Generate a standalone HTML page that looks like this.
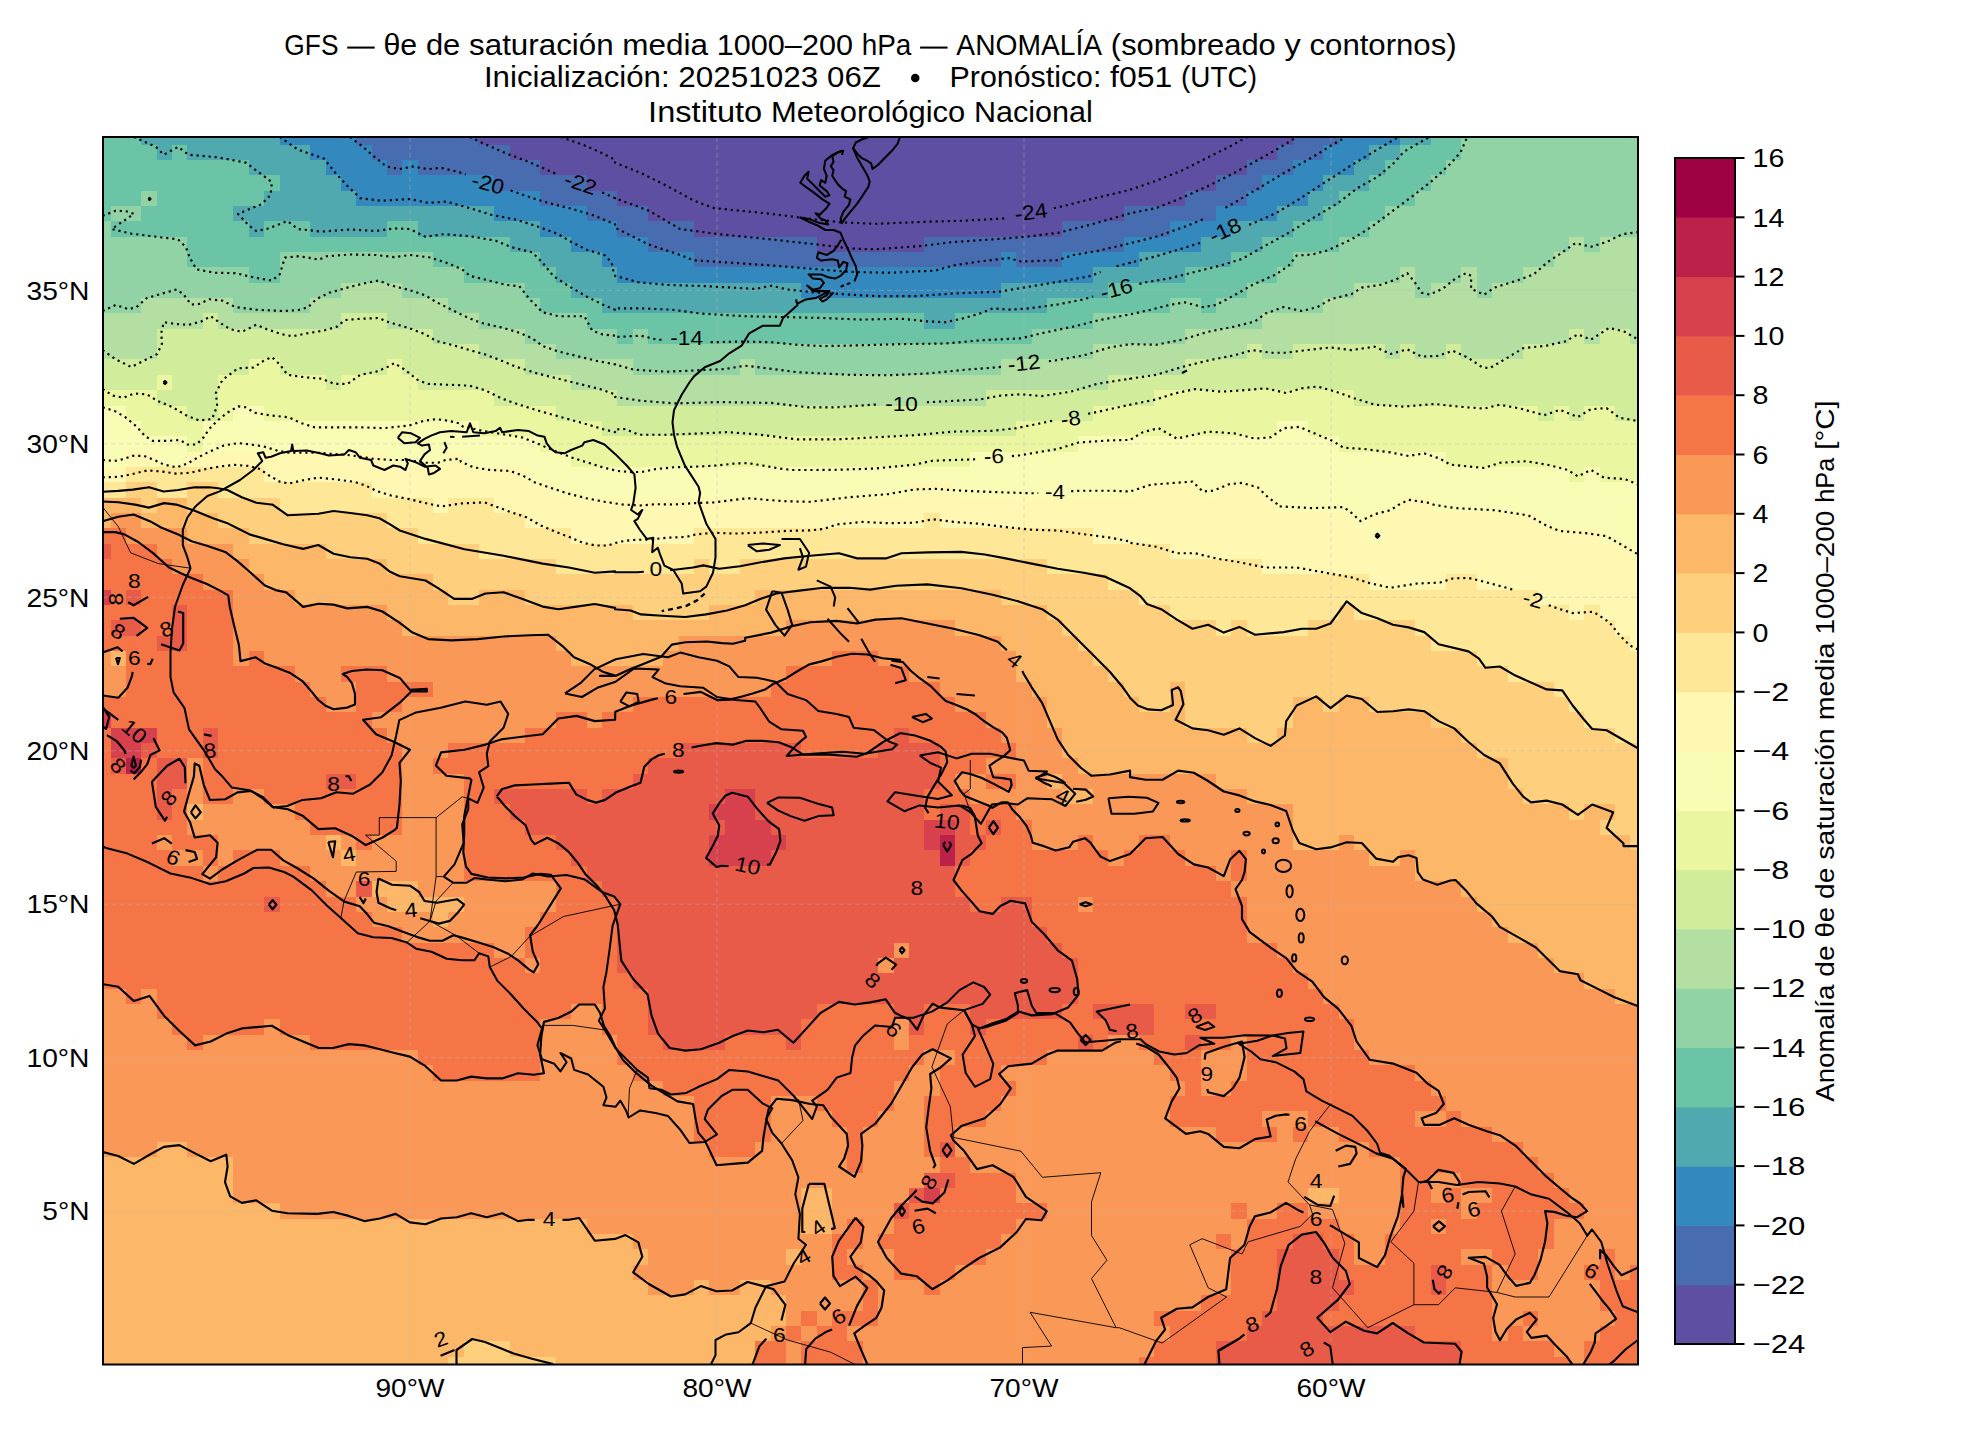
<!DOCTYPE html>
<html><head><meta charset="utf-8"><title>GFS</title>
<style>html,body{margin:0;padding:0;background:#fff}svg{display:block}text{font-family:"Liberation Sans",sans-serif;fill:#000}</style></head>
<body>
<svg width="1980" height="1440" viewBox="0 0 1980 1440">
<rect width="1980" height="1440" fill="#fff"/>
<text x="284.37" y="54.80" font-size="28.74" textLength="54.10" lengthAdjust="spacingAndGlyphs">GFS</text>
<rect x="347.21" y="46.55" width="27.50" height="2.06" fill="#000"/>
<text x="383.45" y="54.80" font-size="28.74" textLength="33.74" lengthAdjust="spacingAndGlyphs">θe</text>
<text x="425.93" y="54.80" font-size="28.74" textLength="34.38" lengthAdjust="spacingAndGlyphs">de</text>
<text x="469.05" y="54.80" font-size="28.74" textLength="144.56" lengthAdjust="spacingAndGlyphs">saturación</text>
<text x="622.36" y="54.80" font-size="28.74" textLength="85.66" lengthAdjust="spacingAndGlyphs">media</text>
<text x="716.75" y="54.80" font-size="28.74" textLength="136.22" lengthAdjust="spacingAndGlyphs">1000–200</text>
<text x="861.72" y="54.80" font-size="28.74" textLength="49.63" lengthAdjust="spacingAndGlyphs">hPa</text>
<rect x="920.09" y="46.55" width="27.50" height="2.06" fill="#000"/>
<text x="956.33" y="54.80" font-size="28.74" textLength="145.81" lengthAdjust="spacingAndGlyphs">ANOMALÍA</text>
<text x="1110.88" y="54.80" font-size="28.74" textLength="164.88" lengthAdjust="spacingAndGlyphs">(sombreado</text>
<text x="1284.50" y="54.80" font-size="28.74" textLength="16.27" lengthAdjust="spacingAndGlyphs">y</text>
<text x="1309.52" y="54.80" font-size="28.74" textLength="147.11" lengthAdjust="spacingAndGlyphs">contornos)</text>
<text x="483.96" y="87.00" font-size="28.74" textLength="185.64" lengthAdjust="spacingAndGlyphs">Inicialización:</text>
<text x="678.35" y="87.00" font-size="28.74" textLength="139.97" lengthAdjust="spacingAndGlyphs">20251023</text>
<text x="827.06" y="87.00" font-size="28.74" textLength="53.83" lengthAdjust="spacingAndGlyphs">06Z</text>
<circle cx="915.23" cy="77.92" r="4.26" fill="#000"/>
<text x="949.57" y="87.00" font-size="28.74" textLength="151.84" lengthAdjust="spacingAndGlyphs">Pronóstico:</text>
<text x="1110.14" y="87.00" font-size="28.74" textLength="62.17" lengthAdjust="spacingAndGlyphs">f051</text>
<text x="1181.05" y="87.00" font-size="28.74" textLength="75.98" lengthAdjust="spacingAndGlyphs">(UTC)</text>
<text x="648.14" y="122.40" font-size="28.74" textLength="114.11" lengthAdjust="spacingAndGlyphs">Instituto</text>
<text x="770.99" y="122.40" font-size="28.74" textLength="194.20" lengthAdjust="spacingAndGlyphs">Meteorológico</text>
<text x="973.93" y="122.40" font-size="28.74" textLength="118.93" lengthAdjust="spacingAndGlyphs">Nacional</text>
<defs><clipPath id="cp"><rect x="103.0" y="137.0" width="1535.0" height="1227.5"/></clipPath></defs>
<g clip-path="url(#cp)" shape-rendering="crispEdges">
<rect x="95.33" y="129.33" width="46.65" height="15.94" fill="#6bc4a5"/>
<rect x="141.38" y="129.33" width="138.75" height="15.94" fill="#50a9af"/>
<rect x="279.52" y="129.33" width="77.35" height="15.94" fill="#3389bd"/>
<rect x="356.27" y="129.33" width="123.40" height="15.94" fill="#486cb0"/>
<rect x="479.07" y="129.33" width="814.15" height="15.94" fill="#5e4fa2"/>
<rect x="1292.62" y="129.33" width="46.65" height="15.94" fill="#486cb0"/>
<rect x="1338.67" y="129.33" width="62.00" height="15.94" fill="#3389bd"/>
<rect x="1400.08" y="129.33" width="31.30" height="15.94" fill="#50a9af"/>
<rect x="1430.77" y="129.33" width="31.30" height="15.94" fill="#6bc4a5"/>
<rect x="1461.47" y="129.33" width="184.80" height="15.94" fill="#91d3a4"/>
<rect x="95.33" y="144.67" width="62.00" height="15.94" fill="#6bc4a5"/>
<rect x="156.72" y="144.67" width="15.95" height="15.94" fill="#50a9af"/>
<rect x="172.07" y="144.67" width="15.95" height="15.94" fill="#6bc4a5"/>
<rect x="187.43" y="144.67" width="123.40" height="15.94" fill="#50a9af"/>
<rect x="310.23" y="144.67" width="62.00" height="15.94" fill="#3389bd"/>
<rect x="371.62" y="144.67" width="138.75" height="15.94" fill="#486cb0"/>
<rect x="509.77" y="144.67" width="768.10" height="15.94" fill="#5e4fa2"/>
<rect x="1277.27" y="144.67" width="46.65" height="15.94" fill="#486cb0"/>
<rect x="1323.33" y="144.67" width="46.65" height="15.94" fill="#3389bd"/>
<rect x="1369.38" y="144.67" width="31.30" height="15.94" fill="#50a9af"/>
<rect x="1400.08" y="144.67" width="62.00" height="15.94" fill="#6bc4a5"/>
<rect x="1461.47" y="144.67" width="184.80" height="15.94" fill="#91d3a4"/>
<rect x="95.33" y="160.02" width="154.10" height="15.94" fill="#6bc4a5"/>
<rect x="248.82" y="160.02" width="77.35" height="15.94" fill="#50a9af"/>
<rect x="325.57" y="160.02" width="62.00" height="15.94" fill="#3389bd"/>
<rect x="386.97" y="160.02" width="15.95" height="15.94" fill="#486cb0"/>
<rect x="402.32" y="160.02" width="15.95" height="15.94" fill="#3389bd"/>
<rect x="417.68" y="160.02" width="123.40" height="15.94" fill="#486cb0"/>
<rect x="540.47" y="160.02" width="706.70" height="15.94" fill="#5e4fa2"/>
<rect x="1246.58" y="160.02" width="46.65" height="15.94" fill="#486cb0"/>
<rect x="1292.62" y="160.02" width="62.00" height="15.94" fill="#3389bd"/>
<rect x="1354.02" y="160.02" width="31.30" height="15.94" fill="#50a9af"/>
<rect x="1384.72" y="160.02" width="62.00" height="15.94" fill="#6bc4a5"/>
<rect x="1446.12" y="160.02" width="200.15" height="15.94" fill="#91d3a4"/>
<rect x="95.33" y="175.36" width="184.80" height="15.94" fill="#6bc4a5"/>
<rect x="279.52" y="175.36" width="62.00" height="15.94" fill="#50a9af"/>
<rect x="340.92" y="175.36" width="154.10" height="15.94" fill="#3389bd"/>
<rect x="494.43" y="175.36" width="92.70" height="15.94" fill="#486cb0"/>
<rect x="586.52" y="175.36" width="629.95" height="15.94" fill="#5e4fa2"/>
<rect x="1215.88" y="175.36" width="46.65" height="15.94" fill="#486cb0"/>
<rect x="1261.92" y="175.36" width="62.00" height="15.94" fill="#3389bd"/>
<rect x="1323.33" y="175.36" width="46.65" height="15.94" fill="#50a9af"/>
<rect x="1369.38" y="175.36" width="62.00" height="15.94" fill="#6bc4a5"/>
<rect x="1430.77" y="175.36" width="215.50" height="15.94" fill="#91d3a4"/>
<rect x="95.33" y="190.70" width="46.65" height="15.94" fill="#6bc4a5"/>
<rect x="141.38" y="190.70" width="15.95" height="15.94" fill="#91d3a4"/>
<rect x="156.72" y="190.70" width="108.05" height="15.94" fill="#6bc4a5"/>
<rect x="264.17" y="190.70" width="92.70" height="15.94" fill="#50a9af"/>
<rect x="356.27" y="190.70" width="184.80" height="15.94" fill="#3389bd"/>
<rect x="540.47" y="190.70" width="77.35" height="15.94" fill="#486cb0"/>
<rect x="617.23" y="190.70" width="568.55" height="15.94" fill="#5e4fa2"/>
<rect x="1185.17" y="190.70" width="62.00" height="15.94" fill="#486cb0"/>
<rect x="1246.58" y="190.70" width="62.00" height="15.94" fill="#3389bd"/>
<rect x="1307.97" y="190.70" width="31.30" height="15.94" fill="#50a9af"/>
<rect x="1338.67" y="190.70" width="77.35" height="15.94" fill="#6bc4a5"/>
<rect x="1415.42" y="190.70" width="230.85" height="15.94" fill="#91d3a4"/>
<rect x="95.33" y="206.05" width="15.95" height="15.94" fill="#6bc4a5"/>
<rect x="110.67" y="206.05" width="31.30" height="15.94" fill="#91d3a4"/>
<rect x="141.38" y="206.05" width="92.70" height="15.94" fill="#6bc4a5"/>
<rect x="233.47" y="206.05" width="261.55" height="15.94" fill="#50a9af"/>
<rect x="494.43" y="206.05" width="92.70" height="15.94" fill="#3389bd"/>
<rect x="586.52" y="206.05" width="62.00" height="15.94" fill="#486cb0"/>
<rect x="647.92" y="206.05" width="476.45" height="15.94" fill="#5e4fa2"/>
<rect x="1123.78" y="206.05" width="92.70" height="15.94" fill="#486cb0"/>
<rect x="1215.88" y="206.05" width="62.00" height="15.94" fill="#3389bd"/>
<rect x="1277.27" y="206.05" width="46.65" height="15.94" fill="#50a9af"/>
<rect x="1323.33" y="206.05" width="62.00" height="15.94" fill="#6bc4a5"/>
<rect x="1384.72" y="206.05" width="261.55" height="15.94" fill="#91d3a4"/>
<rect x="95.33" y="221.39" width="15.95" height="15.94" fill="#91d3a4"/>
<rect x="110.67" y="221.39" width="138.75" height="15.94" fill="#6bc4a5"/>
<rect x="248.82" y="221.39" width="15.95" height="15.94" fill="#50a9af"/>
<rect x="264.17" y="221.39" width="46.65" height="15.94" fill="#6bc4a5"/>
<rect x="310.23" y="221.39" width="77.35" height="15.94" fill="#50a9af"/>
<rect x="386.97" y="221.39" width="31.30" height="15.94" fill="#6bc4a5"/>
<rect x="417.68" y="221.39" width="123.40" height="15.94" fill="#50a9af"/>
<rect x="540.47" y="221.39" width="77.35" height="15.94" fill="#3389bd"/>
<rect x="617.23" y="221.39" width="77.35" height="15.94" fill="#486cb0"/>
<rect x="693.98" y="221.39" width="369.00" height="15.94" fill="#5e4fa2"/>
<rect x="1062.38" y="221.39" width="108.05" height="15.94" fill="#486cb0"/>
<rect x="1169.83" y="221.39" width="62.00" height="15.94" fill="#3389bd"/>
<rect x="1231.22" y="221.39" width="62.00" height="15.94" fill="#50a9af"/>
<rect x="1292.62" y="221.39" width="77.35" height="15.94" fill="#6bc4a5"/>
<rect x="1369.38" y="221.39" width="276.90" height="15.94" fill="#91d3a4"/>
<rect x="95.33" y="236.73" width="92.70" height="15.94" fill="#91d3a4"/>
<rect x="187.43" y="236.73" width="322.95" height="15.94" fill="#6bc4a5"/>
<rect x="509.77" y="236.73" width="62.00" height="15.94" fill="#50a9af"/>
<rect x="571.17" y="236.73" width="77.35" height="15.94" fill="#3389bd"/>
<rect x="647.92" y="236.73" width="169.45" height="15.94" fill="#486cb0"/>
<rect x="816.77" y="236.73" width="108.05" height="15.94" fill="#5e4fa2"/>
<rect x="924.23" y="236.73" width="200.15" height="15.94" fill="#486cb0"/>
<rect x="1123.78" y="236.73" width="77.35" height="15.94" fill="#3389bd"/>
<rect x="1200.52" y="236.73" width="62.00" height="15.94" fill="#50a9af"/>
<rect x="1261.92" y="236.73" width="77.35" height="15.94" fill="#6bc4a5"/>
<rect x="1338.67" y="236.73" width="230.85" height="15.94" fill="#91d3a4"/>
<rect x="1568.92" y="236.73" width="15.95" height="15.94" fill="#b3e0a2"/>
<rect x="1584.27" y="236.73" width="15.95" height="15.94" fill="#91d3a4"/>
<rect x="1599.62" y="236.73" width="46.65" height="15.94" fill="#b3e0a2"/>
<rect x="95.33" y="252.08" width="92.70" height="15.94" fill="#91d3a4"/>
<rect x="187.43" y="252.08" width="92.70" height="15.94" fill="#6bc4a5"/>
<rect x="279.52" y="252.08" width="154.10" height="15.94" fill="#91d3a4"/>
<rect x="433.02" y="252.08" width="108.05" height="15.94" fill="#6bc4a5"/>
<rect x="540.47" y="252.08" width="62.00" height="15.94" fill="#50a9af"/>
<rect x="601.88" y="252.08" width="92.70" height="15.94" fill="#3389bd"/>
<rect x="693.98" y="252.08" width="307.60" height="15.94" fill="#486cb0"/>
<rect x="1000.98" y="252.08" width="15.95" height="15.94" fill="#3389bd"/>
<rect x="1016.32" y="252.08" width="46.65" height="15.94" fill="#486cb0"/>
<rect x="1062.38" y="252.08" width="77.35" height="15.94" fill="#3389bd"/>
<rect x="1139.12" y="252.08" width="92.70" height="15.94" fill="#50a9af"/>
<rect x="1231.22" y="252.08" width="62.00" height="15.94" fill="#6bc4a5"/>
<rect x="1292.62" y="252.08" width="261.55" height="15.94" fill="#91d3a4"/>
<rect x="1553.58" y="252.08" width="92.70" height="15.94" fill="#b3e0a2"/>
<rect x="95.33" y="267.42" width="154.10" height="15.94" fill="#91d3a4"/>
<rect x="248.82" y="267.42" width="31.30" height="15.94" fill="#6bc4a5"/>
<rect x="279.52" y="267.42" width="184.80" height="15.94" fill="#91d3a4"/>
<rect x="463.72" y="267.42" width="92.70" height="15.94" fill="#6bc4a5"/>
<rect x="555.83" y="267.42" width="62.00" height="15.94" fill="#50a9af"/>
<rect x="617.23" y="267.42" width="476.45" height="15.94" fill="#3389bd"/>
<rect x="1093.07" y="267.42" width="92.70" height="15.94" fill="#50a9af"/>
<rect x="1185.17" y="267.42" width="92.70" height="15.94" fill="#6bc4a5"/>
<rect x="1277.27" y="267.42" width="123.40" height="15.94" fill="#91d3a4"/>
<rect x="1400.08" y="267.42" width="15.95" height="15.94" fill="#b3e0a2"/>
<rect x="1415.42" y="267.42" width="46.65" height="15.94" fill="#91d3a4"/>
<rect x="1461.47" y="267.42" width="15.95" height="15.94" fill="#b3e0a2"/>
<rect x="1476.83" y="267.42" width="46.65" height="15.94" fill="#91d3a4"/>
<rect x="1522.88" y="267.42" width="123.40" height="15.94" fill="#b3e0a2"/>
<rect x="95.33" y="282.77" width="246.20" height="15.94" fill="#91d3a4"/>
<rect x="340.92" y="282.77" width="62.00" height="15.94" fill="#b3e0a2"/>
<rect x="402.32" y="282.77" width="123.40" height="15.94" fill="#91d3a4"/>
<rect x="525.12" y="282.77" width="46.65" height="15.94" fill="#6bc4a5"/>
<rect x="571.17" y="282.77" width="230.85" height="15.94" fill="#50a9af"/>
<rect x="801.42" y="282.77" width="200.15" height="15.94" fill="#3389bd"/>
<rect x="1000.98" y="282.77" width="108.05" height="15.94" fill="#50a9af"/>
<rect x="1108.42" y="282.77" width="138.75" height="15.94" fill="#6bc4a5"/>
<rect x="1246.58" y="282.77" width="108.05" height="15.94" fill="#91d3a4"/>
<rect x="1354.02" y="282.77" width="62.00" height="15.94" fill="#b3e0a2"/>
<rect x="1415.42" y="282.77" width="15.95" height="15.94" fill="#91d3a4"/>
<rect x="1430.77" y="282.77" width="46.65" height="15.94" fill="#b3e0a2"/>
<rect x="1476.83" y="282.77" width="15.95" height="15.94" fill="#91d3a4"/>
<rect x="1492.17" y="282.77" width="154.10" height="15.94" fill="#b3e0a2"/>
<rect x="95.33" y="298.11" width="46.65" height="15.94" fill="#91d3a4"/>
<rect x="141.38" y="298.11" width="92.70" height="15.94" fill="#b3e0a2"/>
<rect x="233.47" y="298.11" width="77.35" height="15.94" fill="#91d3a4"/>
<rect x="310.23" y="298.11" width="138.75" height="15.94" fill="#b3e0a2"/>
<rect x="448.38" y="298.11" width="92.70" height="15.94" fill="#91d3a4"/>
<rect x="540.47" y="298.11" width="62.00" height="15.94" fill="#6bc4a5"/>
<rect x="601.88" y="298.11" width="445.75" height="15.94" fill="#50a9af"/>
<rect x="1047.03" y="298.11" width="123.40" height="15.94" fill="#6bc4a5"/>
<rect x="1169.83" y="298.11" width="31.30" height="15.94" fill="#91d3a4"/>
<rect x="1200.52" y="298.11" width="15.95" height="15.94" fill="#6bc4a5"/>
<rect x="1215.88" y="298.11" width="108.05" height="15.94" fill="#91d3a4"/>
<rect x="1323.33" y="298.11" width="322.95" height="15.94" fill="#b3e0a2"/>
<rect x="95.33" y="313.45" width="108.05" height="15.94" fill="#b3e0a2"/>
<rect x="202.77" y="313.45" width="15.95" height="15.94" fill="#d1ed9c"/>
<rect x="218.12" y="313.45" width="123.40" height="15.94" fill="#b3e0a2"/>
<rect x="340.92" y="313.45" width="46.65" height="15.94" fill="#d1ed9c"/>
<rect x="386.97" y="313.45" width="92.70" height="15.94" fill="#b3e0a2"/>
<rect x="479.07" y="313.45" width="108.05" height="15.94" fill="#91d3a4"/>
<rect x="586.52" y="313.45" width="338.30" height="15.94" fill="#6bc4a5"/>
<rect x="924.23" y="313.45" width="31.30" height="15.94" fill="#50a9af"/>
<rect x="954.92" y="313.45" width="138.75" height="15.94" fill="#6bc4a5"/>
<rect x="1093.07" y="313.45" width="169.45" height="15.94" fill="#91d3a4"/>
<rect x="1261.92" y="313.45" width="384.35" height="15.94" fill="#b3e0a2"/>
<rect x="95.33" y="328.80" width="62.00" height="15.94" fill="#b3e0a2"/>
<rect x="156.72" y="328.80" width="276.90" height="15.94" fill="#d1ed9c"/>
<rect x="433.02" y="328.80" width="92.70" height="15.94" fill="#b3e0a2"/>
<rect x="525.12" y="328.80" width="92.70" height="15.94" fill="#91d3a4"/>
<rect x="617.23" y="328.80" width="15.95" height="15.94" fill="#6bc4a5"/>
<rect x="632.57" y="328.80" width="15.95" height="15.94" fill="#91d3a4"/>
<rect x="647.92" y="328.80" width="384.35" height="15.94" fill="#6bc4a5"/>
<rect x="1031.67" y="328.80" width="154.10" height="15.94" fill="#91d3a4"/>
<rect x="1185.17" y="328.80" width="384.35" height="15.94" fill="#b3e0a2"/>
<rect x="1568.92" y="328.80" width="15.95" height="15.94" fill="#d1ed9c"/>
<rect x="1584.27" y="328.80" width="15.95" height="15.94" fill="#b3e0a2"/>
<rect x="1599.62" y="328.80" width="31.30" height="15.94" fill="#d1ed9c"/>
<rect x="1630.33" y="328.80" width="15.95" height="15.94" fill="#b3e0a2"/>
<rect x="95.33" y="344.14" width="62.00" height="15.94" fill="#b3e0a2"/>
<rect x="156.72" y="344.14" width="322.95" height="15.94" fill="#d1ed9c"/>
<rect x="479.07" y="344.14" width="77.35" height="15.94" fill="#b3e0a2"/>
<rect x="555.83" y="344.14" width="537.85" height="15.94" fill="#91d3a4"/>
<rect x="1093.07" y="344.14" width="154.10" height="15.94" fill="#b3e0a2"/>
<rect x="1246.58" y="344.14" width="15.95" height="15.94" fill="#d1ed9c"/>
<rect x="1261.92" y="344.14" width="31.30" height="15.94" fill="#b3e0a2"/>
<rect x="1292.62" y="344.14" width="92.70" height="15.94" fill="#d1ed9c"/>
<rect x="1384.72" y="344.14" width="15.95" height="15.94" fill="#b3e0a2"/>
<rect x="1400.08" y="344.14" width="15.95" height="15.94" fill="#d1ed9c"/>
<rect x="1415.42" y="344.14" width="31.30" height="15.94" fill="#b3e0a2"/>
<rect x="1446.12" y="344.14" width="15.95" height="15.94" fill="#d1ed9c"/>
<rect x="1461.47" y="344.14" width="62.00" height="15.94" fill="#b3e0a2"/>
<rect x="1522.88" y="344.14" width="123.40" height="15.94" fill="#d1ed9c"/>
<rect x="95.33" y="359.48" width="154.10" height="15.94" fill="#d1ed9c"/>
<rect x="248.82" y="359.48" width="31.30" height="15.94" fill="#ebf7a0"/>
<rect x="279.52" y="359.48" width="108.05" height="15.94" fill="#d1ed9c"/>
<rect x="386.97" y="359.48" width="15.95" height="15.94" fill="#ebf7a0"/>
<rect x="402.32" y="359.48" width="123.40" height="15.94" fill="#d1ed9c"/>
<rect x="525.12" y="359.48" width="108.05" height="15.94" fill="#b3e0a2"/>
<rect x="632.57" y="359.48" width="108.05" height="15.94" fill="#91d3a4"/>
<rect x="740.02" y="359.48" width="15.95" height="15.94" fill="#b3e0a2"/>
<rect x="755.38" y="359.48" width="246.20" height="15.94" fill="#91d3a4"/>
<rect x="1000.98" y="359.48" width="184.80" height="15.94" fill="#b3e0a2"/>
<rect x="1185.17" y="359.48" width="461.10" height="15.94" fill="#d1ed9c"/>
<rect x="95.33" y="374.83" width="62.00" height="15.94" fill="#d1ed9c"/>
<rect x="156.72" y="374.83" width="15.95" height="15.94" fill="#ebf7a0"/>
<rect x="172.07" y="374.83" width="46.65" height="15.94" fill="#d1ed9c"/>
<rect x="218.12" y="374.83" width="108.05" height="15.94" fill="#ebf7a0"/>
<rect x="325.57" y="374.83" width="15.95" height="15.94" fill="#d1ed9c"/>
<rect x="340.92" y="374.83" width="77.35" height="15.94" fill="#ebf7a0"/>
<rect x="417.68" y="374.83" width="154.10" height="15.94" fill="#d1ed9c"/>
<rect x="571.17" y="374.83" width="537.85" height="15.94" fill="#b3e0a2"/>
<rect x="1108.42" y="374.83" width="537.85" height="15.94" fill="#d1ed9c"/>
<rect x="95.33" y="390.17" width="62.00" height="15.94" fill="#ebf7a0"/>
<rect x="156.72" y="390.17" width="62.00" height="15.94" fill="#d1ed9c"/>
<rect x="218.12" y="390.17" width="276.90" height="15.94" fill="#ebf7a0"/>
<rect x="494.43" y="390.17" width="123.40" height="15.94" fill="#d1ed9c"/>
<rect x="617.23" y="390.17" width="369.00" height="15.94" fill="#b3e0a2"/>
<rect x="985.62" y="390.17" width="169.45" height="15.94" fill="#d1ed9c"/>
<rect x="1154.47" y="390.17" width="200.15" height="15.94" fill="#ebf7a0"/>
<rect x="1354.02" y="390.17" width="292.25" height="15.94" fill="#d1ed9c"/>
<rect x="95.33" y="405.52" width="31.30" height="15.94" fill="#f8fcb4"/>
<rect x="126.03" y="405.52" width="62.00" height="15.94" fill="#ebf7a0"/>
<rect x="187.43" y="405.52" width="31.30" height="15.94" fill="#d1ed9c"/>
<rect x="218.12" y="405.52" width="15.95" height="15.94" fill="#ebf7a0"/>
<rect x="233.47" y="405.52" width="31.30" height="15.94" fill="#f8fcb4"/>
<rect x="264.17" y="405.52" width="292.25" height="15.94" fill="#ebf7a0"/>
<rect x="555.83" y="405.52" width="537.85" height="15.94" fill="#d1ed9c"/>
<rect x="1093.07" y="405.52" width="445.75" height="15.94" fill="#ebf7a0"/>
<rect x="1538.22" y="405.52" width="15.95" height="15.94" fill="#d1ed9c"/>
<rect x="1553.58" y="405.52" width="15.95" height="15.94" fill="#ebf7a0"/>
<rect x="1568.92" y="405.52" width="15.95" height="15.94" fill="#d1ed9c"/>
<rect x="1584.27" y="405.52" width="31.30" height="15.94" fill="#ebf7a0"/>
<rect x="1614.97" y="405.52" width="31.30" height="15.94" fill="#d1ed9c"/>
<rect x="95.33" y="420.86" width="46.65" height="15.94" fill="#f8fcb4"/>
<rect x="141.38" y="420.86" width="62.00" height="15.94" fill="#ebf7a0"/>
<rect x="202.77" y="420.86" width="276.90" height="15.94" fill="#f8fcb4"/>
<rect x="479.07" y="420.86" width="123.40" height="15.94" fill="#ebf7a0"/>
<rect x="601.88" y="420.86" width="415.05" height="15.94" fill="#d1ed9c"/>
<rect x="1016.32" y="420.86" width="261.55" height="15.94" fill="#ebf7a0"/>
<rect x="1277.27" y="420.86" width="31.30" height="15.94" fill="#f8fcb4"/>
<rect x="1307.97" y="420.86" width="338.30" height="15.94" fill="#ebf7a0"/>
<rect x="95.33" y="436.20" width="92.70" height="15.94" fill="#f8fcb4"/>
<rect x="187.43" y="436.20" width="15.95" height="15.94" fill="#ebf7a0"/>
<rect x="202.77" y="436.20" width="338.30" height="15.94" fill="#f8fcb4"/>
<rect x="540.47" y="436.20" width="537.85" height="15.94" fill="#ebf7a0"/>
<rect x="1077.72" y="436.20" width="261.55" height="15.94" fill="#f8fcb4"/>
<rect x="1338.67" y="436.20" width="307.60" height="15.94" fill="#ebf7a0"/>
<rect x="95.33" y="451.55" width="31.30" height="15.94" fill="#f8fcb4"/>
<rect x="126.03" y="451.55" width="31.30" height="15.94" fill="#fff7b2"/>
<rect x="156.72" y="451.55" width="31.30" height="15.94" fill="#f8fcb4"/>
<rect x="187.43" y="451.55" width="200.15" height="15.94" fill="#fff7b2"/>
<rect x="386.97" y="451.55" width="62.00" height="15.94" fill="#f8fcb4"/>
<rect x="448.38" y="451.55" width="15.95" height="15.94" fill="#fff7b2"/>
<rect x="463.72" y="451.55" width="108.05" height="15.94" fill="#f8fcb4"/>
<rect x="571.17" y="451.55" width="399.70" height="15.94" fill="#ebf7a0"/>
<rect x="970.27" y="451.55" width="476.45" height="15.94" fill="#f8fcb4"/>
<rect x="1446.12" y="451.55" width="200.15" height="15.94" fill="#ebf7a0"/>
<rect x="95.33" y="466.89" width="31.30" height="15.94" fill="#fff7b2"/>
<rect x="126.03" y="466.89" width="138.75" height="15.94" fill="#fee797"/>
<rect x="264.17" y="466.89" width="261.55" height="15.94" fill="#fff7b2"/>
<rect x="525.12" y="466.89" width="1044.40" height="15.94" fill="#f8fcb4"/>
<rect x="1568.92" y="466.89" width="15.95" height="15.94" fill="#ebf7a0"/>
<rect x="1584.27" y="466.89" width="15.95" height="15.94" fill="#f8fcb4"/>
<rect x="1599.62" y="466.89" width="46.65" height="15.94" fill="#ebf7a0"/>
<rect x="95.33" y="482.23" width="31.30" height="15.94" fill="#fee797"/>
<rect x="126.03" y="482.23" width="31.30" height="15.94" fill="#fed07e"/>
<rect x="156.72" y="482.23" width="31.30" height="15.94" fill="#fee797"/>
<rect x="187.43" y="482.23" width="31.30" height="15.94" fill="#fed07e"/>
<rect x="218.12" y="482.23" width="154.10" height="15.94" fill="#fee797"/>
<rect x="371.62" y="482.23" width="184.80" height="15.94" fill="#fff7b2"/>
<rect x="555.83" y="482.23" width="353.65" height="15.94" fill="#f8fcb4"/>
<rect x="908.88" y="482.23" width="46.65" height="15.94" fill="#fff7b2"/>
<rect x="954.92" y="482.23" width="184.80" height="15.94" fill="#f8fcb4"/>
<rect x="1139.12" y="482.23" width="62.00" height="15.94" fill="#fff7b2"/>
<rect x="1200.52" y="482.23" width="15.95" height="15.94" fill="#f8fcb4"/>
<rect x="1215.88" y="482.23" width="46.65" height="15.94" fill="#fff7b2"/>
<rect x="1261.92" y="482.23" width="384.35" height="15.94" fill="#f8fcb4"/>
<rect x="95.33" y="497.58" width="46.65" height="15.94" fill="#fdb768"/>
<rect x="141.38" y="497.58" width="15.95" height="15.94" fill="#fed07e"/>
<rect x="156.72" y="497.58" width="31.30" height="15.94" fill="#fdb768"/>
<rect x="187.43" y="497.58" width="92.70" height="15.94" fill="#fed07e"/>
<rect x="279.52" y="497.58" width="154.10" height="15.94" fill="#fee797"/>
<rect x="433.02" y="497.58" width="15.95" height="15.94" fill="#fff7b2"/>
<rect x="448.38" y="497.58" width="46.65" height="15.94" fill="#fee797"/>
<rect x="494.43" y="497.58" width="783.45" height="15.94" fill="#fff7b2"/>
<rect x="1277.27" y="497.58" width="123.40" height="15.94" fill="#f8fcb4"/>
<rect x="1400.08" y="497.58" width="31.30" height="15.94" fill="#fff7b2"/>
<rect x="1430.77" y="497.58" width="215.50" height="15.94" fill="#f8fcb4"/>
<rect x="95.33" y="512.92" width="15.95" height="15.94" fill="#fdb768"/>
<rect x="110.67" y="512.92" width="31.30" height="15.94" fill="#fa9857"/>
<rect x="141.38" y="512.92" width="77.35" height="15.94" fill="#fdb768"/>
<rect x="218.12" y="512.92" width="169.45" height="15.94" fill="#fed07e"/>
<rect x="386.97" y="512.92" width="138.75" height="15.94" fill="#fee797"/>
<rect x="525.12" y="512.92" width="399.70" height="15.94" fill="#fff7b2"/>
<rect x="924.23" y="512.92" width="15.95" height="15.94" fill="#fee797"/>
<rect x="939.57" y="512.92" width="415.05" height="15.94" fill="#fff7b2"/>
<rect x="1354.02" y="512.92" width="15.95" height="15.94" fill="#f8fcb4"/>
<rect x="1369.38" y="512.92" width="169.45" height="15.94" fill="#fff7b2"/>
<rect x="1538.22" y="512.92" width="108.05" height="15.94" fill="#f8fcb4"/>
<rect x="95.33" y="528.27" width="31.30" height="15.94" fill="#f57547"/>
<rect x="126.03" y="528.27" width="62.00" height="15.94" fill="#fa9857"/>
<rect x="187.43" y="528.27" width="62.00" height="15.94" fill="#fdb768"/>
<rect x="248.82" y="528.27" width="169.45" height="15.94" fill="#fed07e"/>
<rect x="417.68" y="528.27" width="154.10" height="15.94" fill="#fee797"/>
<rect x="571.17" y="528.27" width="123.40" height="15.94" fill="#fff7b2"/>
<rect x="693.98" y="528.27" width="399.70" height="15.94" fill="#fee797"/>
<rect x="1093.07" y="528.27" width="276.90" height="15.94" fill="#fff7b2"/>
<rect x="1369.38" y="528.27" width="15.95" height="15.94" fill="#f8fcb4"/>
<rect x="1384.72" y="528.27" width="215.50" height="15.94" fill="#fff7b2"/>
<rect x="1599.62" y="528.27" width="46.65" height="15.94" fill="#f8fcb4"/>
<rect x="95.33" y="543.61" width="15.95" height="15.94" fill="#e85b48"/>
<rect x="110.67" y="543.61" width="46.65" height="15.94" fill="#f57547"/>
<rect x="156.72" y="543.61" width="77.35" height="15.94" fill="#fa9857"/>
<rect x="233.47" y="543.61" width="92.70" height="15.94" fill="#fdb768"/>
<rect x="325.57" y="543.61" width="154.10" height="15.94" fill="#fed07e"/>
<rect x="479.07" y="543.61" width="691.35" height="15.94" fill="#fee797"/>
<rect x="1169.83" y="543.61" width="461.10" height="15.94" fill="#fff7b2"/>
<rect x="1630.33" y="543.61" width="15.95" height="15.94" fill="#f8fcb4"/>
<rect x="95.33" y="558.95" width="77.35" height="15.94" fill="#f57547"/>
<rect x="172.07" y="558.95" width="77.35" height="15.94" fill="#fa9857"/>
<rect x="248.82" y="558.95" width="138.75" height="15.94" fill="#fdb768"/>
<rect x="386.97" y="558.95" width="169.45" height="15.94" fill="#fed07e"/>
<rect x="555.83" y="558.95" width="138.75" height="15.94" fill="#fee797"/>
<rect x="693.98" y="558.95" width="15.95" height="15.94" fill="#fed07e"/>
<rect x="709.32" y="558.95" width="31.30" height="15.94" fill="#fee797"/>
<rect x="740.02" y="558.95" width="307.60" height="15.94" fill="#fed07e"/>
<rect x="1047.03" y="558.95" width="215.50" height="15.94" fill="#fee797"/>
<rect x="1261.92" y="558.95" width="384.35" height="15.94" fill="#fff7b2"/>
<rect x="95.33" y="574.30" width="108.05" height="15.94" fill="#f57547"/>
<rect x="202.77" y="574.30" width="62.00" height="15.94" fill="#fa9857"/>
<rect x="264.17" y="574.30" width="169.45" height="15.94" fill="#fdb768"/>
<rect x="433.02" y="574.30" width="676.00" height="15.94" fill="#fed07e"/>
<rect x="1108.42" y="574.30" width="261.55" height="15.94" fill="#fee797"/>
<rect x="1369.38" y="574.30" width="77.35" height="15.94" fill="#fff7b2"/>
<rect x="1446.12" y="574.30" width="31.30" height="15.94" fill="#fee797"/>
<rect x="1476.83" y="574.30" width="169.45" height="15.94" fill="#fff7b2"/>
<rect x="95.33" y="589.64" width="15.95" height="15.94" fill="#d7414e"/>
<rect x="110.67" y="589.64" width="15.95" height="15.94" fill="#f57547"/>
<rect x="126.03" y="589.64" width="15.95" height="15.94" fill="#e85b48"/>
<rect x="141.38" y="589.64" width="92.70" height="15.94" fill="#f57547"/>
<rect x="233.47" y="589.64" width="62.00" height="15.94" fill="#fa9857"/>
<rect x="294.88" y="589.64" width="154.10" height="15.94" fill="#fdb768"/>
<rect x="448.38" y="589.64" width="31.30" height="15.94" fill="#fed07e"/>
<rect x="479.07" y="589.64" width="46.65" height="15.94" fill="#fdb768"/>
<rect x="525.12" y="589.64" width="230.85" height="15.94" fill="#fed07e"/>
<rect x="755.38" y="589.64" width="246.20" height="15.94" fill="#fdb768"/>
<rect x="1000.98" y="589.64" width="138.75" height="15.94" fill="#fed07e"/>
<rect x="1139.12" y="589.64" width="399.70" height="15.94" fill="#fee797"/>
<rect x="1538.22" y="589.64" width="108.05" height="15.94" fill="#fff7b2"/>
<rect x="95.33" y="604.98" width="77.35" height="15.94" fill="#f57547"/>
<rect x="172.07" y="604.98" width="15.95" height="15.94" fill="#e85b48"/>
<rect x="187.43" y="604.98" width="46.65" height="15.94" fill="#f57547"/>
<rect x="233.47" y="604.98" width="154.10" height="15.94" fill="#fa9857"/>
<rect x="386.97" y="604.98" width="246.20" height="15.94" fill="#fdb768"/>
<rect x="632.57" y="604.98" width="77.35" height="15.94" fill="#fed07e"/>
<rect x="709.32" y="604.98" width="338.30" height="15.94" fill="#fdb768"/>
<rect x="1047.03" y="604.98" width="123.40" height="15.94" fill="#fed07e"/>
<rect x="1169.83" y="604.98" width="169.45" height="15.94" fill="#fee797"/>
<rect x="1338.67" y="604.98" width="15.95" height="15.94" fill="#fed07e"/>
<rect x="1354.02" y="604.98" width="215.50" height="15.94" fill="#fee797"/>
<rect x="1568.92" y="604.98" width="15.95" height="15.94" fill="#fff7b2"/>
<rect x="1584.27" y="604.98" width="15.95" height="15.94" fill="#fee797"/>
<rect x="1599.62" y="604.98" width="46.65" height="15.94" fill="#fff7b2"/>
<rect x="95.33" y="620.33" width="15.95" height="15.94" fill="#f57547"/>
<rect x="110.67" y="620.33" width="31.30" height="15.94" fill="#e85b48"/>
<rect x="141.38" y="620.33" width="31.30" height="15.94" fill="#f57547"/>
<rect x="172.07" y="620.33" width="15.95" height="15.94" fill="#e85b48"/>
<rect x="187.43" y="620.33" width="46.65" height="15.94" fill="#f57547"/>
<rect x="233.47" y="620.33" width="169.45" height="15.94" fill="#fa9857"/>
<rect x="402.32" y="620.33" width="384.35" height="15.94" fill="#fdb768"/>
<rect x="786.07" y="620.33" width="169.45" height="15.94" fill="#fa9857"/>
<rect x="954.92" y="620.33" width="108.05" height="15.94" fill="#fdb768"/>
<rect x="1062.38" y="620.33" width="154.10" height="15.94" fill="#fed07e"/>
<rect x="1215.88" y="620.33" width="15.95" height="15.94" fill="#fee797"/>
<rect x="1231.22" y="620.33" width="15.95" height="15.94" fill="#fed07e"/>
<rect x="1246.58" y="620.33" width="62.00" height="15.94" fill="#fee797"/>
<rect x="1307.97" y="620.33" width="108.05" height="15.94" fill="#fed07e"/>
<rect x="1415.42" y="620.33" width="200.15" height="15.94" fill="#fee797"/>
<rect x="1614.97" y="620.33" width="31.30" height="15.94" fill="#fff7b2"/>
<rect x="95.33" y="635.67" width="62.00" height="15.94" fill="#f57547"/>
<rect x="156.72" y="635.67" width="31.30" height="15.94" fill="#e85b48"/>
<rect x="187.43" y="635.67" width="46.65" height="15.94" fill="#f57547"/>
<rect x="233.47" y="635.67" width="322.95" height="15.94" fill="#fa9857"/>
<rect x="555.83" y="635.67" width="123.40" height="15.94" fill="#fdb768"/>
<rect x="678.62" y="635.67" width="322.95" height="15.94" fill="#fa9857"/>
<rect x="1000.98" y="635.67" width="77.35" height="15.94" fill="#fdb768"/>
<rect x="1077.72" y="635.67" width="353.65" height="15.94" fill="#fed07e"/>
<rect x="1430.77" y="635.67" width="200.15" height="15.94" fill="#fee797"/>
<rect x="1630.33" y="635.67" width="15.95" height="15.94" fill="#fff7b2"/>
<rect x="95.33" y="651.02" width="15.95" height="15.94" fill="#fa9857"/>
<rect x="110.67" y="651.02" width="15.95" height="15.94" fill="#fdb768"/>
<rect x="126.03" y="651.02" width="108.05" height="15.94" fill="#f57547"/>
<rect x="233.47" y="651.02" width="15.95" height="15.94" fill="#fa9857"/>
<rect x="248.82" y="651.02" width="15.95" height="15.94" fill="#f57547"/>
<rect x="264.17" y="651.02" width="307.60" height="15.94" fill="#fa9857"/>
<rect x="571.17" y="651.02" width="92.70" height="15.94" fill="#fdb768"/>
<rect x="663.27" y="651.02" width="169.45" height="15.94" fill="#fa9857"/>
<rect x="832.12" y="651.02" width="46.65" height="15.94" fill="#f57547"/>
<rect x="878.17" y="651.02" width="138.75" height="15.94" fill="#fa9857"/>
<rect x="1016.32" y="651.02" width="77.35" height="15.94" fill="#fdb768"/>
<rect x="1093.07" y="651.02" width="384.35" height="15.94" fill="#fed07e"/>
<rect x="1476.83" y="651.02" width="169.45" height="15.94" fill="#fee797"/>
<rect x="95.33" y="666.36" width="31.30" height="15.94" fill="#fa9857"/>
<rect x="126.03" y="666.36" width="169.45" height="15.94" fill="#f57547"/>
<rect x="294.88" y="666.36" width="46.65" height="15.94" fill="#fa9857"/>
<rect x="340.92" y="666.36" width="46.65" height="15.94" fill="#f57547"/>
<rect x="386.97" y="666.36" width="399.70" height="15.94" fill="#fa9857"/>
<rect x="786.07" y="666.36" width="123.40" height="15.94" fill="#f57547"/>
<rect x="908.88" y="666.36" width="108.05" height="15.94" fill="#fa9857"/>
<rect x="1016.32" y="666.36" width="92.70" height="15.94" fill="#fdb768"/>
<rect x="1108.42" y="666.36" width="399.70" height="15.94" fill="#fed07e"/>
<rect x="1507.52" y="666.36" width="138.75" height="15.94" fill="#fee797"/>
<rect x="95.33" y="681.70" width="31.30" height="15.94" fill="#fa9857"/>
<rect x="126.03" y="681.70" width="184.80" height="15.94" fill="#f57547"/>
<rect x="310.23" y="681.70" width="46.65" height="15.94" fill="#fa9857"/>
<rect x="356.27" y="681.70" width="77.35" height="15.94" fill="#f57547"/>
<rect x="433.02" y="681.70" width="338.30" height="15.94" fill="#fa9857"/>
<rect x="770.73" y="681.70" width="169.45" height="15.94" fill="#f57547"/>
<rect x="939.57" y="681.70" width="92.70" height="15.94" fill="#fa9857"/>
<rect x="1031.67" y="681.70" width="92.70" height="15.94" fill="#fdb768"/>
<rect x="1123.78" y="681.70" width="46.65" height="15.94" fill="#fed07e"/>
<rect x="1169.83" y="681.70" width="15.95" height="15.94" fill="#fdb768"/>
<rect x="1185.17" y="681.70" width="369.00" height="15.94" fill="#fed07e"/>
<rect x="1553.58" y="681.70" width="92.70" height="15.94" fill="#fee797"/>
<rect x="95.33" y="697.05" width="230.85" height="15.94" fill="#f57547"/>
<rect x="325.57" y="697.05" width="31.30" height="15.94" fill="#fa9857"/>
<rect x="356.27" y="697.05" width="46.65" height="15.94" fill="#f57547"/>
<rect x="402.32" y="697.05" width="230.85" height="15.94" fill="#fa9857"/>
<rect x="632.57" y="697.05" width="322.95" height="15.94" fill="#f57547"/>
<rect x="954.92" y="697.05" width="92.70" height="15.94" fill="#fa9857"/>
<rect x="1047.03" y="697.05" width="92.70" height="15.94" fill="#fdb768"/>
<rect x="1139.12" y="697.05" width="31.30" height="15.94" fill="#fed07e"/>
<rect x="1169.83" y="697.05" width="15.95" height="15.94" fill="#fdb768"/>
<rect x="1185.17" y="697.05" width="108.05" height="15.94" fill="#fed07e"/>
<rect x="1292.62" y="697.05" width="31.30" height="15.94" fill="#fdb768"/>
<rect x="1323.33" y="697.05" width="15.95" height="15.94" fill="#fed07e"/>
<rect x="1338.67" y="697.05" width="31.30" height="15.94" fill="#fdb768"/>
<rect x="1369.38" y="697.05" width="200.15" height="15.94" fill="#fed07e"/>
<rect x="1568.92" y="697.05" width="77.35" height="15.94" fill="#fee797"/>
<rect x="95.33" y="712.39" width="15.95" height="15.94" fill="#d7414e"/>
<rect x="110.67" y="712.39" width="261.55" height="15.94" fill="#f57547"/>
<rect x="371.62" y="712.39" width="184.80" height="15.94" fill="#fa9857"/>
<rect x="555.83" y="712.39" width="31.30" height="15.94" fill="#f57547"/>
<rect x="586.52" y="712.39" width="15.95" height="15.94" fill="#fa9857"/>
<rect x="601.88" y="712.39" width="384.35" height="15.94" fill="#f57547"/>
<rect x="985.62" y="712.39" width="62.00" height="15.94" fill="#fa9857"/>
<rect x="1047.03" y="712.39" width="138.75" height="15.94" fill="#fdb768"/>
<rect x="1185.17" y="712.39" width="108.05" height="15.94" fill="#fed07e"/>
<rect x="1292.62" y="712.39" width="138.75" height="15.94" fill="#fdb768"/>
<rect x="1430.77" y="712.39" width="154.10" height="15.94" fill="#fed07e"/>
<rect x="1584.27" y="712.39" width="62.00" height="15.94" fill="#fee797"/>
<rect x="95.33" y="727.73" width="15.95" height="15.94" fill="#f57547"/>
<rect x="110.67" y="727.73" width="46.65" height="15.94" fill="#d7414e"/>
<rect x="156.72" y="727.73" width="46.65" height="15.94" fill="#f57547"/>
<rect x="202.77" y="727.73" width="15.95" height="15.94" fill="#e85b48"/>
<rect x="218.12" y="727.73" width="169.45" height="15.94" fill="#f57547"/>
<rect x="386.97" y="727.73" width="138.75" height="15.94" fill="#fa9857"/>
<rect x="525.12" y="727.73" width="369.00" height="15.94" fill="#f57547"/>
<rect x="893.52" y="727.73" width="15.95" height="15.94" fill="#e85b48"/>
<rect x="908.88" y="727.73" width="92.70" height="15.94" fill="#f57547"/>
<rect x="1000.98" y="727.73" width="62.00" height="15.94" fill="#fa9857"/>
<rect x="1062.38" y="727.73" width="184.80" height="15.94" fill="#fdb768"/>
<rect x="1246.58" y="727.73" width="31.30" height="15.94" fill="#fed07e"/>
<rect x="1277.27" y="727.73" width="184.80" height="15.94" fill="#fdb768"/>
<rect x="1461.47" y="727.73" width="154.10" height="15.94" fill="#fed07e"/>
<rect x="1614.97" y="727.73" width="31.30" height="15.94" fill="#fee797"/>
<rect x="95.33" y="743.08" width="15.95" height="15.94" fill="#f57547"/>
<rect x="110.67" y="743.08" width="31.30" height="15.94" fill="#d7414e"/>
<rect x="141.38" y="743.08" width="15.95" height="15.94" fill="#e85b48"/>
<rect x="156.72" y="743.08" width="46.65" height="15.94" fill="#f57547"/>
<rect x="202.77" y="743.08" width="15.95" height="15.94" fill="#e85b48"/>
<rect x="218.12" y="743.08" width="184.80" height="15.94" fill="#f57547"/>
<rect x="402.32" y="743.08" width="46.65" height="15.94" fill="#fa9857"/>
<rect x="448.38" y="743.08" width="230.85" height="15.94" fill="#f57547"/>
<rect x="678.62" y="743.08" width="123.40" height="15.94" fill="#e85b48"/>
<rect x="801.42" y="743.08" width="77.35" height="15.94" fill="#f57547"/>
<rect x="878.17" y="743.08" width="62.00" height="15.94" fill="#e85b48"/>
<rect x="939.57" y="743.08" width="77.35" height="15.94" fill="#f57547"/>
<rect x="1016.32" y="743.08" width="46.65" height="15.94" fill="#fa9857"/>
<rect x="1062.38" y="743.08" width="415.05" height="15.94" fill="#fdb768"/>
<rect x="1476.83" y="743.08" width="169.45" height="15.94" fill="#fed07e"/>
<rect x="95.33" y="758.42" width="15.95" height="15.94" fill="#f57547"/>
<rect x="110.67" y="758.42" width="15.95" height="15.94" fill="#e85b48"/>
<rect x="126.03" y="758.42" width="15.95" height="15.94" fill="#bc2249"/>
<rect x="141.38" y="758.42" width="15.95" height="15.94" fill="#f57547"/>
<rect x="156.72" y="758.42" width="31.30" height="15.94" fill="#e85b48"/>
<rect x="187.43" y="758.42" width="15.95" height="15.94" fill="#fa9857"/>
<rect x="202.77" y="758.42" width="200.15" height="15.94" fill="#f57547"/>
<rect x="402.32" y="758.42" width="31.30" height="15.94" fill="#fa9857"/>
<rect x="433.02" y="758.42" width="215.50" height="15.94" fill="#f57547"/>
<rect x="647.92" y="758.42" width="292.25" height="15.94" fill="#e85b48"/>
<rect x="939.57" y="758.42" width="46.65" height="15.94" fill="#f57547"/>
<rect x="985.62" y="758.42" width="92.70" height="15.94" fill="#fa9857"/>
<rect x="1077.72" y="758.42" width="430.40" height="15.94" fill="#fdb768"/>
<rect x="1507.52" y="758.42" width="138.75" height="15.94" fill="#fed07e"/>
<rect x="95.33" y="773.77" width="62.00" height="15.94" fill="#f57547"/>
<rect x="156.72" y="773.77" width="31.30" height="15.94" fill="#e85b48"/>
<rect x="187.43" y="773.77" width="15.95" height="15.94" fill="#fa9857"/>
<rect x="202.77" y="773.77" width="123.40" height="15.94" fill="#f57547"/>
<rect x="325.57" y="773.77" width="31.30" height="15.94" fill="#e85b48"/>
<rect x="356.27" y="773.77" width="46.65" height="15.94" fill="#f57547"/>
<rect x="402.32" y="773.77" width="62.00" height="15.94" fill="#fa9857"/>
<rect x="463.72" y="773.77" width="169.45" height="15.94" fill="#f57547"/>
<rect x="632.57" y="773.77" width="307.60" height="15.94" fill="#e85b48"/>
<rect x="939.57" y="773.77" width="15.95" height="15.94" fill="#f57547"/>
<rect x="954.92" y="773.77" width="31.30" height="15.94" fill="#fa9857"/>
<rect x="985.62" y="773.77" width="31.30" height="15.94" fill="#f57547"/>
<rect x="1016.32" y="773.77" width="31.30" height="15.94" fill="#fa9857"/>
<rect x="1047.03" y="773.77" width="15.95" height="15.94" fill="#fdb768"/>
<rect x="1062.38" y="773.77" width="154.10" height="15.94" fill="#fa9857"/>
<rect x="1215.88" y="773.77" width="292.25" height="15.94" fill="#fdb768"/>
<rect x="1507.52" y="773.77" width="138.75" height="15.94" fill="#fed07e"/>
<rect x="95.33" y="789.11" width="62.00" height="15.94" fill="#f57547"/>
<rect x="156.72" y="789.11" width="15.95" height="15.94" fill="#e85b48"/>
<rect x="172.07" y="789.11" width="15.95" height="15.94" fill="#f57547"/>
<rect x="187.43" y="789.11" width="15.95" height="15.94" fill="#fa9857"/>
<rect x="202.77" y="789.11" width="31.30" height="15.94" fill="#f57547"/>
<rect x="233.47" y="789.11" width="31.30" height="15.94" fill="#fa9857"/>
<rect x="264.17" y="789.11" width="138.75" height="15.94" fill="#f57547"/>
<rect x="402.32" y="789.11" width="62.00" height="15.94" fill="#fa9857"/>
<rect x="463.72" y="789.11" width="31.30" height="15.94" fill="#f57547"/>
<rect x="494.43" y="789.11" width="92.70" height="15.94" fill="#e85b48"/>
<rect x="586.52" y="789.11" width="15.95" height="15.94" fill="#f57547"/>
<rect x="601.88" y="789.11" width="123.40" height="15.94" fill="#e85b48"/>
<rect x="724.67" y="789.11" width="31.30" height="15.94" fill="#d7414e"/>
<rect x="755.38" y="789.11" width="169.45" height="15.94" fill="#e85b48"/>
<rect x="924.23" y="789.11" width="46.65" height="15.94" fill="#f57547"/>
<rect x="970.27" y="789.11" width="92.70" height="15.94" fill="#fa9857"/>
<rect x="1062.38" y="789.11" width="31.30" height="15.94" fill="#fdb768"/>
<rect x="1093.07" y="789.11" width="154.10" height="15.94" fill="#fa9857"/>
<rect x="1246.58" y="789.11" width="276.90" height="15.94" fill="#fdb768"/>
<rect x="1522.88" y="789.11" width="123.40" height="15.94" fill="#fed07e"/>
<rect x="95.33" y="804.45" width="62.00" height="15.94" fill="#f57547"/>
<rect x="156.72" y="804.45" width="15.95" height="15.94" fill="#e85b48"/>
<rect x="172.07" y="804.45" width="15.95" height="15.94" fill="#f57547"/>
<rect x="187.43" y="804.45" width="15.95" height="15.94" fill="#fdb768"/>
<rect x="202.77" y="804.45" width="92.70" height="15.94" fill="#fa9857"/>
<rect x="294.88" y="804.45" width="108.05" height="15.94" fill="#f57547"/>
<rect x="402.32" y="804.45" width="62.00" height="15.94" fill="#fa9857"/>
<rect x="463.72" y="804.45" width="46.65" height="15.94" fill="#f57547"/>
<rect x="509.77" y="804.45" width="200.15" height="15.94" fill="#e85b48"/>
<rect x="709.32" y="804.45" width="46.65" height="15.94" fill="#d7414e"/>
<rect x="755.38" y="804.45" width="169.45" height="15.94" fill="#e85b48"/>
<rect x="924.23" y="804.45" width="15.95" height="15.94" fill="#f57547"/>
<rect x="939.57" y="804.45" width="31.30" height="15.94" fill="#e85b48"/>
<rect x="970.27" y="804.45" width="46.65" height="15.94" fill="#f57547"/>
<rect x="1016.32" y="804.45" width="276.90" height="15.94" fill="#fa9857"/>
<rect x="1292.62" y="804.45" width="276.90" height="15.94" fill="#fdb768"/>
<rect x="1568.92" y="804.45" width="15.95" height="15.94" fill="#fed07e"/>
<rect x="1584.27" y="804.45" width="31.30" height="15.94" fill="#fdb768"/>
<rect x="1614.97" y="804.45" width="31.30" height="15.94" fill="#fed07e"/>
<rect x="95.33" y="819.80" width="92.70" height="15.94" fill="#f57547"/>
<rect x="187.43" y="819.80" width="123.40" height="15.94" fill="#fa9857"/>
<rect x="310.23" y="819.80" width="92.70" height="15.94" fill="#f57547"/>
<rect x="402.32" y="819.80" width="62.00" height="15.94" fill="#fa9857"/>
<rect x="463.72" y="819.80" width="62.00" height="15.94" fill="#f57547"/>
<rect x="525.12" y="819.80" width="200.15" height="15.94" fill="#e85b48"/>
<rect x="724.67" y="819.80" width="46.65" height="15.94" fill="#d7414e"/>
<rect x="770.73" y="819.80" width="154.10" height="15.94" fill="#e85b48"/>
<rect x="924.23" y="819.80" width="31.30" height="15.94" fill="#d7414e"/>
<rect x="954.92" y="819.80" width="15.95" height="15.94" fill="#e85b48"/>
<rect x="970.27" y="819.80" width="15.95" height="15.94" fill="#f57547"/>
<rect x="985.62" y="819.80" width="15.95" height="15.94" fill="#e85b48"/>
<rect x="1000.98" y="819.80" width="31.30" height="15.94" fill="#f57547"/>
<rect x="1031.67" y="819.80" width="261.55" height="15.94" fill="#fa9857"/>
<rect x="1292.62" y="819.80" width="307.60" height="15.94" fill="#fdb768"/>
<rect x="1599.62" y="819.80" width="46.65" height="15.94" fill="#fed07e"/>
<rect x="95.33" y="835.14" width="62.00" height="15.94" fill="#f57547"/>
<rect x="156.72" y="835.14" width="15.95" height="15.94" fill="#fa9857"/>
<rect x="172.07" y="835.14" width="46.65" height="15.94" fill="#f57547"/>
<rect x="218.12" y="835.14" width="108.05" height="15.94" fill="#fa9857"/>
<rect x="325.57" y="835.14" width="15.95" height="15.94" fill="#fdb768"/>
<rect x="340.92" y="835.14" width="15.95" height="15.94" fill="#fa9857"/>
<rect x="356.27" y="835.14" width="15.95" height="15.94" fill="#f57547"/>
<rect x="371.62" y="835.14" width="92.70" height="15.94" fill="#fa9857"/>
<rect x="463.72" y="835.14" width="92.70" height="15.94" fill="#f57547"/>
<rect x="555.83" y="835.14" width="154.10" height="15.94" fill="#e85b48"/>
<rect x="709.32" y="835.14" width="77.35" height="15.94" fill="#d7414e"/>
<rect x="786.07" y="835.14" width="138.75" height="15.94" fill="#e85b48"/>
<rect x="924.23" y="835.14" width="15.95" height="15.94" fill="#d7414e"/>
<rect x="939.57" y="835.14" width="15.95" height="15.94" fill="#bc2249"/>
<rect x="954.92" y="835.14" width="31.30" height="15.94" fill="#e85b48"/>
<rect x="985.62" y="835.14" width="46.65" height="15.94" fill="#f57547"/>
<rect x="1031.67" y="835.14" width="46.65" height="15.94" fill="#fa9857"/>
<rect x="1077.72" y="835.14" width="15.95" height="15.94" fill="#f57547"/>
<rect x="1093.07" y="835.14" width="46.65" height="15.94" fill="#fa9857"/>
<rect x="1139.12" y="835.14" width="31.30" height="15.94" fill="#f57547"/>
<rect x="1169.83" y="835.14" width="123.40" height="15.94" fill="#fa9857"/>
<rect x="1292.62" y="835.14" width="46.65" height="15.94" fill="#fdb768"/>
<rect x="1338.67" y="835.14" width="15.95" height="15.94" fill="#fa9857"/>
<rect x="1354.02" y="835.14" width="276.90" height="15.94" fill="#fdb768"/>
<rect x="1630.33" y="835.14" width="15.95" height="15.94" fill="#fed07e"/>
<rect x="95.33" y="850.48" width="77.35" height="15.94" fill="#f57547"/>
<rect x="172.07" y="850.48" width="31.30" height="15.94" fill="#fa9857"/>
<rect x="202.77" y="850.48" width="15.95" height="15.94" fill="#f57547"/>
<rect x="218.12" y="850.48" width="15.95" height="15.94" fill="#fa9857"/>
<rect x="233.47" y="850.48" width="46.65" height="15.94" fill="#f57547"/>
<rect x="279.52" y="850.48" width="62.00" height="15.94" fill="#fa9857"/>
<rect x="340.92" y="850.48" width="15.95" height="15.94" fill="#fdb768"/>
<rect x="356.27" y="850.48" width="108.05" height="15.94" fill="#fa9857"/>
<rect x="463.72" y="850.48" width="108.05" height="15.94" fill="#f57547"/>
<rect x="571.17" y="850.48" width="138.75" height="15.94" fill="#e85b48"/>
<rect x="709.32" y="850.48" width="62.00" height="15.94" fill="#d7414e"/>
<rect x="770.73" y="850.48" width="169.45" height="15.94" fill="#e85b48"/>
<rect x="939.57" y="850.48" width="15.95" height="15.94" fill="#bc2249"/>
<rect x="954.92" y="850.48" width="15.95" height="15.94" fill="#e85b48"/>
<rect x="970.27" y="850.48" width="138.75" height="15.94" fill="#f57547"/>
<rect x="1108.42" y="850.48" width="15.95" height="15.94" fill="#fa9857"/>
<rect x="1123.78" y="850.48" width="62.00" height="15.94" fill="#f57547"/>
<rect x="1185.17" y="850.48" width="46.65" height="15.94" fill="#fa9857"/>
<rect x="1231.22" y="850.48" width="15.95" height="15.94" fill="#f57547"/>
<rect x="1246.58" y="850.48" width="123.40" height="15.94" fill="#fa9857"/>
<rect x="1369.38" y="850.48" width="31.30" height="15.94" fill="#fdb768"/>
<rect x="1400.08" y="850.48" width="15.95" height="15.94" fill="#fa9857"/>
<rect x="1415.42" y="850.48" width="230.85" height="15.94" fill="#fdb768"/>
<rect x="95.33" y="865.83" width="108.05" height="15.94" fill="#f57547"/>
<rect x="202.77" y="865.83" width="15.95" height="15.94" fill="#fa9857"/>
<rect x="218.12" y="865.83" width="92.70" height="15.94" fill="#f57547"/>
<rect x="310.23" y="865.83" width="154.10" height="15.94" fill="#fa9857"/>
<rect x="463.72" y="865.83" width="123.40" height="15.94" fill="#f57547"/>
<rect x="586.52" y="865.83" width="369.00" height="15.94" fill="#e85b48"/>
<rect x="954.92" y="865.83" width="261.55" height="15.94" fill="#f57547"/>
<rect x="1215.88" y="865.83" width="15.95" height="15.94" fill="#fa9857"/>
<rect x="1231.22" y="865.83" width="15.95" height="15.94" fill="#f57547"/>
<rect x="1246.58" y="865.83" width="169.45" height="15.94" fill="#fa9857"/>
<rect x="1415.42" y="865.83" width="230.85" height="15.94" fill="#fdb768"/>
<rect x="95.33" y="881.17" width="230.85" height="15.94" fill="#f57547"/>
<rect x="325.57" y="881.17" width="31.30" height="15.94" fill="#fa9857"/>
<rect x="356.27" y="881.17" width="15.95" height="15.94" fill="#e85b48"/>
<rect x="371.62" y="881.17" width="46.65" height="15.94" fill="#fdb768"/>
<rect x="417.68" y="881.17" width="138.75" height="15.94" fill="#fa9857"/>
<rect x="555.83" y="881.17" width="46.65" height="15.94" fill="#f57547"/>
<rect x="601.88" y="881.17" width="353.65" height="15.94" fill="#e85b48"/>
<rect x="954.92" y="881.17" width="276.90" height="15.94" fill="#f57547"/>
<rect x="1231.22" y="881.17" width="230.85" height="15.94" fill="#fa9857"/>
<rect x="1461.47" y="881.17" width="184.80" height="15.94" fill="#fdb768"/>
<rect x="95.33" y="896.52" width="169.45" height="15.94" fill="#f57547"/>
<rect x="264.17" y="896.52" width="15.95" height="15.94" fill="#e85b48"/>
<rect x="279.52" y="896.52" width="77.35" height="15.94" fill="#f57547"/>
<rect x="356.27" y="896.52" width="31.30" height="15.94" fill="#fa9857"/>
<rect x="386.97" y="896.52" width="77.35" height="15.94" fill="#fdb768"/>
<rect x="463.72" y="896.52" width="92.70" height="15.94" fill="#fa9857"/>
<rect x="555.83" y="896.52" width="62.00" height="15.94" fill="#f57547"/>
<rect x="617.23" y="896.52" width="353.65" height="15.94" fill="#e85b48"/>
<rect x="970.27" y="896.52" width="31.30" height="15.94" fill="#f57547"/>
<rect x="1000.98" y="896.52" width="31.30" height="15.94" fill="#e85b48"/>
<rect x="1031.67" y="896.52" width="46.65" height="15.94" fill="#f57547"/>
<rect x="1077.72" y="896.52" width="15.95" height="15.94" fill="#fa9857"/>
<rect x="1093.07" y="896.52" width="154.10" height="15.94" fill="#f57547"/>
<rect x="1246.58" y="896.52" width="230.85" height="15.94" fill="#fa9857"/>
<rect x="1476.83" y="896.52" width="169.45" height="15.94" fill="#fdb768"/>
<rect x="95.33" y="911.86" width="276.90" height="15.94" fill="#f57547"/>
<rect x="371.62" y="911.86" width="62.00" height="15.94" fill="#fa9857"/>
<rect x="433.02" y="911.86" width="15.95" height="15.94" fill="#fdb768"/>
<rect x="448.38" y="911.86" width="92.70" height="15.94" fill="#fa9857"/>
<rect x="540.47" y="911.86" width="77.35" height="15.94" fill="#f57547"/>
<rect x="617.23" y="911.86" width="415.05" height="15.94" fill="#e85b48"/>
<rect x="1031.67" y="911.86" width="215.50" height="15.94" fill="#f57547"/>
<rect x="1246.58" y="911.86" width="246.20" height="15.94" fill="#fa9857"/>
<rect x="1492.17" y="911.86" width="154.10" height="15.94" fill="#fdb768"/>
<rect x="95.33" y="927.20" width="307.60" height="15.94" fill="#f57547"/>
<rect x="402.32" y="927.20" width="123.40" height="15.94" fill="#fa9857"/>
<rect x="525.12" y="927.20" width="92.70" height="15.94" fill="#f57547"/>
<rect x="617.23" y="927.20" width="430.40" height="15.94" fill="#e85b48"/>
<rect x="1047.03" y="927.20" width="200.15" height="15.94" fill="#f57547"/>
<rect x="1246.58" y="927.20" width="261.55" height="15.94" fill="#fa9857"/>
<rect x="1507.52" y="927.20" width="138.75" height="15.94" fill="#fdb768"/>
<rect x="95.33" y="942.55" width="399.70" height="15.94" fill="#f57547"/>
<rect x="494.43" y="942.55" width="31.30" height="15.94" fill="#fa9857"/>
<rect x="525.12" y="942.55" width="92.70" height="15.94" fill="#f57547"/>
<rect x="617.23" y="942.55" width="276.90" height="15.94" fill="#e85b48"/>
<rect x="893.52" y="942.55" width="15.95" height="15.94" fill="#fa9857"/>
<rect x="908.88" y="942.55" width="154.10" height="15.94" fill="#e85b48"/>
<rect x="1062.38" y="942.55" width="215.50" height="15.94" fill="#f57547"/>
<rect x="1277.27" y="942.55" width="261.55" height="15.94" fill="#fa9857"/>
<rect x="1538.22" y="942.55" width="108.05" height="15.94" fill="#fdb768"/>
<rect x="95.33" y="957.89" width="430.40" height="15.94" fill="#f57547"/>
<rect x="525.12" y="957.89" width="15.95" height="15.94" fill="#fa9857"/>
<rect x="540.47" y="957.89" width="77.35" height="15.94" fill="#f57547"/>
<rect x="617.23" y="957.89" width="261.55" height="15.94" fill="#e85b48"/>
<rect x="878.17" y="957.89" width="15.95" height="15.94" fill="#fa9857"/>
<rect x="893.52" y="957.89" width="184.80" height="15.94" fill="#e85b48"/>
<rect x="1077.72" y="957.89" width="215.50" height="15.94" fill="#f57547"/>
<rect x="1292.62" y="957.89" width="261.55" height="15.94" fill="#fa9857"/>
<rect x="1553.58" y="957.89" width="92.70" height="15.94" fill="#fdb768"/>
<rect x="95.33" y="973.23" width="537.85" height="15.94" fill="#f57547"/>
<rect x="632.57" y="973.23" width="445.75" height="15.94" fill="#e85b48"/>
<rect x="1077.72" y="973.23" width="230.85" height="15.94" fill="#f57547"/>
<rect x="1307.97" y="973.23" width="276.90" height="15.94" fill="#fa9857"/>
<rect x="1584.27" y="973.23" width="62.00" height="15.94" fill="#fdb768"/>
<rect x="95.33" y="988.58" width="31.30" height="15.94" fill="#fa9857"/>
<rect x="126.03" y="988.58" width="15.95" height="15.94" fill="#f57547"/>
<rect x="141.38" y="988.58" width="15.95" height="15.94" fill="#fa9857"/>
<rect x="156.72" y="988.58" width="491.80" height="15.94" fill="#f57547"/>
<rect x="647.92" y="988.58" width="430.40" height="15.94" fill="#e85b48"/>
<rect x="1077.72" y="988.58" width="246.20" height="15.94" fill="#f57547"/>
<rect x="1323.33" y="988.58" width="292.25" height="15.94" fill="#fa9857"/>
<rect x="1614.97" y="988.58" width="31.30" height="15.94" fill="#fdb768"/>
<rect x="95.33" y="1003.92" width="62.00" height="15.94" fill="#fa9857"/>
<rect x="156.72" y="1003.92" width="415.05" height="15.94" fill="#f57547"/>
<rect x="571.17" y="1003.92" width="31.30" height="15.94" fill="#fa9857"/>
<rect x="601.88" y="1003.92" width="46.65" height="15.94" fill="#f57547"/>
<rect x="647.92" y="1003.92" width="169.45" height="15.94" fill="#e85b48"/>
<rect x="816.77" y="1003.92" width="77.35" height="15.94" fill="#f57547"/>
<rect x="893.52" y="1003.92" width="31.30" height="15.94" fill="#e85b48"/>
<rect x="924.23" y="1003.92" width="46.65" height="15.94" fill="#f57547"/>
<rect x="970.27" y="1003.92" width="92.70" height="15.94" fill="#e85b48"/>
<rect x="1062.38" y="1003.92" width="31.30" height="15.94" fill="#f57547"/>
<rect x="1093.07" y="1003.92" width="62.00" height="15.94" fill="#e85b48"/>
<rect x="1154.47" y="1003.92" width="31.30" height="15.94" fill="#f57547"/>
<rect x="1185.17" y="1003.92" width="31.30" height="15.94" fill="#e85b48"/>
<rect x="1215.88" y="1003.92" width="123.40" height="15.94" fill="#f57547"/>
<rect x="1338.67" y="1003.92" width="307.60" height="15.94" fill="#fa9857"/>
<rect x="95.33" y="1019.27" width="77.35" height="15.94" fill="#fa9857"/>
<rect x="172.07" y="1019.27" width="92.70" height="15.94" fill="#f57547"/>
<rect x="264.17" y="1019.27" width="15.95" height="15.94" fill="#fa9857"/>
<rect x="279.52" y="1019.27" width="261.55" height="15.94" fill="#f57547"/>
<rect x="540.47" y="1019.27" width="62.00" height="15.94" fill="#fa9857"/>
<rect x="601.88" y="1019.27" width="46.65" height="15.94" fill="#f57547"/>
<rect x="647.92" y="1019.27" width="154.10" height="15.94" fill="#e85b48"/>
<rect x="801.42" y="1019.27" width="92.70" height="15.94" fill="#f57547"/>
<rect x="893.52" y="1019.27" width="15.95" height="15.94" fill="#fa9857"/>
<rect x="908.88" y="1019.27" width="15.95" height="15.94" fill="#e85b48"/>
<rect x="924.23" y="1019.27" width="46.65" height="15.94" fill="#f57547"/>
<rect x="970.27" y="1019.27" width="15.95" height="15.94" fill="#e85b48"/>
<rect x="985.62" y="1019.27" width="123.40" height="15.94" fill="#f57547"/>
<rect x="1108.42" y="1019.27" width="46.65" height="15.94" fill="#e85b48"/>
<rect x="1154.47" y="1019.27" width="200.15" height="15.94" fill="#f57547"/>
<rect x="1354.02" y="1019.27" width="292.25" height="15.94" fill="#fa9857"/>
<rect x="95.33" y="1034.61" width="92.70" height="15.94" fill="#fa9857"/>
<rect x="187.43" y="1034.61" width="15.95" height="15.94" fill="#f57547"/>
<rect x="202.77" y="1034.61" width="108.05" height="15.94" fill="#fa9857"/>
<rect x="310.23" y="1034.61" width="230.85" height="15.94" fill="#f57547"/>
<rect x="540.47" y="1034.61" width="77.35" height="15.94" fill="#fa9857"/>
<rect x="617.23" y="1034.61" width="46.65" height="15.94" fill="#f57547"/>
<rect x="663.27" y="1034.61" width="62.00" height="15.94" fill="#e85b48"/>
<rect x="724.67" y="1034.61" width="62.00" height="15.94" fill="#f57547"/>
<rect x="786.07" y="1034.61" width="15.95" height="15.94" fill="#e85b48"/>
<rect x="801.42" y="1034.61" width="92.70" height="15.94" fill="#f57547"/>
<rect x="893.52" y="1034.61" width="15.95" height="15.94" fill="#fa9857"/>
<rect x="908.88" y="1034.61" width="169.45" height="15.94" fill="#f57547"/>
<rect x="1077.72" y="1034.61" width="15.95" height="15.94" fill="#e85b48"/>
<rect x="1093.07" y="1034.61" width="15.95" height="15.94" fill="#f57547"/>
<rect x="1108.42" y="1034.61" width="31.30" height="15.94" fill="#fa9857"/>
<rect x="1139.12" y="1034.61" width="46.65" height="15.94" fill="#f57547"/>
<rect x="1185.17" y="1034.61" width="15.95" height="15.94" fill="#e85b48"/>
<rect x="1200.52" y="1034.61" width="31.30" height="15.94" fill="#f57547"/>
<rect x="1231.22" y="1034.61" width="15.95" height="15.94" fill="#fa9857"/>
<rect x="1246.58" y="1034.61" width="108.05" height="15.94" fill="#f57547"/>
<rect x="1354.02" y="1034.61" width="292.25" height="15.94" fill="#fa9857"/>
<rect x="95.33" y="1049.95" width="322.95" height="15.94" fill="#fa9857"/>
<rect x="417.68" y="1049.95" width="123.40" height="15.94" fill="#f57547"/>
<rect x="540.47" y="1049.95" width="77.35" height="15.94" fill="#fa9857"/>
<rect x="617.23" y="1049.95" width="307.60" height="15.94" fill="#f57547"/>
<rect x="924.23" y="1049.95" width="31.30" height="15.94" fill="#fa9857"/>
<rect x="954.92" y="1049.95" width="92.70" height="15.94" fill="#f57547"/>
<rect x="1047.03" y="1049.95" width="108.05" height="15.94" fill="#fa9857"/>
<rect x="1154.47" y="1049.95" width="46.65" height="15.94" fill="#f57547"/>
<rect x="1200.52" y="1049.95" width="46.65" height="15.94" fill="#fa9857"/>
<rect x="1246.58" y="1049.95" width="123.40" height="15.94" fill="#f57547"/>
<rect x="1369.38" y="1049.95" width="276.90" height="15.94" fill="#fa9857"/>
<rect x="95.33" y="1065.30" width="338.30" height="15.94" fill="#fa9857"/>
<rect x="433.02" y="1065.30" width="108.05" height="15.94" fill="#f57547"/>
<rect x="540.47" y="1065.30" width="92.70" height="15.94" fill="#fa9857"/>
<rect x="632.57" y="1065.30" width="276.90" height="15.94" fill="#f57547"/>
<rect x="908.88" y="1065.30" width="31.30" height="15.94" fill="#fa9857"/>
<rect x="939.57" y="1065.30" width="62.00" height="15.94" fill="#f57547"/>
<rect x="1000.98" y="1065.30" width="169.45" height="15.94" fill="#fa9857"/>
<rect x="1169.83" y="1065.30" width="31.30" height="15.94" fill="#f57547"/>
<rect x="1200.52" y="1065.30" width="46.65" height="15.94" fill="#fa9857"/>
<rect x="1246.58" y="1065.30" width="169.45" height="15.94" fill="#f57547"/>
<rect x="1415.42" y="1065.30" width="230.85" height="15.94" fill="#fa9857"/>
<rect x="95.33" y="1080.64" width="568.55" height="15.94" fill="#fa9857"/>
<rect x="663.27" y="1080.64" width="230.85" height="15.94" fill="#f57547"/>
<rect x="893.52" y="1080.64" width="46.65" height="15.94" fill="#fa9857"/>
<rect x="939.57" y="1080.64" width="77.35" height="15.94" fill="#f57547"/>
<rect x="1016.32" y="1080.64" width="169.45" height="15.94" fill="#fa9857"/>
<rect x="1185.17" y="1080.64" width="15.95" height="15.94" fill="#f57547"/>
<rect x="1200.52" y="1080.64" width="31.30" height="15.94" fill="#fa9857"/>
<rect x="1231.22" y="1080.64" width="200.15" height="15.94" fill="#f57547"/>
<rect x="1430.77" y="1080.64" width="215.50" height="15.94" fill="#fa9857"/>
<rect x="95.33" y="1095.98" width="599.25" height="15.94" fill="#fa9857"/>
<rect x="693.98" y="1095.98" width="77.35" height="15.94" fill="#f57547"/>
<rect x="770.73" y="1095.98" width="46.65" height="15.94" fill="#fa9857"/>
<rect x="816.77" y="1095.98" width="77.35" height="15.94" fill="#f57547"/>
<rect x="893.52" y="1095.98" width="31.30" height="15.94" fill="#fa9857"/>
<rect x="924.23" y="1095.98" width="77.35" height="15.94" fill="#f57547"/>
<rect x="1000.98" y="1095.98" width="169.45" height="15.94" fill="#fa9857"/>
<rect x="1169.83" y="1095.98" width="276.90" height="15.94" fill="#f57547"/>
<rect x="1446.12" y="1095.98" width="200.15" height="15.94" fill="#fa9857"/>
<rect x="95.33" y="1111.33" width="599.25" height="15.94" fill="#fa9857"/>
<rect x="693.98" y="1111.33" width="77.35" height="15.94" fill="#f57547"/>
<rect x="770.73" y="1111.33" width="62.00" height="15.94" fill="#fa9857"/>
<rect x="832.12" y="1111.33" width="46.65" height="15.94" fill="#f57547"/>
<rect x="878.17" y="1111.33" width="46.65" height="15.94" fill="#fa9857"/>
<rect x="924.23" y="1111.33" width="62.00" height="15.94" fill="#f57547"/>
<rect x="985.62" y="1111.33" width="184.80" height="15.94" fill="#fa9857"/>
<rect x="1169.83" y="1111.33" width="92.70" height="15.94" fill="#f57547"/>
<rect x="1261.92" y="1111.33" width="46.65" height="15.94" fill="#fa9857"/>
<rect x="1307.97" y="1111.33" width="108.05" height="15.94" fill="#f57547"/>
<rect x="1415.42" y="1111.33" width="31.30" height="15.94" fill="#fa9857"/>
<rect x="1446.12" y="1111.33" width="15.95" height="15.94" fill="#f57547"/>
<rect x="1461.47" y="1111.33" width="184.80" height="15.94" fill="#fa9857"/>
<rect x="95.33" y="1126.67" width="599.25" height="15.94" fill="#fa9857"/>
<rect x="693.98" y="1126.67" width="77.35" height="15.94" fill="#f57547"/>
<rect x="770.73" y="1126.67" width="77.35" height="15.94" fill="#fa9857"/>
<rect x="847.48" y="1126.67" width="15.95" height="15.94" fill="#f57547"/>
<rect x="862.82" y="1126.67" width="62.00" height="15.94" fill="#fa9857"/>
<rect x="924.23" y="1126.67" width="31.30" height="15.94" fill="#f57547"/>
<rect x="954.92" y="1126.67" width="261.55" height="15.94" fill="#fa9857"/>
<rect x="1215.88" y="1126.67" width="62.00" height="15.94" fill="#f57547"/>
<rect x="1277.27" y="1126.67" width="15.95" height="15.94" fill="#fa9857"/>
<rect x="1292.62" y="1126.67" width="15.95" height="15.94" fill="#f57547"/>
<rect x="1307.97" y="1126.67" width="31.30" height="15.94" fill="#fa9857"/>
<rect x="1338.67" y="1126.67" width="154.10" height="15.94" fill="#f57547"/>
<rect x="1492.17" y="1126.67" width="154.10" height="15.94" fill="#fa9857"/>
<rect x="95.33" y="1142.02" width="62.00" height="15.94" fill="#fa9857"/>
<rect x="156.72" y="1142.02" width="31.30" height="15.94" fill="#fdb768"/>
<rect x="187.43" y="1142.02" width="522.50" height="15.94" fill="#fa9857"/>
<rect x="709.32" y="1142.02" width="46.65" height="15.94" fill="#f57547"/>
<rect x="755.38" y="1142.02" width="92.70" height="15.94" fill="#fa9857"/>
<rect x="847.48" y="1142.02" width="15.95" height="15.94" fill="#f57547"/>
<rect x="862.82" y="1142.02" width="62.00" height="15.94" fill="#fa9857"/>
<rect x="924.23" y="1142.02" width="15.95" height="15.94" fill="#f57547"/>
<rect x="939.57" y="1142.02" width="15.95" height="15.94" fill="#e85b48"/>
<rect x="954.92" y="1142.02" width="415.05" height="15.94" fill="#fa9857"/>
<rect x="1369.38" y="1142.02" width="154.10" height="15.94" fill="#f57547"/>
<rect x="1522.88" y="1142.02" width="123.40" height="15.94" fill="#fa9857"/>
<rect x="95.33" y="1157.36" width="138.75" height="15.94" fill="#fdb768"/>
<rect x="233.47" y="1157.36" width="614.60" height="15.94" fill="#fa9857"/>
<rect x="847.48" y="1157.36" width="15.95" height="15.94" fill="#f57547"/>
<rect x="862.82" y="1157.36" width="77.35" height="15.94" fill="#fa9857"/>
<rect x="939.57" y="1157.36" width="31.30" height="15.94" fill="#f57547"/>
<rect x="970.27" y="1157.36" width="430.40" height="15.94" fill="#fa9857"/>
<rect x="1400.08" y="1157.36" width="138.75" height="15.94" fill="#f57547"/>
<rect x="1538.22" y="1157.36" width="108.05" height="15.94" fill="#fa9857"/>
<rect x="95.33" y="1172.70" width="138.75" height="15.94" fill="#fdb768"/>
<rect x="233.47" y="1172.70" width="691.35" height="15.94" fill="#fa9857"/>
<rect x="924.23" y="1172.70" width="31.30" height="15.94" fill="#e85b48"/>
<rect x="954.92" y="1172.70" width="62.00" height="15.94" fill="#f57547"/>
<rect x="1016.32" y="1172.70" width="384.35" height="15.94" fill="#fa9857"/>
<rect x="1400.08" y="1172.70" width="31.30" height="15.94" fill="#f57547"/>
<rect x="1430.77" y="1172.70" width="31.30" height="15.94" fill="#fa9857"/>
<rect x="1461.47" y="1172.70" width="92.70" height="15.94" fill="#f57547"/>
<rect x="1553.58" y="1172.70" width="92.70" height="15.94" fill="#fa9857"/>
<rect x="95.33" y="1188.05" width="138.75" height="15.94" fill="#fdb768"/>
<rect x="233.47" y="1188.05" width="568.55" height="15.94" fill="#fa9857"/>
<rect x="801.42" y="1188.05" width="31.30" height="15.94" fill="#fdb768"/>
<rect x="832.12" y="1188.05" width="77.35" height="15.94" fill="#fa9857"/>
<rect x="908.88" y="1188.05" width="15.95" height="15.94" fill="#e85b48"/>
<rect x="924.23" y="1188.05" width="15.95" height="15.94" fill="#d7414e"/>
<rect x="939.57" y="1188.05" width="77.35" height="15.94" fill="#f57547"/>
<rect x="1016.32" y="1188.05" width="292.25" height="15.94" fill="#fa9857"/>
<rect x="1307.97" y="1188.05" width="31.30" height="15.94" fill="#fdb768"/>
<rect x="1338.67" y="1188.05" width="62.00" height="15.94" fill="#fa9857"/>
<rect x="1400.08" y="1188.05" width="31.30" height="15.94" fill="#f57547"/>
<rect x="1430.77" y="1188.05" width="15.95" height="15.94" fill="#fa9857"/>
<rect x="1446.12" y="1188.05" width="15.95" height="15.94" fill="#f57547"/>
<rect x="1461.47" y="1188.05" width="31.30" height="15.94" fill="#fa9857"/>
<rect x="1492.17" y="1188.05" width="77.35" height="15.94" fill="#f57547"/>
<rect x="1568.92" y="1188.05" width="77.35" height="15.94" fill="#fa9857"/>
<rect x="95.33" y="1203.39" width="184.80" height="15.94" fill="#fdb768"/>
<rect x="279.52" y="1203.39" width="522.50" height="15.94" fill="#fa9857"/>
<rect x="801.42" y="1203.39" width="31.30" height="15.94" fill="#fdb768"/>
<rect x="832.12" y="1203.39" width="62.00" height="15.94" fill="#fa9857"/>
<rect x="893.52" y="1203.39" width="15.95" height="15.94" fill="#e85b48"/>
<rect x="908.88" y="1203.39" width="138.75" height="15.94" fill="#f57547"/>
<rect x="1047.03" y="1203.39" width="184.80" height="15.94" fill="#fa9857"/>
<rect x="1231.22" y="1203.39" width="15.95" height="15.94" fill="#f57547"/>
<rect x="1246.58" y="1203.39" width="31.30" height="15.94" fill="#fa9857"/>
<rect x="1277.27" y="1203.39" width="31.30" height="15.94" fill="#f57547"/>
<rect x="1307.97" y="1203.39" width="92.70" height="15.94" fill="#fa9857"/>
<rect x="1400.08" y="1203.39" width="62.00" height="15.94" fill="#f57547"/>
<rect x="1461.47" y="1203.39" width="15.95" height="15.94" fill="#fa9857"/>
<rect x="1476.83" y="1203.39" width="108.05" height="15.94" fill="#f57547"/>
<rect x="1584.27" y="1203.39" width="62.00" height="15.94" fill="#fa9857"/>
<rect x="95.33" y="1218.73" width="491.80" height="15.94" fill="#fdb768"/>
<rect x="586.52" y="1218.73" width="215.50" height="15.94" fill="#fa9857"/>
<rect x="801.42" y="1218.73" width="31.30" height="15.94" fill="#fdb768"/>
<rect x="832.12" y="1218.73" width="15.95" height="15.94" fill="#fa9857"/>
<rect x="847.48" y="1218.73" width="15.95" height="15.94" fill="#f57547"/>
<rect x="862.82" y="1218.73" width="31.30" height="15.94" fill="#fa9857"/>
<rect x="893.52" y="1218.73" width="123.40" height="15.94" fill="#f57547"/>
<rect x="1016.32" y="1218.73" width="230.85" height="15.94" fill="#fa9857"/>
<rect x="1246.58" y="1218.73" width="92.70" height="15.94" fill="#f57547"/>
<rect x="1338.67" y="1218.73" width="62.00" height="15.94" fill="#fa9857"/>
<rect x="1400.08" y="1218.73" width="31.30" height="15.94" fill="#f57547"/>
<rect x="1430.77" y="1218.73" width="15.95" height="15.94" fill="#fa9857"/>
<rect x="1446.12" y="1218.73" width="108.05" height="15.94" fill="#f57547"/>
<rect x="1553.58" y="1218.73" width="92.70" height="15.94" fill="#fa9857"/>
<rect x="95.33" y="1234.08" width="537.85" height="15.94" fill="#fdb768"/>
<rect x="632.57" y="1234.08" width="200.15" height="15.94" fill="#fa9857"/>
<rect x="832.12" y="1234.08" width="31.30" height="15.94" fill="#f57547"/>
<rect x="862.82" y="1234.08" width="15.95" height="15.94" fill="#fa9857"/>
<rect x="878.17" y="1234.08" width="123.40" height="15.94" fill="#f57547"/>
<rect x="1000.98" y="1234.08" width="215.50" height="15.94" fill="#fa9857"/>
<rect x="1215.88" y="1234.08" width="15.95" height="15.94" fill="#f57547"/>
<rect x="1231.22" y="1234.08" width="15.95" height="15.94" fill="#fa9857"/>
<rect x="1246.58" y="1234.08" width="46.65" height="15.94" fill="#f57547"/>
<rect x="1292.62" y="1234.08" width="31.30" height="15.94" fill="#e85b48"/>
<rect x="1323.33" y="1234.08" width="31.30" height="15.94" fill="#f57547"/>
<rect x="1354.02" y="1234.08" width="31.30" height="15.94" fill="#fa9857"/>
<rect x="1384.72" y="1234.08" width="169.45" height="15.94" fill="#f57547"/>
<rect x="1553.58" y="1234.08" width="92.70" height="15.94" fill="#fa9857"/>
<rect x="95.33" y="1249.42" width="553.20" height="15.94" fill="#fdb768"/>
<rect x="647.92" y="1249.42" width="138.75" height="15.94" fill="#fa9857"/>
<rect x="786.07" y="1249.42" width="15.95" height="15.94" fill="#fdb768"/>
<rect x="801.42" y="1249.42" width="31.30" height="15.94" fill="#fa9857"/>
<rect x="832.12" y="1249.42" width="15.95" height="15.94" fill="#f57547"/>
<rect x="847.48" y="1249.42" width="46.65" height="15.94" fill="#fa9857"/>
<rect x="893.52" y="1249.42" width="92.70" height="15.94" fill="#f57547"/>
<rect x="985.62" y="1249.42" width="246.20" height="15.94" fill="#fa9857"/>
<rect x="1231.22" y="1249.42" width="46.65" height="15.94" fill="#f57547"/>
<rect x="1277.27" y="1249.42" width="62.00" height="15.94" fill="#e85b48"/>
<rect x="1338.67" y="1249.42" width="15.95" height="15.94" fill="#f57547"/>
<rect x="1354.02" y="1249.42" width="31.30" height="15.94" fill="#fa9857"/>
<rect x="1384.72" y="1249.42" width="77.35" height="15.94" fill="#f57547"/>
<rect x="1461.47" y="1249.42" width="31.30" height="15.94" fill="#fa9857"/>
<rect x="1492.17" y="1249.42" width="46.65" height="15.94" fill="#f57547"/>
<rect x="1538.22" y="1249.42" width="62.00" height="15.94" fill="#fa9857"/>
<rect x="1599.62" y="1249.42" width="15.95" height="15.94" fill="#f57547"/>
<rect x="1614.97" y="1249.42" width="31.30" height="15.94" fill="#fa9857"/>
<rect x="95.33" y="1264.77" width="537.85" height="15.94" fill="#fdb768"/>
<rect x="632.57" y="1264.77" width="200.15" height="15.94" fill="#fa9857"/>
<rect x="832.12" y="1264.77" width="31.30" height="15.94" fill="#f57547"/>
<rect x="862.82" y="1264.77" width="31.30" height="15.94" fill="#fa9857"/>
<rect x="893.52" y="1264.77" width="62.00" height="15.94" fill="#f57547"/>
<rect x="954.92" y="1264.77" width="276.90" height="15.94" fill="#fa9857"/>
<rect x="1231.22" y="1264.77" width="46.65" height="15.94" fill="#f57547"/>
<rect x="1277.27" y="1264.77" width="62.00" height="15.94" fill="#e85b48"/>
<rect x="1338.67" y="1264.77" width="92.70" height="15.94" fill="#f57547"/>
<rect x="1430.77" y="1264.77" width="15.95" height="15.94" fill="#e85b48"/>
<rect x="1446.12" y="1264.77" width="46.65" height="15.94" fill="#f57547"/>
<rect x="1492.17" y="1264.77" width="15.95" height="15.94" fill="#fa9857"/>
<rect x="1507.52" y="1264.77" width="31.30" height="15.94" fill="#f57547"/>
<rect x="1538.22" y="1264.77" width="46.65" height="15.94" fill="#fa9857"/>
<rect x="1584.27" y="1264.77" width="31.30" height="15.94" fill="#f57547"/>
<rect x="1614.97" y="1264.77" width="15.95" height="15.94" fill="#fa9857"/>
<rect x="1630.33" y="1264.77" width="15.95" height="15.94" fill="#f57547"/>
<rect x="95.33" y="1280.11" width="553.20" height="15.94" fill="#fdb768"/>
<rect x="647.92" y="1280.11" width="46.65" height="15.94" fill="#fa9857"/>
<rect x="693.98" y="1280.11" width="15.95" height="15.94" fill="#fdb768"/>
<rect x="709.32" y="1280.11" width="31.30" height="15.94" fill="#fa9857"/>
<rect x="740.02" y="1280.11" width="31.30" height="15.94" fill="#fdb768"/>
<rect x="770.73" y="1280.11" width="92.70" height="15.94" fill="#fa9857"/>
<rect x="862.82" y="1280.11" width="15.95" height="15.94" fill="#f57547"/>
<rect x="878.17" y="1280.11" width="46.65" height="15.94" fill="#fa9857"/>
<rect x="924.23" y="1280.11" width="15.95" height="15.94" fill="#f57547"/>
<rect x="939.57" y="1280.11" width="292.25" height="15.94" fill="#fa9857"/>
<rect x="1231.22" y="1280.11" width="46.65" height="15.94" fill="#f57547"/>
<rect x="1277.27" y="1280.11" width="77.35" height="15.94" fill="#e85b48"/>
<rect x="1354.02" y="1280.11" width="77.35" height="15.94" fill="#f57547"/>
<rect x="1430.77" y="1280.11" width="15.95" height="15.94" fill="#e85b48"/>
<rect x="1446.12" y="1280.11" width="46.65" height="15.94" fill="#f57547"/>
<rect x="1492.17" y="1280.11" width="108.05" height="15.94" fill="#fa9857"/>
<rect x="1599.62" y="1280.11" width="46.65" height="15.94" fill="#f57547"/>
<rect x="95.33" y="1295.45" width="691.35" height="15.94" fill="#fdb768"/>
<rect x="786.07" y="1295.45" width="77.35" height="15.94" fill="#fa9857"/>
<rect x="862.82" y="1295.45" width="15.95" height="15.94" fill="#f57547"/>
<rect x="878.17" y="1295.45" width="322.95" height="15.94" fill="#fa9857"/>
<rect x="1200.52" y="1295.45" width="77.35" height="15.94" fill="#f57547"/>
<rect x="1277.27" y="1295.45" width="62.00" height="15.94" fill="#e85b48"/>
<rect x="1338.67" y="1295.45" width="154.10" height="15.94" fill="#f57547"/>
<rect x="1492.17" y="1295.45" width="108.05" height="15.94" fill="#fa9857"/>
<rect x="1599.62" y="1295.45" width="46.65" height="15.94" fill="#f57547"/>
<rect x="95.33" y="1310.80" width="691.35" height="15.94" fill="#fdb768"/>
<rect x="786.07" y="1310.80" width="15.95" height="15.94" fill="#fa9857"/>
<rect x="801.42" y="1310.80" width="15.95" height="15.94" fill="#f57547"/>
<rect x="816.77" y="1310.80" width="15.95" height="15.94" fill="#fa9857"/>
<rect x="832.12" y="1310.80" width="46.65" height="15.94" fill="#f57547"/>
<rect x="878.17" y="1310.80" width="276.90" height="15.94" fill="#fa9857"/>
<rect x="1154.47" y="1310.80" width="108.05" height="15.94" fill="#f57547"/>
<rect x="1261.92" y="1310.80" width="62.00" height="15.94" fill="#e85b48"/>
<rect x="1323.33" y="1310.80" width="169.45" height="15.94" fill="#f57547"/>
<rect x="1492.17" y="1310.80" width="31.30" height="15.94" fill="#fa9857"/>
<rect x="1522.88" y="1310.80" width="15.95" height="15.94" fill="#f57547"/>
<rect x="1538.22" y="1310.80" width="77.35" height="15.94" fill="#fa9857"/>
<rect x="1614.97" y="1310.80" width="31.30" height="15.94" fill="#f57547"/>
<rect x="95.33" y="1326.14" width="676.00" height="15.94" fill="#fdb768"/>
<rect x="770.73" y="1326.14" width="15.95" height="15.94" fill="#fa9857"/>
<rect x="786.07" y="1326.14" width="15.95" height="15.94" fill="#f57547"/>
<rect x="801.42" y="1326.14" width="15.95" height="15.94" fill="#fa9857"/>
<rect x="816.77" y="1326.14" width="31.30" height="15.94" fill="#f57547"/>
<rect x="847.48" y="1326.14" width="322.95" height="15.94" fill="#fa9857"/>
<rect x="1169.83" y="1326.14" width="77.35" height="15.94" fill="#f57547"/>
<rect x="1246.58" y="1326.14" width="169.45" height="15.94" fill="#e85b48"/>
<rect x="1415.42" y="1326.14" width="77.35" height="15.94" fill="#f57547"/>
<rect x="1492.17" y="1326.14" width="15.95" height="15.94" fill="#fa9857"/>
<rect x="1507.52" y="1326.14" width="15.95" height="15.94" fill="#f57547"/>
<rect x="1522.88" y="1326.14" width="77.35" height="15.94" fill="#fa9857"/>
<rect x="1599.62" y="1326.14" width="46.65" height="15.94" fill="#f57547"/>
<rect x="95.33" y="1341.48" width="369.00" height="15.94" fill="#fdb768"/>
<rect x="463.72" y="1341.48" width="46.65" height="15.94" fill="#fed07e"/>
<rect x="509.77" y="1341.48" width="246.20" height="15.94" fill="#fdb768"/>
<rect x="755.38" y="1341.48" width="31.30" height="15.94" fill="#f57547"/>
<rect x="786.07" y="1341.48" width="15.95" height="15.94" fill="#fa9857"/>
<rect x="801.42" y="1341.48" width="62.00" height="15.94" fill="#f57547"/>
<rect x="862.82" y="1341.48" width="292.25" height="15.94" fill="#fa9857"/>
<rect x="1154.47" y="1341.48" width="62.00" height="15.94" fill="#f57547"/>
<rect x="1215.88" y="1341.48" width="246.20" height="15.94" fill="#e85b48"/>
<rect x="1461.47" y="1341.48" width="92.70" height="15.94" fill="#f57547"/>
<rect x="1553.58" y="1341.48" width="31.30" height="15.94" fill="#fa9857"/>
<rect x="1584.27" y="1341.48" width="62.00" height="15.94" fill="#f57547"/>
<rect x="95.33" y="1356.83" width="353.65" height="15.94" fill="#fdb768"/>
<rect x="448.38" y="1356.83" width="108.05" height="15.94" fill="#fed07e"/>
<rect x="555.83" y="1356.83" width="200.15" height="15.94" fill="#fdb768"/>
<rect x="755.38" y="1356.83" width="31.30" height="15.94" fill="#f57547"/>
<rect x="786.07" y="1356.83" width="15.95" height="15.94" fill="#fa9857"/>
<rect x="801.42" y="1356.83" width="62.00" height="15.94" fill="#f57547"/>
<rect x="862.82" y="1356.83" width="276.90" height="15.94" fill="#fa9857"/>
<rect x="1139.12" y="1356.83" width="77.35" height="15.94" fill="#f57547"/>
<rect x="1215.88" y="1356.83" width="246.20" height="15.94" fill="#e85b48"/>
<rect x="1461.47" y="1356.83" width="108.05" height="15.94" fill="#f57547"/>
<rect x="1568.92" y="1356.83" width="15.95" height="15.94" fill="#fa9857"/>
<rect x="1584.27" y="1356.83" width="62.00" height="15.94" fill="#f57547"/>
</g>
<g clip-path="url(#cp)" fill="none" stroke="#000" stroke-linejoin="round">
<line x1="410.0" y1="137.0" x2="410.0" y2="1364.5" stroke="#b8b8b8" stroke-opacity="0.45" stroke-width="0.9" stroke-dasharray="5 3" shape-rendering="auto"/>
<line x1="717.0" y1="137.0" x2="717.0" y2="1364.5" stroke="#b8b8b8" stroke-opacity="0.45" stroke-width="0.9" stroke-dasharray="5 3" shape-rendering="auto"/>
<line x1="1024.0" y1="137.0" x2="1024.0" y2="1364.5" stroke="#b8b8b8" stroke-opacity="0.45" stroke-width="0.9" stroke-dasharray="5 3" shape-rendering="auto"/>
<line x1="1331.0" y1="137.0" x2="1331.0" y2="1364.5" stroke="#b8b8b8" stroke-opacity="0.45" stroke-width="0.9" stroke-dasharray="5 3" shape-rendering="auto"/>
<line x1="103.0" y1="1211.1" x2="1638.0" y2="1211.1" stroke="#b8b8b8" stroke-opacity="0.45" stroke-width="0.9" stroke-dasharray="5 3" shape-rendering="auto"/>
<line x1="103.0" y1="1057.6" x2="1638.0" y2="1057.6" stroke="#b8b8b8" stroke-opacity="0.45" stroke-width="0.9" stroke-dasharray="5 3" shape-rendering="auto"/>
<line x1="103.0" y1="904.2" x2="1638.0" y2="904.2" stroke="#b8b8b8" stroke-opacity="0.45" stroke-width="0.9" stroke-dasharray="5 3" shape-rendering="auto"/>
<line x1="103.0" y1="750.8" x2="1638.0" y2="750.8" stroke="#b8b8b8" stroke-opacity="0.45" stroke-width="0.9" stroke-dasharray="5 3" shape-rendering="auto"/>
<line x1="103.0" y1="597.3" x2="1638.0" y2="597.3" stroke="#b8b8b8" stroke-opacity="0.45" stroke-width="0.9" stroke-dasharray="5 3" shape-rendering="auto"/>
<line x1="103.0" y1="443.9" x2="1638.0" y2="443.9" stroke="#b8b8b8" stroke-opacity="0.45" stroke-width="0.9" stroke-dasharray="5 3" shape-rendering="auto"/>
<line x1="103.0" y1="290.4" x2="1638.0" y2="290.4" stroke="#b8b8b8" stroke-opacity="0.45" stroke-width="0.9" stroke-dasharray="5 3" shape-rendering="auto"/>
<path d="M560.9 137.0 L581.8 144.3 L600.0 152.1 L615.1 159.9 L615.0 162.6 L641.0 173.0 L667.1 186.0 L693.1 200.3 L714.0 208.1 L745.2 211.2 L771.2 213.9 L797.3 217.2 L841.6 222.4 L875.4 223.8 L927.5 221.7 L966.6 220.6 L1003.0 218.5 L1006.2 218.0M1053.9 208.3 L1060.3 206.8 L1096.8 197.7 L1130.1 189.9 L1130.0 189.9 L1156.0 180.8 L1182.1 170.4 L1208.1 157.3 L1229.0 146.9 L1247.2 137.0" stroke-width="2.15" stroke-dasharray="2.15 3.9"/>
<path d="M469.8 137.0 L485.4 144.3 L506.2 153.4 L527.1 161.2 L545.3 169.1 L557.2 174.3M602.2 192.5 L605.2 193.8 L615.1 198.2 L615.0 198.2 L648.9 210.7 L680.1 229.0 L719.2 234.2 L771.2 239.4 L818.1 244.6 L849.4 248.5 L875.4 249.3 L922.3 245.9 L953.5 242.0 L992.6 239.4 L1026.5 236.8 L1057.7 232.9 L1089.0 225.1 L1130.1 213.3 L1130.0 213.3 L1156.0 208.1 L1182.1 197.7 L1208.1 186.0 L1234.2 173.0 L1260.2 158.6 L1281.0 146.9 L1296.7 137.0" stroke-width="2.15" stroke-dasharray="2.15 3.9"/>
<path d="M350.0 137.0 L363.0 146.9 L373.4 156.0 L386.5 166.5 L399.5 169.1 L412.5 166.5 L428.1 169.1 L441.1 167.8 L459.4 172.2 L465.6 174.6M510.7 190.6 L516.7 192.5 L532.3 198.2 L553.1 204.2 L574.0 209.4 L594.8 215.9 L615.1 224.3 L615.0 227.7 L648.9 244.6 L680.1 255.0 L693.1 260.2 L732.2 262.8 L771.2 265.4 L818.1 269.3 L849.4 271.9 L888.4 272.7 L935.3 270.6 L953.5 265.4 L979.6 261.5 L1008.2 258.1 L1021.2 261.5 L1057.7 260.2 L1073.3 255.0 L1096.8 251.1 L1130.1 243.3 L1130.0 243.3 L1156.0 236.8 L1182.1 227.7 L1205.2 218.4M1225.5 207.7 L1234.2 202.9 L1260.2 187.3 L1286.2 171.7 L1312.3 157.3 L1333.1 144.3 L1346.1 137.0" stroke-width="2.15" stroke-dasharray="2.15 3.9"/>
<path d="M279.7 137.0 L297.9 149.5 L324.0 158.6 L334.4 171.7 L347.4 186.0 L360.4 198.2 L381.2 200.8 L409.9 199.0 L428.1 202.9 L446.4 201.6 L469.8 208.1 L490.6 214.6 L516.7 219.8 L537.5 226.4 L558.3 234.2 L571.4 242.0 L587.0 249.8 L605.2 255.5 L611.7 262.8 L613.5 271.9 L615.1 275.8 L615.0 275.8 L638.4 282.3 L667.1 284.9 L706.1 286.2 L755.6 288.9 L771.2 285.7 L786.9 289.4 L818.1 292.8 L849.4 294.6 L875.4 296.1 L914.5 296.1 L953.5 293.5 L1000.4 291.5 L1031.7 286.2 L1062.9 281.0 L1091.6 275.8 L1100.7 271.9M1116.6 266.3 L1130.1 262.8 L1130.0 262.8 L1156.0 256.3 L1182.1 248.5 L1202.9 242.0M1249.2 224.8 L1255.0 222.4 L1275.8 213.3 L1299.3 199.0 L1325.3 182.1 L1351.4 165.2 L1377.4 149.5 L1398.2 137.0" stroke-width="2.15" stroke-dasharray="2.15 3.9"/>
<path d="M133.9 137.0 L156.0 146.9 L163.8 154.7 L178.1 146.9 L188.5 154.7 L217.2 157.3 L245.8 162.6 L256.2 170.4 L271.9 182.1 L270.6 195.1 L261.5 204.2 L238.0 213.9 L248.4 225.1 L256.2 231.0 L266.7 229.0 L287.5 221.1 L297.9 229.0 L321.4 231.6 L350.0 229.5 L376.0 231.0 L394.3 228.4 L409.9 229.0 L425.5 236.8 L443.8 234.2 L469.8 236.2 L495.8 240.7 L511.5 247.2 L532.3 252.4 L542.7 262.8 L553.1 275.8 L568.8 286.2 L587.0 296.7 L602.6 304.5 L615.1 309.7 L615.0 308.4 L641.0 308.4 L672.3 309.7 L700.9 313.6 L745.2 316.2 L781.7 317.0 L823.3 318.0 L862.4 319.6 L901.5 318.8 L927.5 321.4 L945.7 322.2 L961.4 318.8 L979.6 313.6 L992.6 308.4 L1010.8 309.7 L1029.1 308.4 L1057.7 304.5 L1083.8 299.3 L1093.1 296.5M1139.4 283.9 L1145.6 282.3 L1169.1 278.4 L1195.1 271.9 L1221.1 265.4 L1242.0 258.9 L1260.2 248.5 L1286.2 234.2 L1312.3 218.5 L1338.3 202.9 L1356.6 188.6 L1377.4 176.9 L1393.0 163.9 L1403.4 152.1 L1416.5 144.3 L1429.5 137.0" stroke-width="2.15" stroke-dasharray="2.15 3.9"/>
<path d="M102.6 215.9 L115.6 210.7 L126.0 211.2 L133.9 213.9 L123.4 221.1 L111.7 229.0 L131.2 233.6 L152.1 236.2 L178.1 239.4 L185.9 247.2 L189.8 257.6 L196.4 269.3 L214.6 272.7 L235.4 273.2 L256.2 277.9 L271.9 280.5 L279.7 274.5 L284.9 257.6 L297.9 256.3 L308.3 257.6 L318.8 259.7 L326.6 256.3 L350.0 254.5 L376.0 255.0 L394.3 257.1 L409.9 255.0 L430.7 257.6 L446.4 262.8 L462.0 269.3 L469.8 275.8 L490.6 281.0 L506.2 284.9 L519.3 286.2 L529.7 299.3 L542.7 312.3 L558.3 316.2 L584.4 316.2 L592.2 330.5 L602.6 334.4 L615.1 335.7 L615.0 337.0 L641.0 335.7 L656.7 339.6 L662.9 340.0M710.7 342.1 L714.0 342.2 L740.0 341.5 L771.2 342.2 L797.3 344.8 L823.3 346.1 L849.4 345.6 L901.5 344.1 L945.7 343.5 L979.6 340.4 L1021.2 338.3 L1042.1 333.1 L1073.3 326.6 L1099.4 320.1 L1130.1 314.4 L1130.0 314.4 L1150.8 309.7 L1169.1 305.0 L1184.7 302.4 L1202.9 307.1 L1215.9 305.0 L1234.2 295.4 L1252.4 284.9 L1275.8 274.5 L1288.9 265.4 L1296.7 255.5 L1312.3 254.5 L1327.9 250.3 L1351.4 239.4 L1372.2 226.4 L1393.0 210.7 L1413.9 195.1 L1432.1 180.8 L1450.3 163.9 L1460.7 152.1 L1467.2 137.0" stroke-width="2.15" stroke-dasharray="2.15 3.9"/>
<path d="M102.6 311.0 L115.6 305.0 L128.6 309.2 L136.5 307.1 L146.9 298.0 L162.5 293.5 L176.8 289.4 L183.3 294.1 L191.1 304.5 L199.0 304.0 L209.4 299.3 L222.4 300.6 L235.4 307.1 L256.2 309.7 L282.3 311.0 L297.9 310.2 L308.3 307.1 L316.1 299.3 L329.2 292.8 L347.4 287.6 L363.0 283.6 L378.6 280.5 L389.1 284.9 L409.9 290.2 L425.5 295.4 L435.9 301.9 L449.0 308.4 L464.6 316.2 L480.2 322.7 L501.0 327.4 L516.7 331.8 L532.3 338.3 L542.7 346.1 L558.3 351.4 L579.2 356.6 L594.8 360.5 L615.1 364.4 L615.0 364.4 L633.2 369.6 L667.1 371.7 L700.9 370.1 L724.4 369.1 L745.2 365.7 L760.8 367.5 L797.3 372.2 L849.4 374.8 L888.4 375.3 L927.5 373.5 L966.6 369.6 L995.2 367.5 L1001.6 366.8M1048.9 361.2 L1055.1 360.5 L1083.8 355.3 L1109.8 347.4 L1130.1 344.1 L1130.0 344.1 L1156.0 344.8 L1182.1 339.6 L1208.1 331.8 L1234.2 326.6 L1255.0 321.4 L1265.4 313.6 L1283.6 307.1 L1301.9 311.0 L1317.5 307.1 L1330.5 299.3 L1351.4 294.1 L1361.8 287.6 L1380.0 284.9 L1395.6 279.7 L1407.3 273.2 L1413.9 281.0 L1421.7 292.8 L1429.5 294.6 L1442.5 288.9 L1455.5 278.4 L1465.9 273.2 L1471.1 275.8 L1471.1 288.9 L1484.2 294.6 L1494.6 287.6 L1515.4 281.0 L1533.6 274.5 L1546.7 262.8 L1562.3 252.4 L1575.3 243.3 L1590.9 246.7 L1606.6 242.0 L1622.2 234.2 L1638.3 232.1" stroke-width="2.15" stroke-dasharray="2.15 3.9"/>
<path d="M102.6 350.1 L115.6 359.2 L131.2 367.0 L144.3 360.5 L157.3 354.0 L162.0 343.5 L161.2 333.1 L163.8 322.2 L175.5 324.0 L188.5 324.8 L201.6 321.4 L210.7 316.2 L219.8 322.7 L230.2 329.2 L241.9 331.8 L256.2 324.8 L266.7 329.2 L282.3 334.4 L292.7 336.2 L308.3 333.1 L324.0 330.5 L337.0 326.6 L344.8 320.1 L360.4 318.8 L378.6 318.0 L389.1 322.2 L409.9 328.4 L425.5 334.4 L435.9 340.9 L451.6 344.8 L469.8 350.1 L485.4 354.5 L501.0 360.5 L516.7 367.0 L537.5 373.5 L558.3 378.7 L579.2 383.9 L600.0 389.1 L615.1 394.3 L615.0 396.9 L641.0 400.8 L674.9 403.4 L719.2 402.1 L771.2 402.9 L807.7 407.3 L836.4 407.3 L872.8 404.7 L876.0 404.6M926.9 402.3 L930.1 402.1 L979.6 399.5 L1000.4 395.6 L1021.2 394.3 L1042.1 396.1 L1070.7 391.7 L1096.8 383.9 L1130.1 378.7 L1130.0 378.7 L1156.0 374.8 L1182.1 367.0 L1208.1 360.5 L1234.2 355.3 L1252.4 350.1 L1270.6 352.7 L1286.2 352.7 L1307.1 350.1 L1330.5 347.4 L1351.4 350.1 L1374.8 346.7 L1390.4 354.0 L1407.3 349.3 L1421.7 356.6 L1437.3 356.0 L1452.9 350.8 L1468.5 357.9 L1481.6 367.0 L1489.4 368.3 L1505.0 359.2 L1523.2 348.2 L1546.7 345.6 L1564.9 341.5 L1577.9 334.4 L1590.9 339.6 L1609.2 327.9 L1624.8 331.8 L1638.3 339.6" stroke-width="2.15" stroke-dasharray="2.15 3.9"/>
<path d="M102.6 389.1 L113.0 395.6 L123.4 397.7 L133.9 393.5 L146.9 394.3 L157.3 400.8 L172.9 407.3 L185.9 415.2 L199.0 420.4 L212.0 419.1 L217.2 406.0 L215.9 393.0 L222.4 380.0 L238.0 368.3 L253.6 367.5 L264.1 360.5 L271.9 357.1 L279.7 364.4 L287.5 374.8 L305.7 377.4 L321.4 378.7 L334.4 383.9 L347.4 383.9 L360.4 374.8 L376.0 371.7 L386.5 367.5 L394.3 363.1 L404.7 369.6 L417.7 380.0 L428.1 383.9 L446.4 384.7 L469.8 385.7 L485.4 390.4 L501.0 398.2 L519.3 404.7 L540.1 411.2 L563.5 417.8 L587.0 424.3 L602.6 429.0 L615.1 432.1 L615.0 429.5 L625.4 429.0 L638.4 434.7 L667.1 434.7 L700.9 433.4 L727.0 432.1 L755.6 434.2 L797.3 439.4 L836.4 439.4 L875.4 437.3 L914.5 435.2 L953.5 431.6 L992.6 430.8 L1016.0 428.2 L1042.1 423.0 L1054.6 420.3M1088.1 413.7 L1094.2 412.6 L1130.1 404.7 L1130.0 404.7 L1156.0 399.5 L1174.3 393.5 L1195.1 389.1 L1221.1 391.7 L1242.0 390.4 L1265.4 388.3 L1286.2 393.0 L1301.9 388.3 L1317.5 386.5 L1335.7 391.7 L1354.0 398.2 L1374.8 404.7 L1403.4 406.6 L1434.7 404.0 L1458.1 406.6 L1484.2 408.6 L1499.8 404.7 L1520.6 408.6 L1544.1 415.2 L1559.7 409.9 L1577.9 417.0 L1590.9 409.2 L1606.6 408.1 L1619.6 417.8 L1638.3 421.1" stroke-width="2.15" stroke-dasharray="2.15 3.9"/>
<path d="M102.7 407.3 L114.5 410.9 L125.5 417.3 L136.4 426.4 L145.5 436.4 L152.7 440.9 L167.3 440.9 L180.0 440.0 L187.3 444.5 L196.4 444.5 L203.6 437.3 L209.1 429.1 L218.2 420.0 L227.3 412.7 L238.2 406.4 L245.5 407.3 L254.5 412.7 L270.9 415.5 L289.1 417.3 L300.0 422.7 L314.5 427.3 L336.4 427.3 L363.6 427.3 L383.6 428.2 L409.1 425.5 L423.6 420.9 L436.4 419.1 L449.1 420.9 L460.0 423.6 L462.7 426.4 L482.7 430.9 L504.5 434.5 L522.7 437.6 L535.5 442.7 L548.2 448.2 L559.1 452.7 L573.6 458.2 L588.2 462.7 L602.7 467.3 L617.3 470.9 L631.8 472.2 L642.7 471.8 L655.5 469.1 L673.6 467.3 L695.5 466.7 L717.3 465.5 L733.6 463.6 L748.2 463.1 L762.7 465.5 L777.3 468.2 L791.8 470.0 L810.0 470.0 L836.4 469.8 L875.4 468.5 L914.5 464.6 L932.7 460.7 L971.8 459.4 L975.1 459.2M1011.9 456.1 L1018.6 455.5 L1057.7 449.0 L1078.5 442.5 L1109.8 440.4 L1130.1 439.9 L1130.0 439.9 L1143.0 432.1 L1158.6 428.2 L1176.9 438.6 L1208.1 431.6 L1234.2 433.4 L1255.0 438.6 L1270.6 437.3 L1283.6 428.2 L1299.3 426.9 L1317.5 434.7 L1333.1 441.2 L1343.5 447.7 L1364.4 449.0 L1390.4 452.4 L1408.6 456.0 L1424.3 453.4 L1439.9 458.6 L1450.3 464.6 L1468.5 466.5 L1484.2 468.0 L1499.8 462.8 L1525.8 461.2 L1546.7 464.6 L1567.5 469.8 L1577.9 476.4 L1590.9 469.8 L1604.0 477.7 L1624.8 479.0 L1638.3 484.7" stroke-width="2.15" stroke-dasharray="2.15 3.9"/>
<path d="M102.7 460.0 L114.5 460.9 L123.6 459.1 L132.7 455.8 L143.6 455.8 L154.5 460.0 L163.6 464.5 L176.4 467.3 L187.3 463.6 L198.2 457.3 L209.1 451.8 L223.6 445.5 L238.2 443.1 L250.9 444.5 L263.6 446.4 L278.2 450.9 L289.1 452.7 L303.6 452.7 L318.2 452.7 L332.7 454.0 L343.6 454.5 L358.2 456.4 L372.7 458.7 L390.9 460.0 L409.1 460.0 L423.6 462.7 L438.2 462.7 L445.5 460.0 L460.0 458.7 L460.9 461.8 L473.6 467.3 L490.0 470.0 L510.0 470.9 L522.7 475.5 L535.5 482.7 L551.8 488.2 L568.2 493.6 L586.4 498.2 L604.5 501.8 L622.7 504.5 L640.9 505.5 L655.5 504.2 L673.6 504.5 L695.5 503.1 L713.6 502.4 L733.6 500.0 L748.2 498.2 L768.2 500.0 L786.4 501.3 L810.0 501.8 L849.4 497.2 L888.4 494.1 L914.5 489.4 L935.3 488.9 L961.4 490.7 L992.6 492.0 L1031.7 493.3 L1038.2 493.0M1071.1 491.2 L1081.1 490.7 L1109.8 490.7 L1130.1 491.5 L1130.0 491.5 L1150.8 484.7 L1174.3 482.9 L1192.5 481.6 L1202.9 491.5 L1213.3 490.7 L1229.0 484.2 L1242.0 482.9 L1257.6 487.3 L1268.0 497.2 L1278.4 505.0 L1278.4 506.3 L1312.3 508.1 L1343.5 507.1 L1351.4 512.8 L1360.5 521.1 L1374.8 514.1 L1390.4 510.2 L1398.2 505.0 L1408.6 499.8 L1429.5 502.9 L1434.7 505.0 L1455.5 508.1 L1494.6 510.2 L1528.4 515.4 L1546.7 525.8 L1559.7 531.0 L1585.7 533.1 L1606.6 536.2 L1624.8 546.7 L1638.3 554.5" stroke-width="2.15" stroke-dasharray="2.15 3.9"/>
<path d="M102.7 477.3 L118.2 476.9 L132.7 474.0 L147.3 470.4 L161.8 471.5 L176.4 473.6 L190.9 472.7 L205.5 469.1 L220.0 466.4 L234.5 464.9 L249.1 466.0 L260.0 469.1 L269.1 475.5 L280.0 481.8 L289.1 483.6 L300.0 480.9 L318.2 477.6 L336.4 479.5 L354.5 481.8 L365.5 485.5 L376.4 490.9 L390.9 495.5 L409.1 499.1 L427.3 503.6 L441.8 506.4 L460.0 503.6 L468.2 503.1 L484.5 502.4 L495.5 506.4 L510.0 511.8 L526.4 517.3 L540.9 525.5 L555.5 531.8 L570.0 537.3 L582.7 542.7 L595.5 545.5 L608.2 545.5 L619.1 541.8 L631.8 540.0 L650.0 539.5 L668.2 537.6 L686.4 536.9 L695.5 534.5 L713.6 532.7 L733.6 533.6 L759.1 532.7 L786.4 530.9 L810.0 530.4 L823.3 529.0 L836.4 524.5 L862.4 521.9 L888.4 523.2 L914.5 522.7 L932.7 519.3 L953.5 521.9 L979.6 523.8 L1005.6 527.1 L1031.7 529.7 L1057.7 530.5 L1083.8 534.2 L1109.8 537.6 L1130.1 541.5 L1130.0 542.8 L1156.0 546.7 L1176.9 553.2 L1195.1 553.2 L1215.9 558.4 L1239.4 562.3 L1265.4 567.5 L1296.7 567.5 L1327.9 573.2 L1351.4 577.4 L1369.6 583.1 L1390.4 587.8 L1416.5 583.6 L1439.9 582.6 L1452.9 578.4 L1468.5 577.9 L1489.4 583.1 L1512.8 589.6 L1515.8 590.9M1548.8 605.2 L1551.9 606.6 L1572.7 613.1 L1593.5 611.8 L1609.2 622.2 L1619.6 635.2 L1630.0 645.6 L1638.3 649.5" stroke-width="2.15" stroke-dasharray="2.15 3.9"/>
<path d="M102.7 491.8 L118.2 490.9 L132.7 489.6 L149.1 487.3 L163.6 491.5 L178.2 490.0 L194.5 487.3 L209.1 487.3 L218.2 488.2 L227.3 490.0 L241.8 497.3 L256.4 502.7 L270.9 504.5 L272.5 504.6 L287.8 515.3 L303.1 514.5 L318.3 513.7 L333.6 511.0 L350.4 513.0 L367.2 515.3 L379.4 518.3 L390.1 524.4 L399.8 530.5 L425.5 538.9 L464.6 549.3 L503.6 555.8 L542.7 563.6 L568.8 567.5 L594.8 572.7 L615.1 571.4 L615.0 572.2 L637.1 572.2 L643.8 571.8M670.3 570.2 L693.1 567.5 L703.5 565.4 L719.2 568.8 L740.0 566.2 L760.8 562.3 L784.3 558.4 L810.3 555.8 L839.0 553.2 L857.2 558.4 L885.8 558.4 L901.5 553.2 L927.5 552.4 L961.4 551.9 L984.8 554.5 L1005.6 558.4 L1031.7 563.6 L1057.7 568.8 L1083.8 572.7 L1104.6 576.6 L1130.1 588.3 L1130.0 588.3 L1140.4 596.1 L1146.9 604.0 L1161.2 609.2 L1176.9 619.6 L1192.5 628.7 L1208.1 624.8 L1223.8 632.6 L1239.4 626.9 L1255.0 634.7 L1283.6 632.1 L1301.9 628.7 L1316.2 628.7 L1330.5 623.5 L1346.7 601.4 L1361.8 613.1 L1377.4 618.3 L1393.0 624.8 L1408.6 627.4 L1424.3 632.1 L1438.6 644.3 L1468.5 651.4 L1479.0 658.6 L1485.5 667.8 L1499.8 666.5 L1515.4 675.6 L1546.7 689.4 L1562.3 690.4 L1572.7 705.5 L1583.1 718.5 L1592.2 729.0 L1606.6 730.3 L1624.8 740.7 L1638.3 748.5" stroke-width="2.15"/>
<path d="M102.3 501.5 L118.3 502.3 L135.1 504.6 L148.9 507.6 L164.1 503.1 L176.3 504.6 L194.7 510.7 L213.0 518.3 L226.7 522.9 L237.4 528.2 L249.6 534.4 L264.9 538.9 L283.2 544.3 L303.1 548.9 L318.3 545.0 L333.6 553.7 L350.4 557.3 L367.2 558.8 L379.4 563.4 L390.1 571.8 L399.8 576.3 L425.5 580.5 L438.5 588.3 L454.2 598.8 L472.4 598.8 L485.4 593.5 L503.6 592.2 L521.9 598.8 L542.7 606.6 L558.3 609.2 L576.6 606.6 L594.8 604.0 L615.1 607.9 L615.0 609.2 L630.6 610.5 L641.0 614.4 L661.9 615.7 L685.3 617.0 L706.1 614.4 L727.0 610.5 L745.2 605.3 L760.8 598.8 L776.5 593.5 L797.3 590.9 L823.3 587.8 L849.4 587.8 L870.2 589.6 L896.2 585.7 L927.5 584.4 L961.4 588.3 L992.6 594.8 L1018.6 601.4 L1042.1 609.2 L1057.7 619.6 L1073.3 635.2 L1091.6 653.4 L1109.8 671.7 L1122.8 687.3 L1130.1 697.7 L1130.0 697.7 L1137.8 705.5 L1148.2 709.4 L1161.2 710.2 L1173.0 705.0 L1171.7 689.9 L1178.2 687.3 L1180.8 691.2 L1183.4 704.2 L1175.6 719.8 L1192.5 728.4 L1208.1 730.3 L1223.8 734.7 L1239.4 728.4 L1255.0 738.1 L1270.6 745.9 L1284.9 735.5 L1286.2 721.1 L1296.7 705.5 L1316.2 696.4 L1330.5 708.1 L1346.7 695.6 L1361.8 699.0 L1377.4 712.0 L1393.0 711.2 L1408.6 709.4 L1424.3 711.2 L1438.6 721.1 L1454.2 728.4 L1468.5 742.0 L1484.2 755.0 L1499.8 763.3 L1512.8 783.6 L1523.2 796.7 L1531.0 802.4 L1546.7 800.6 L1562.3 804.5 L1577.9 814.9 L1592.2 804.5 L1613.1 812.3 L1606.6 827.9 L1623.5 843.5 L1623.5 846.1 L1638.3 846.1" stroke-width="2.15"/>
<path d="M102.3 521.4 L118.3 516.8 L133.6 514.5 L150.4 521.4 L161.1 527.5 L179.4 535.1 L191.6 541.2 L206.9 545.8 L225.2 551.9 L237.4 561.1 L249.6 571.8 L264.9 585.5 L275.6 590.1 L286.3 592.4 L303.1 606.9 L318.3 603.8 L333.6 604.6 L347.3 608.4 L367.2 606.9 L382.4 611.5 L399.8 622.9 L412.5 632.6 L428.1 639.1 L451.6 640.4 L477.6 639.1 L503.6 636.5 L529.7 635.2 L547.9 634.7 L563.5 646.9 L574.0 657.3 L589.6 663.9 L602.6 671.7 L615.1 675.6 L600.0 675.9 L615.3 675.9 L630.5 669.0 L645.8 662.9 L661.1 656.8 L671.8 644.6 L685.5 642.3 L706.9 641.5 L722.2 643.1 L732.9 643.8 L745.1 640.8 L745.2 637.8 L771.2 632.6 L792.1 626.1 L810.3 622.2 L836.4 620.9 L857.2 623.5 L875.4 619.6 L901.5 618.3 L927.5 623.5 L953.5 628.7 L979.6 635.2 L997.8 641.7 L1006.9 650.2M1022.3 671.1 L1023.9 674.3 L1031.7 687.3 L1042.1 702.9 L1049.9 721.1 L1057.7 739.4 L1068.1 755.0 L1081.1 768.0 L1091.6 775.8 L1109.8 774.5 L1130.1 770.6 L1130.0 777.1 L1145.6 779.7 L1162.6 779.7 L1178.2 770.6 L1193.8 772.7 L1208.1 781.0 L1223.8 791.5 L1239.4 795.4 L1255.0 801.4 L1270.6 805.0 L1286.2 811.0 L1292.8 830.5 L1299.3 843.0 L1316.2 849.3 L1330.5 847.4 L1346.7 842.2 L1361.8 843.0 L1376.1 858.6 L1393.0 861.8 L1398.2 857.1 L1408.6 855.3 L1416.5 857.9 L1417.8 872.2 L1423.0 879.5 L1437.3 884.7 L1450.3 880.5 L1455.5 880.0 L1465.9 890.4 L1476.4 903.4 L1492.0 916.5 L1499.8 926.9 L1520.6 938.6 L1536.2 947.7 L1549.3 960.7 L1559.7 971.1 L1577.9 974.3 L1580.5 980.3 L1598.8 989.4 L1614.4 997.2 L1638.3 1006.3" stroke-width="2.15"/>
<path d="M102.3 532.1 L115.3 532.1 L124.4 534.4 L138.2 542.0 L153.4 553.4 L168.7 567.2 L180.9 573.3 L191.6 577.9 L206.9 584.0 L219.1 590.1 L228.2 595.4 L229.8 606.9 L234.4 626.7 L238.9 645.0 L240.5 661.1 L255.7 657.3 L264.9 663.4 L275.6 667.2 L290.8 673.3 L303.1 681.7 L312.2 692.4 L318.3 700.0 L326.0 706.1 L333.6 709.2 L347.3 707.6 L355.0 704.6 L355.0 693.9 L351.9 683.2 L347.3 677.1 L342.7 674.0 L351.9 671.0 L367.2 669.5 L382.4 670.2 L399.8 677.9 L409.9 689.9 L426.8 688.9 L426.8 691.5 L411.2 691.5 L399.5 702.9 L381.2 717.2 L363.0 719.8 L376.0 734.2 L394.3 742.0 L409.9 749.8 L399.5 762.8 L400.8 781.0 L399.5 804.5 L396.9 827.9 L394.8 829.8 L382.6 837.5 L365.8 845.1 L352.0 835.9 L335.2 828.3 L318.4 829.1 L303.1 816.1 L287.9 809.2 L272.6 806.9 L261.9 797.8 L251.2 790.9 L237.5 792.4 L225.2 799.3 L210.0 800.0 L203.9 785.5 L199.3 765.7 L194.7 763.4 L193.9 776.4 L188.6 794.7 L184.0 811.5 L190.1 822.2 L194.7 837.5 L210.0 835.2 L217.6 842.8 L216.1 857.3 L202.3 874.1 L210.0 878.7 L222.2 869.5 L237.5 860.4 L257.3 849.7 L271.1 849.7 L283.3 860.4 L297.0 868.0 L313.8 878.7 L329.1 890.9 L344.4 901.6 L359.7 906.2 L366.7 913.6 L373.9 922.7 L388.4 926.3 L402.8 931.7 L417.3 937.1 L429.9 940.7 L442.5 940.7 L453.4 935.3 L460.6 937.1 L478.7 942.5 L493.1 947.1 L507.6 953.4 L518.4 960.6 L529.2 969.6 L533.7 972.3 L538.3 964.2 L532.8 951.6 L530.1 935.3 L538.3 924.5 L547.3 910.0 L556.3 895.6 L560.8 888.4 L550.9 874.8 L540.1 873.9 L523.8 877.5 L505.8 878.4 L487.7 877.5 L471.4 873.9 L466.0 866.7 L463.3 852.2 L464.2 834.2 L464.2 816.1 L467.8 798.1 L471.4 780.0 L469.8 778.4 L446.4 775.8 L435.9 765.4 L441.1 752.4 L464.6 749.8 L485.4 744.6 L501.0 739.4 L521.9 736.8 L542.7 734.2 L558.3 718.5 L576.6 715.9 L594.8 721.1 L615.1 719.8 L615.3 711.8 L630.5 705.7 L651.9 699.6 L658.0 698.3M683.5 694.0 L690.1 693.2 L700.8 691.9 L706.9 695.0 L717.6 700.3 L729.8 699.6 L742.0 696.5 L752.7 693.5 L765.0 689.6 L772.6 684.3 L786.3 678.2 L798.6 670.5 L809.3 664.4 L821.5 661.4 L836.7 656.8 L852.0 653.7 L867.3 654.5 L882.6 658.3 L900.0 659.9 L892.2 660.6 L902.9 662.1 L910.5 670.5 L919.7 678.2 L930.4 685.8 L938.0 693.5 L945.7 701.1 L956.4 704.9 L967.1 709.5 L976.2 714.8 L983.9 721.0 L993.0 727.1 L1002.2 732.4 L1006.8 737.8 L1009.8 748.4 L1010.2 750.2 L1003.3 756.6 L996.0 761.2 L989.6 765.7 L993.2 777.2 L1002.4 778.1 L1010.7 779.5 L1011.6 785.0 L1008.8 791.9 L994.2 784.1 L981.3 777.7 L970.3 774.0 L962.1 772.2 L954.7 780.9 L960.2 790.5 L964.8 796.0 L975.8 800.6 L989.6 806.1 L992.3 807.9 L1001.5 802.4 L1007.9 802.4 L1012.5 809.7 L1019.8 817.1 L1026.2 825.3 L1030.8 835.4 L1032.7 842.7 L1044.6 846.4 L1055.6 850.5 L1069.3 847.3 L1073.0 841.8 L1084.9 838.2 L1090.4 842.7 L1095.0 849.2 L1100.5 856.5 L1110.0 861.1 L1130.0 854.0 L1145.6 838.3 L1162.6 837.0 L1178.2 854.0 L1193.8 864.4 L1208.1 867.5 L1223.8 876.1 L1230.3 859.2 L1239.4 850.8 L1245.9 859.2 L1244.6 872.2 L1242.0 880.0 L1235.5 889.1 L1242.0 906.0 L1242.0 919.1 L1249.8 932.1 L1270.6 947.7 L1286.2 958.1 L1296.7 971.1 L1312.3 981.6 L1324.0 997.2 L1338.3 1008.9 L1351.4 1025.8 L1356.6 1041.5 L1369.6 1059.7 L1393.0 1063.6 L1416.5 1072.7 L1426.9 1083.1 L1438.6 1090.9 L1443.8 1104.0 L1436.0 1113.1 L1421.7 1118.3 L1424.3 1124.8 L1439.9 1124.8 L1454.2 1118.3 L1468.5 1124.8 L1486.8 1131.3 L1499.8 1135.2 L1515.4 1145.6 L1531.0 1161.2 L1546.7 1176.9 L1561.9 1189.7 L1571.1 1197.3 L1580.2 1203.5 L1587.1 1211.1 L1577.2 1217.2 L1566.5 1215.7 L1554.3 1211.9 L1545.1 1211.1 L1547.4 1223.3 L1545.1 1241.6 L1540.5 1260.0 L1534.4 1275.2 L1529.8 1282.9 L1516.1 1285.9 L1506.9 1275.2 L1499.3 1264.6 L1485.5 1256.9 L1468.7 1257.7 L1484.0 1263.8 L1487.1 1276.8 L1487.1 1287.5 L1497.0 1304.3 L1493.2 1318.0 L1495.5 1331.8 L1500.0 1340.2 L1506.9 1328.7 L1516.1 1319.5 L1529.8 1312.7 L1536.7 1319.5 L1526.8 1331.8 L1531.4 1337.9 L1546.6 1335.6 L1555.8 1345.5 L1566.5 1356.2 L1574.1 1366.9" stroke-width="2.15"/>
<path d="M1644.4 1264.6 L1621.5 1275.2 L1613.8 1266.1 L1606.2 1255.4 L1600.1 1250.0 L1600.1 1259.2M1589.8 1283.8 L1595.5 1291.3 L1601.6 1299.7 L1609.3 1308.9 L1616.1 1318.8 L1604.7 1327.2 L1595.5 1333.3 L1594.7 1342.5 L1590.9 1351.6 L1581.8 1366.9" stroke-width="2.15"/>
<path d="M103.1 984.2 L118.2 986.8 L133.9 1001.1 L149.5 995.9 L163.8 1015.4 L179.4 1031.0 L195.1 1045.4 L210.7 1041.5 L226.3 1033.6 L241.9 1028.4 L271.9 1025.8 L287.5 1034.9 L303.1 1041.5 L318.8 1048.0 L333.1 1048.0 L348.7 1044.1 L364.3 1045.4 L379.9 1049.3 L395.6 1053.2 L409.9 1056.6 L425.5 1066.2 L441.1 1080.5 L456.8 1080.5 L471.1 1076.6 L486.7 1078.4 L502.3 1078.4 L518.0 1073.2 L533.6 1074.8 L544.0 1073.2 L540.1 1054.5 L541.4 1036.2 L544.0 1021.9 L558.3 1018.0 L571.4 1011.5 L579.2 1004.5 L594.8 1004.5 L600.0 1012.8 L603.9 1025.8 L610.4 1036.2 L615.1 1046.7 L622.8 1059.7 L635.8 1072.7 L651.5 1085.7 L664.5 1093.5 L677.5 1101.4 L693.1 1104.0 L695.7 1119.6 L698.3 1132.6 L704.8 1140.4 L716.6 1165.2 L732.2 1163.9 L747.8 1162.6 L762.1 1150.8 L763.4 1137.8 L766.0 1122.2 L768.6 1109.2 L776.5 1098.8 L792.1 1100.1 L810.3 1104.0 L823.3 1105.3 L831.1 1117.0 L846.8 1133.9 L848.1 1145.6 L844.2 1158.6 L839.0 1166.5 L854.6 1176.9 L861.1 1161.2 L862.4 1145.6 L861.1 1133.9 L875.4 1123.5 L891.0 1104.0 L901.5 1085.7 L911.9 1067.5 L922.3 1054.5 L932.7 1049.3 L950.9 1058.4 L940.5 1067.5 L930.1 1074.0 L931.4 1088.3 L928.8 1106.6 L926.2 1127.4 L930.1 1150.8 L935.3 1165.2 L933.2 1168.0M916.6 1189.9 L914.5 1192.5 L901.5 1205.5 L891.0 1218.5 L878.0 1242.0 L886.8 1258.0 L901.1 1273.6 L916.7 1276.2 L932.3 1289.2 L947.9 1280.1 L963.5 1268.4 L979.1 1258.0 L999.9 1247.6 L1016.8 1232.0 L1025.9 1219.0 L1041.5 1220.3 L1046.7 1211.2 L1025.9 1196.9 L1015.5 1180.0 L1013.4 1176.9 L992.6 1165.2 L977.0 1169.1 L964.0 1150.8 L953.5 1140.4 L950.9 1135.2 L961.4 1126.1 L984.8 1118.3 L1000.4 1104.0 L1010.8 1088.3 L999.1 1074.0 L1008.2 1066.2 L1031.7 1063.6 L1047.3 1054.5 L1057.7 1050.6 L1083.8 1050.6 L1102.0 1050.6 L1115.0 1042.8 L1121.0 1041.2M1136.2 1043.5 L1145.6 1046.7 L1158.6 1054.5 L1169.1 1067.5 L1176.9 1077.9 L1179.5 1088.3 L1171.7 1101.4 L1165.2 1118.3 L1186.0 1133.9 L1200.3 1131.3 L1208.1 1133.9 L1223.8 1146.9 L1239.4 1148.2 L1255.0 1139.1 L1270.6 1136.5 L1266.7 1119.6 L1275.8 1115.7 L1286.2 1114.4 L1289.5 1114.7M1315.2 1121.2 L1324.0 1126.1 L1338.3 1133.9 L1351.4 1140.4 L1364.4 1146.9 L1376.1 1153.4 L1393.0 1158.6 L1406.0 1169.1 L1403.4 1176.9 L1402.1 1192.5 L1403.4 1206.8 L1401.8 1195.6 L1397.9 1216.4 L1390.1 1237.2 L1384.9 1255.4 L1377.1 1267.1 L1358.9 1258.0 L1358.9 1242.4 L1332.9 1226.8 L1329.9 1225.3M1303.5 1212.5 L1297.8 1209.9 L1286.0 1202.9 L1270.4 1212.5 L1254.8 1216.4 L1249.6 1226.8 L1244.4 1245.0 L1230.1 1258.0 L1226.2 1289.2 L1208.0 1297.0 L1192.4 1307.4 L1176.8 1308.7 L1161.2 1317.8 L1165.1 1329.5 L1156.0 1341.2 L1143.0 1367.3" stroke-width="2.15"/>
<path d="M103.1 1152.1 L118.2 1156.0 L133.9 1163.9 L149.5 1154.7 L163.8 1146.9 L179.4 1145.1 L195.1 1153.4 L210.7 1161.2 L226.3 1154.7 L227.6 1166.5 L225.0 1182.1 L230.2 1196.4 L241.9 1202.9 L256.2 1200.3 L271.9 1210.7 L287.5 1213.3 L317.4 1213.9 L333.1 1212.0 L348.7 1215.9 L364.3 1221.1 L379.9 1218.5 L395.6 1213.9 L409.9 1222.4 L425.5 1224.3 L441.1 1218.5 L456.8 1217.2 L471.1 1213.3 L486.7 1217.2 L502.3 1213.3 L518.0 1221.1 L528.4 1219.8 L534.6 1219.8M562.5 1219.8 L568.8 1219.8 L579.2 1218.0 L594.8 1240.7 L615.1 1238.9 L625.4 1235.1 L638.4 1242.4 L642.3 1256.7 L633.2 1272.3 L648.8 1284.0 L670.9 1296.5 L685.2 1294.4 L700.8 1286.1 L716.4 1291.3 L732.0 1290.5 L747.6 1282.0 L763.2 1286.1 L773.6 1289.2 L781.4 1299.6 L785.4 1304.8 L781.4 1320.4M766.4 1338.6 L759.3 1346.4 L751.5 1367.3" stroke-width="2.15"/>
<path d="M496.7 796.3 L502.1 789.0 L514.8 785.4 L532.8 784.5 L550.9 783.6 L569.0 782.7 L576.2 794.4 L587.0 799.9 L596.1 802.6 L605.1 799.9 L615.9 792.6 L615.3 792.7 L630.5 786.6 L640.5 782.8 L644.3 766.8 L651.9 759.1 L658.8 755.3 L664.7 753.8M691.6 747.5 L697.8 746.2 L716.1 743.1 L732.9 744.6 L746.6 740.8 L761.9 740.8 L778.7 742.3 L790.9 746.9 L803.1 754.6 L829.1 754.6 L856.6 756.8 L867.3 753.0 L882.6 742.3 L900.0 733.2 L901.4 733.2 L915.1 735.5 L930.4 740.8 L941.1 746.9 L945.7 751.5 L947.2 762.2 L941.1 774.4 L933.5 786.6 L927.3 797.3 L925.1 808.0 L928.6 813.1M959.4 806.3 L962.5 805.7 L970.1 808.0 L974.7 815.7 L977.8 835.5 L981.6 843.1 L971.6 853.8 L962.5 859.9 L953.5 880.0 L961.4 890.4 L971.8 902.1 L979.6 911.2 L992.6 913.9 L1000.4 906.0 L1010.8 900.8 L1025.2 903.4 L1031.7 921.7 L1044.7 934.7 L1057.7 950.3 L1072.0 960.7 L1077.2 979.0 L1078.5 994.6 L1068.1 1007.6 L1052.5 1014.1 L1031.7 1015.4 L1018.6 1011.5 L1005.6 1019.3 L992.6 1023.2 L979.6 1028.4 L971.8 1024.5 L964.0 1010.2 L940.5 1007.6 L932.7 1003.7 L923.6 1015.4 L917.1 1029.7 L909.3 1019.3 L900.2 1015.4 L894.9 1012.8 L885.8 999.3 L870.2 1002.4 L854.6 1004.5 L839.0 1001.9 L820.7 1012.8 L807.7 1027.1 L793.4 1042.8 L777.8 1029.7 L763.4 1032.3 L747.8 1030.5 L732.2 1036.2 L719.2 1042.8 L700.9 1049.3 L685.3 1050.6 L669.7 1048.0 L658.0 1033.6 L651.5 1015.4 L647.6 994.6 L633.2 979.0 L621.3 960.6 L619.5 942.5 L617.7 924.5 L614.1 910.0 L605.1 895.6 L596.1 884.7 L585.2 873.9 L578.0 863.1 L569.0 852.2 L558.1 843.2 L547.3 837.8 L534.7 844.1 L531.0 839.6 L525.6 825.2 L514.8 816.1 L505.8 807.1 L496.7 796.3" stroke-width="2.15"/>
<path d="M732.2 792.8 L747.8 796.7 L756.9 808.4 L768.6 821.4 L779.1 829.2 L780.4 840.9 L776.5 851.4 L769.9 864.4 L766.9 864.8M728.5 866.2 L721.8 865.7 L716.6 867.0 L706.1 857.9 L712.7 846.1 L717.9 835.7 L719.2 825.3 L712.7 813.6 L719.2 803.2 L725.7 795.4 L732.2 792.8" stroke-width="2.15"/>
<path d="M1219.7 1367.3 L1218.4 1350.4 L1239.2 1338.6 L1244.4 1334.3M1265.2 1317.0 L1270.4 1312.6 L1276.9 1289.2 L1280.8 1265.8 L1288.6 1245.0 L1301.7 1234.6 L1316.0 1232.0 L1323.8 1242.4 L1332.9 1258.0 L1345.9 1271.0 L1349.8 1284.0 L1338.1 1299.6 L1317.3 1317.8 L1330.3 1332.1 L1345.9 1321.7 L1364.1 1330.8 L1377.1 1333.4 L1392.7 1323.0 L1408.3 1333.4 L1423.9 1342.5 L1455.1 1343.8 L1461.6 1351.7 L1459.0 1367.3" stroke-width="2.15"/>
<path d="M102.3 652.7 L117.6 647.3 L122.6 651.5M132.6 671.8 L132.1 675.6 L127.5 687.8 L118.3 697.7 L102.3 695.4" stroke-width="2.15"/>
<path d="M1130.1 1004.5 L1096.8 1011.5 L1105.9 1020.6 L1109.8 1029.7 L1116.6 1031.2" stroke-width="2.15"/>
<path d="M1205.5 1053.2 L1223.8 1046.7 L1242.0 1041.5 L1244.6 1057.1 L1239.4 1077.9 L1232.9 1088.3 L1223.8 1096.1 L1208.1 1092.2 L1207.3 1089.0M1204.7 1059.7 L1205.5 1053.2" stroke-width="2.15"/>
<path d="M855.6 1217.7 L863.4 1226.8 L860.8 1242.4 L850.4 1256.7 L855.6 1267.1 L868.6 1274.9 L876.4 1281.4 L884.2 1290.5 L881.6 1307.4 L876.4 1317.8 L864.7 1325.6 L854.3 1333.4 L860.8 1349.1 L868.6 1367.3 L804.9 1367.3 L806.2 1349.1 L815.3 1338.6 L825.7 1332.1 L832.2 1329.5M849.1 1325.6 L856.9 1306.1 L867.3 1287.9 L855.6 1276.7 L840.0 1286.1 L833.5 1276.2 L832.2 1256.7 L838.7 1241.1 L855.6 1217.7" stroke-width="2.15"/>
<path d="M378.4 878.4 L392.0 884.7 L410.0 885.7 L419.1 892.0 L424.5 901.0 L437.1 902.8 L457.0 899.2 L464.2 904.6 L457.0 913.6 L449.8 920.9 L438.9 923.6 L426.3 920.0 L420.3 918.2M396.2 910.2 L390.2 908.2 L378.4 902.8 L376.6 892.0 L378.4 878.4" stroke-width="2.15"/>
<path d="M808.8 1183.9 L824.4 1183.9 L828.3 1200.8 L834.8 1228.1 L831.2 1229.1M805.3 1232.0 L802.3 1232.0 L802.3 1208.6 L808.8 1183.9" stroke-width="2.15"/>
<path d="M1035.4 777.7 L1047.3 774.0 L1054.7 776.7 L1062.9 781.3 L1065.4 783.2M1073.0 788.7 L1085.8 789.6 L1093.2 796.5 L1085.8 799.7 L1076.2 801.7M1051.7 786.6 L1049.2 785.0 L1043.7 782.7 L1035.4 777.7" stroke-width="2.15"/>
<path d="M456.5 1380.0 L456.5 1350.0 L472.2 1339.0 L485.0 1342.0 L500.0 1348.0 L513.6 1353.5 L532.0 1358.7 L553.0 1364.0" stroke-width="2.15"/>
<path d="M440.6 1355.8 L454.5 1350.0" stroke-width="2.15"/>
<path d="M128.2 602.3 L133.6 605.3 L148.1 596.9" stroke-width="2.15"/>
<path d="M119.8 618.8 L133.6 617.9 L147.3 627.9 L136.6 635.9" stroke-width="2.15"/>
<path d="M177.9 611.5 L183.2 613.0 L183.2 643.5 L179.4 650.4 L161.1 644.3" stroke-width="2.15"/>
<path d="M116.0 658.0 L119.8 658.0 L118.0 664.1 L116.0 658.0" stroke-width="2.15"/>
<path d="M147.3 663.7 L150.4 664.1 L152.7 658.8" stroke-width="2.15"/>
<path d="M103.8 709.2 L118.3 719.9M153.5 738.2 L155.0 741.2 L159.6 750.4 L150.4 755.0 L147.3 764.2 L141.2 771.8 L133.6 779.4" stroke-width="2.15"/>
<path d="M106.9 735.1 L116.8 741.2 L124.4 750.4 L125.5 754.0M130.5 770.3 L134.4 773.3 L139.7 767.2 L141.2 759.6" stroke-width="2.15"/>
<path d="M131.3 765.7 L133.6 756.5 L135.9 765.7 L133.6 768.0 L131.3 765.7" stroke-width="2.15"/>
<path d="M151.9 781.7 L167.2 765.7 L179.4 758.8 L184.8 767.2 L185.5 783.2" stroke-width="2.15"/>
<path d="M151.9 781.7 L155.8 806.9 L164.9 820.7 L167.2 816.8" stroke-width="2.15"/>
<path d="M151.9 843.6 L164.2 838.2 L171.8 843.6M185.5 850.1 L194.7 852.0 L197.0 858.9 L188.6 861.9" stroke-width="2.15"/>
<path d="M190.9 812.3 L195.5 805.4 L200.8 812.3 L195.5 818.4 L190.9 812.3" stroke-width="2.15"/>
<path d="M203.9 734.4 L211.5 735.9" stroke-width="2.15"/>
<path d="M345.5 776.0 L349.0 776.4 L351.3 781.0" stroke-width="2.15"/>
<path d="M268.8 904.7 L272.6 900.1 L276.4 904.7 L272.6 909.3 L268.8 904.7" stroke-width="2.15"/>
<path d="M328.3 842.0 L335.2 841.3 L332.9 857.3 L328.3 842.0" stroke-width="2.15"/>
<path d="M359.7 897.0 L363.5 903.1 L365.8 898.6" stroke-width="2.15"/>
<path d="M102.3 706.1 L109.2 716.8 L106.1 729.0 L102.3 726.0" stroke-width="2.15"/>
<path d="M899.5 950.3 L902.0 947.3 L904.5 950.3 L902.0 953.3 L899.5 950.3" stroke-width="2.15"/>
<path d="M942.5 1150.3 L947.0 1143.8 L951.5 1150.3 L947.0 1156.8 L942.5 1150.3" stroke-width="2.15"/>
<path d="M899.0 1211.3 L902.0 1206.8 L905.0 1211.3 L902.0 1215.8 L899.0 1211.3" stroke-width="2.15"/>
<path d="M988.9 827.6 L993.4 821.1 L997.9 827.6 L993.4 834.1 L988.9 827.6" stroke-width="2.15"/>
<path d="M1433.0 1226.4 L1439.0 1221.4 L1445.0 1226.4 L1439.0 1231.4 L1433.0 1226.4" stroke-width="2.15"/>
<path d="M1079.6 904.2 L1085.6 902.2 L1091.6 904.2 L1085.6 906.2 L1079.6 904.2" stroke-width="2.15"/>
<path d="M1080.6 1040.0 L1085.6 1035.0 L1090.6 1040.0 L1085.6 1045.0 L1080.6 1040.0" stroke-width="2.15"/>
<path d="M943.2 845.0 L945.2 841.8M949.2 841.8 L951.2 845.0 L947.2 851.5 L943.2 845.0" stroke-width="2.15"/>
<path d="M148.5 199.0 L149.5 198.0 L150.5 199.0 L149.5 200.0 L148.5 199.0" stroke-width="2.15"/>
<path d="M163.5 382.6 L165.0 381.1 L166.5 382.6 L165.0 384.1 L163.5 382.6" stroke-width="2.15"/>
<path d="M1375.4 535.7 L1377.4 533.7 L1379.4 535.7 L1377.4 537.7 L1375.4 535.7" stroke-width="2.15"/>
<path d="M876.2 965.8 L878.0 963.3 L885.8 957.6 L896.2 964.6 L891.6 969.8" stroke-width="2.15"/>
<path d="M914.5 1196.4 L922.3 1201.6 L932.7 1203.4 L944.4 1192.5 L948.3 1179.5" stroke-width="2.15"/>
<path d="M914.5 1210.7 L927.5 1208.6 L935.8 1213.3" stroke-width="2.15"/>
<path d="M1419.9 1182.8 L1427.5 1180.5 L1438.2 1169.9 L1453.5 1172.9 L1459.6 1182.1 L1458.4 1185.9" stroke-width="2.15"/>
<path d="M1427.5 1180.5 L1432.1 1188.9" stroke-width="2.15"/>
<path d="M1457.3 1208.8 L1458.4 1202.3M1462.6 1194.5 L1468.7 1192.0 L1485.5 1191.2 L1489.4 1197.3" stroke-width="2.15"/>
<path d="M1432.8 1279.8 L1434.4 1289.0 L1438.9 1293.6 L1441.2 1291.3" stroke-width="2.15"/>
<path d="M1304.3 1196.9 L1317.3 1204.7 L1330.3 1206.0 L1334.2 1195.6" stroke-width="2.15"/>
<path d="M1323.8 1342.5 L1330.3 1346.4 L1332.9 1366.0" stroke-width="2.15"/>
<path d="M1219.7 1350.4 L1239.2 1338.6" stroke-width="2.15"/>
<path d="M1335.7 1150.8 L1346.1 1145.6 L1355.3 1146.9 L1356.6 1153.4 L1350.1 1163.9 L1338.3 1166.5" stroke-width="2.15"/>
<path d="M820.0 1303.5 L825.0 1297.5 L830.0 1303.5 L825.0 1309.5 L820.0 1303.5" stroke-width="2.15"/>
<path d="M796.8 305.8 L783.0 318.1 L779.9 325.7 L763.0 325.7 L749.2 333.4 L741.6 345.7 L729.3 353.3 L720.1 361.0 L704.7 367.2 L694.0 376.4 L689.4 382.5 L681.7 394.8 L674.0 410.1 L672.5 422.4 L674.0 434.7 L677.1 446.9 L684.8 465.4 L698.6 486.8 L700.1 493.0 L698.6 502.2 L706.3 523.7 L715.5 539.0 L715.5 557.4 L713.0 572.8 L706.3 586.6 L700.1 591.2 L683.2 593.6 L681.7 583.5 L673.3 570.0 L664.4 565.6 L660.0 554.4 L657.8 547.8 L652.2 552.2 L653.3 537.8 L646.7 538.9 L640.0 530.0 L634.4 521.1 L637.8 518.9 L642.2 510.0 L637.8 514.5 L631.1 510.0 L633.3 503.3 L635.6 487.8 L634.4 474.4 L626.7 465.5 L615.6 454.4 L604.5 444.5 L593.3 440.0 L584.4 442.2 L582.2 445.6 L571.1 450.0 L564.5 453.3 L555.5 452.2 L551.1 448.9 L546.7 443.3 L544.4 436.7 L537.8 435.6 L528.9 431.1 L517.8 430.0 L502.2 432.2 L500.0 427.8 L495.6 431.1 L484.4 433.3 L473.3 432.2 L470.0 423.3 L466.7 432.2 L451.1 431.1 L440.0 432.2 L431.1 435.6 L424.5 438.9 L417.8 443.3 L422.2 445.6 L428.9 444.5 L430.0 450.0 L424.5 454.4 L420.0 461.1 L427.8 467.8 L428.9 474.4 L433.3 473.3 L440.0 468.9 L435.5 465.5 L424.5 466.7 L415.6 462.2 L405.5 458.9 L407.8 463.3 L405.5 470.0 L400.0 466.7 L393.3 465.5 L384.5 470.0 L373.3 465.5 L371.1 460.0 L360.0 457.8 L355.6 452.2 L348.9 450.0 L344.5 454.4 L328.9 455.6 L320.0 453.3 L306.7 450.4 L293.3 451.1 L292.2 444.5 L291.1 451.1 L280.0 453.3 L271.1 456.7 L265.6 457.8 L263.3 452.2 L257.8 453.3 L262.2 461.1 L253.3 470.0 L240.0 480.0 L219.7 491.4 L207.4 496.0 L195.1 506.8 L187.4 517.5 L182.8 529.8 L182.8 545.1 L187.4 557.4 L190.5 568.2 L182.8 585.0 L175.1 606.5 L172.1 628.0 L170.5 652.6 L170.5 677.1 L173.6 692.4 L184.4 707.8 L189.0 729.3 L204.3 750.8 L215.1 769.2 L222.7 776.8 L231.9 787.6 L250.4 790.6 L262.6 796.8 L273.4 807.5 L287.2 806.0 L302.6 799.9 L321.0 798.3 L336.3 792.2 L353.2 793.7 L370.1 784.5 L382.4 772.2 L391.6 755.4 L396.2 735.4 L399.3 720.1 L416.1 712.4 L440.7 707.8 L465.3 701.6 L486.8 704.7 L500.6 701.6 L508.2 713.9 L503.6 727.7 L489.8 741.5 L486.8 753.8 L488.3 766.1 L479.1 772.2 L483.7 787.6 L477.5 802.9 L468.3 798.3 L468.3 809.1 L462.2 824.4 L463.7 842.8 L454.5 864.3 L443.8 876.6 L453.0 882.7 L466.8 882.7 L474.5 878.1 L486.8 879.6 L505.2 881.2 L522.1 879.6 L532.8 873.5 L548.1 876.6 L566.6 875.0 L585.0 879.6 L601.9 891.9 L614.2 896.5 L620.3 904.2 L612.6 925.7 L609.5 950.2 L606.5 971.7 L603.4 987.0 L604.9 1008.5 L598.8 1020.8 L604.9 1030.0 L615.7 1048.4 L624.9 1057.6 L637.2 1069.9 L647.9 1077.6 L649.5 1088.3 L661.7 1089.8 L671.0 1094.5 L686.3 1092.9 L698.6 1086.8 L717.0 1079.1 L729.3 1069.9 L747.7 1071.4 L763.0 1076.0 L778.4 1080.6 L793.8 1096.0 L799.9 1103.7 L812.2 1119.0 L816.8 1106.7 L812.2 1100.6 L827.5 1089.8 L836.7 1077.6 L850.5 1073.0 L852.1 1057.6 L855.1 1045.3 L862.8 1036.1 L875.1 1025.4 L892.0 1026.9 L895.1 1017.7 L913.5 1017.7 L931.9 1011.6 L947.3 1002.4 L959.5 990.1 L973.3 982.4 L984.1 987.0 L990.2 994.7 L982.6 1003.9 L964.1 1010.1 L971.8 1023.9 L974.9 1036.1 L962.6 1054.6 L965.7 1073.0 L974.9 1086.8 L990.2 1079.1 L993.3 1063.8 L984.1 1042.3 L977.9 1028.5 L987.2 1026.9 L1005.6 1020.8 L1017.9 1013.1 L1017.9 1005.5 L1014.8 993.2 L1027.1 990.1 L1031.7 1005.5 L1036.3 1013.1 L1054.7 1013.1 L1070.0 1022.3 L1077.7 1033.1 L1085.4 1042.3 L1103.8 1040.7 L1119.2 1039.2 L1140.7 1039.2 L1145.3 1043.8 L1159.1 1051.5 L1174.4 1054.6 L1186.7 1053.0 L1199.0 1045.3 L1214.3 1043.8 L1200.5 1037.7 L1223.5 1037.7 L1245.0 1035.2 L1272.7 1035.5 L1257.3 1040.7 L1238.9 1043.8 L1251.2 1051.5 L1260.4 1059.2 L1275.7 1062.2 L1294.2 1071.4 L1303.4 1079.1 L1306.4 1091.4 L1321.8 1100.6 L1334.1 1106.7 L1352.5 1115.9 L1367.8 1131.3 L1377.0 1143.5 L1380.1 1152.8 L1389.3 1155.8 L1407.8 1171.2 L1418.5 1181.9 L1438.5 1181.9 L1456.9 1185.0 L1478.4 1181.9 L1499.9 1183.4 L1515.2 1186.5 L1530.6 1194.2 L1549.0 1198.8 L1567.4 1212.6 L1579.7 1223.3 L1587.3 1235.6 L1592.0 1229.5 L1601.2 1241.8 L1607.3 1263.2 L1616.5 1290.8 L1622.7 1306.2 L1638.0 1312.3 L1644.1 1327.7 L1638.0 1340.0 L1625.7 1349.2 L1613.4 1361.4 L1601.2 1370.6" stroke-width="2.05"/>
<path d="M93.8 842.8 L106.1 848.0 L127.6 853.6 L149.1 862.8 L170.5 873.5 L192.0 878.1 L210.5 884.2 L225.8 881.2 L244.2 873.5 L253.4 868.0 L268.8 867.4 L284.1 872.0 L293.3 876.6 L311.8 890.4 L327.1 905.7 L340.9 918.0 L357.8 933.3 L373.2 937.3 L391.6 937.9 L406.9 942.5 L416.1 948.7 L431.5 951.8 L446.8 958.8 L462.2 960.3 L474.5 960.3 L479.1 953.3 L488.3 956.4 L489.8 967.1 L497.5 980.9 L511.3 994.7 L523.6 1008.5 L537.4 1022.3 L542.0 1028.5 L537.4 1045.3 L542.0 1059.2 L554.3 1063.8 L560.4 1071.4 L566.6 1062.2 L560.4 1053.0 L571.2 1058.5 L574.2 1069.9 L588.1 1074.5 L603.4 1086.8 L606.5 1097.5 L603.4 1105.2 L615.7 1106.7 L620.3 1100.6 L626.4 1111.3 L628.6 1117.5 L640.2 1110.4 L655.6 1112.9 L667.9 1115.9 L680.2 1129.7 L689.4 1142.9 L704.7 1142.0 L717.0 1134.3 L704.7 1119.0 L707.8 1109.8 L721.6 1096.0 L732.3 1089.8 L747.7 1089.8 L763.0 1103.7 L772.3 1108.3 L766.1 1119.0 L772.3 1132.8 L781.5 1143.5 L792.2 1160.4 L798.4 1177.3 L795.3 1194.2 L799.9 1214.1 L798.4 1238.7 L806.0 1244.8 L793.8 1263.2 L784.5 1281.6 L766.1 1286.2 L755.4 1307.7 L750.8 1323.1 L738.5 1332.3 L726.2 1334.4 L715.5 1340.0 L715.5 1355.3 L707.8 1370.6" stroke-width="2.05"/>
<path d="M565.0 693.4 L580.4 683.2 L594.2 669.4 L615.7 659.3 L643.3 654.1 L667.9 657.2 L680.2 652.6 L698.6 657.2 L717.0 660.8 L729.3 666.4 L738.5 677.1 L756.9 677.7 L775.3 681.7 L787.6 694.0 L806.0 700.1 L818.3 710.9 L836.7 713.9 L849.0 717.0 L853.6 727.7 L873.6 729.9 L888.9 741.5 L897.2 744.6 L892.0 749.2 L864.4 753.8 L842.9 751.7 L812.2 753.8 L786.7 756.0 L796.8 744.6 L806.0 736.9 L803.0 730.8 L781.5 729.3 L769.2 721.6 L760.0 707.8 L755.4 701.6 L735.4 700.1 L717.0 697.0 L703.2 687.8 L680.2 686.3 L664.8 683.2 L652.5 677.1 L658.7 669.4 L634.1 668.5 L615.7 681.7 L597.3 687.8 L581.9 697.0 L565.0 693.4" stroke-width="2.05"/>
<path d="M620.3 701.6 L626.4 692.4 L637.2 694.0 L638.7 701.6 L629.5 706.3 L620.3 701.6" stroke-width="2.05"/>
<path d="M767.0 802.9 L778.4 797.4 L799.9 797.7 L815.2 802.9 L832.1 807.5 L833.7 815.2 L818.3 816.1 L804.5 820.7 L790.7 816.1 L778.4 810.6 L767.0 802.9" stroke-width="2.05"/>
<path d="M919.6 755.4 L938.0 752.3 L956.5 758.4 L971.8 753.8 L990.2 753.8 L1005.6 756.9 L1024.0 760.6 L1028.6 770.7 L1047.0 771.6 L1036.3 778.4 L1054.7 781.4 L1063.9 783.0 L1075.3 793.7 L1065.4 806.0 L1051.6 799.2 L1027.1 798.3 L1017.9 804.5 L1005.6 802.9 L991.8 804.5 L981.0 823.8 L970.3 812.1 L959.5 805.4 L938.0 807.5 L919.6 805.4 L904.3 811.2 L887.4 801.4 L895.1 792.2 L913.5 795.2 L938.0 798.9 L951.9 795.2 L938.0 781.4 L941.1 767.6 L930.4 763.0 L919.6 755.4" stroke-width="2.05"/>
<path d="M1108.4 798.3 L1128.4 796.8 L1146.8 797.7 L1158.5 802.9 L1152.9 811.5 L1134.5 813.7 L1111.5 813.7 L1108.4 798.3" stroke-width="2.05"/>
<path d="M1272.7 1035.5 L1288.0 1033.1 L1303.4 1031.5 L1300.3 1053.0 L1272.7 1056.1 L1286.5 1048.4 L1285.0 1038.6 L1272.7 1035.5" stroke-width="2.05"/>
<path d="M772.3 591.2 L781.5 592.7 L787.6 609.6 L792.2 624.9 L784.5 635.7 L775.3 624.9 L766.1 609.6 L772.3 591.2" stroke-width="2.05"/>
<path d="M747.7 545.1 L763.0 543.6 L779.9 545.1 L769.2 549.7 L756.9 551.3 L747.7 545.1" stroke-width="2.05"/>
<path d="M781.5 539.0 L799.9 539.0 L809.1 552.8 L806.0 566.6 L798.4 569.7 L803.0 557.4 L799.9 548.2" stroke-width="2.05"/>
<path d="M816.8 580.4 L830.6 586.6 L835.2 597.3 L833.7 606.5" stroke-width="2.05"/>
<path d="M861.3 638.7 L869.0 652.6 L875.1 661.8" stroke-width="2.05"/>
<path d="M847.5 608.1 L858.2 621.9 L856.7 623.4" stroke-width="2.05"/>
<path d="M827.5 618.8 L839.8 632.6 L849.0 641.8" stroke-width="2.05"/>
<path d="M911.9 717.0 L925.8 713.9 L931.9 718.5 L922.7 722.2 L911.9 717.0" stroke-width="2.05"/>
<path d="M890.5 664.8 L901.2 667.9 L905.8 680.2 L895.1 683.2" stroke-width="2.05"/>
<path d="M927.3 677.1 L939.6 678.6" stroke-width="2.05"/>
<path d="M956.5 694.0 L974.9 695.5" stroke-width="2.05"/>
<path d="M1195.9 1026.9 L1208.2 1022.3 L1214.3 1026.9 L1205.1 1030.0 L1195.9 1026.9" stroke-width="2.05"/>
<path d="M397.8 437.8 L402.2 432.2 L411.1 433.3 L420.0 437.8 L415.6 442.2 L404.4 443.3 L397.8 437.8" stroke-width="2.05"/>
<path d="M444.4 442.2 L446.7 447.8 L443.3 453.3" stroke-width="2.05"/>
<path d="M450.0 436.7 L454.4 437.1" stroke-width="2.05"/>
<path d="M462.2 436.7 L480.0 435.6" stroke-width="2.05"/>
<path d="M900.3 136.2 L897.5 143.9 L891.9 150.8 L885.0 157.8 L878.1 164.7 L872.5 168.9 L871.1 163.3 L866.9 160.6 L861.4 157.8 L857.2 153.6 L853.1 148.1 L855.8 142.5 L862.8 139.0 L868.3 137.6" stroke-width="2.05"/>
<path d="M853.1 148.1 L857.2 157.8 L862.8 167.5 L866.9 174.4 L869.7 181.4 L868.3 186.9 L862.8 195.3 L857.2 203.6 L850.3 211.9 L844.7 218.9 L841.9 223.1 L840.6 218.9 L843.3 211.9 L848.9 205.0 L850.3 199.4 L844.7 196.7 L846.1 191.1 L841.9 188.3 L837.8 184.2 L835.0 180.0 L832.2 175.8 L833.6 170.3 L830.8 166.1 L833.6 161.9 L832.2 156.4 L837.8 152.2 L843.3 150.8 L841.9 155.0" stroke-width="2.05"/>
<path d="M841.9 150.8 L832.2 155.0 L825.3 160.6 L823.9 168.9 L826.7 175.8 L825.3 182.8 L821.1 180.0 L819.7 185.6 L826.7 191.1 L829.4 195.3 L825.3 196.7 L818.3 189.7 L807.2 178.6 L808.6 171.7 L804.4 175.8 L800.3 182.8 L805.8 186.9 L815.6 193.9 L822.5 199.4 L829.4 203.6 L826.7 207.8 L819.7 214.7 L815.6 213.3 L821.1 218.9 L825.3 220.3 L828.1 224.4 L819.7 223.1 L808.6 218.9 L800.3 217.5 L808.6 221.7 L818.3 225.8 L825.3 230.0 L833.6 230.0 L840.6 232.8 L843.3 239.7 L847.5 248.1 L851.7 257.8 L855.8 266.1 L857.2 274.4 L854.4 281.4" stroke-width="2.05"/>
<path d="M850.3 283.1 L846.8 284.2" stroke-width="2.05"/>
<path d="M844.0 285.3 L840.6 286.7" stroke-width="2.05"/>
<path d="M833.6 292.5 L826.7 299.4 L822.5 301.5 L819.7 298.8 L826.7 295.3 L829.4 291.1 L815.6 298.1 L805.8 299.4 L797.5 303.6 L796.1 300.1 L797.5 305.0 L796.8 305.7" stroke-width="2.05"/>
<path d="M841.2 239.7 L837.8 245.3 L833.6 250.8 L826.7 255.0 L818.3 252.2 L816.9 257.8 L821.1 260.6 L832.2 259.2 L837.8 260.6 L839.2 267.5 L843.3 261.9 L847.5 263.3 L846.1 270.3 L840.6 275.8 L835.0 278.6 L828.1 277.2 L821.1 274.4 L808.6 274.4 L812.8 278.6 L821.1 279.3 L823.9 282.8 L819.7 288.3 L812.8 289.7 L807.2 285.6 L812.8 291.1 L821.1 291.1 L829.4 291.1" stroke-width="2.05"/>
<path d="M1182.0 373.0 L1187.0 370.5" stroke-width="2.05"/>
<path d="M704.7 593.6 L697.0 600.4 L686.3 605.9 L674.0 608.7 L661.7 611.1" stroke-width="2.4" stroke-dasharray="5 4"/>
<ellipse cx="1283.4" cy="865.8" rx="7.7" ry="6.1" stroke-width="2"/>
<ellipse cx="1289.6" cy="891.3" rx="3.1" ry="6.1" stroke-width="2"/>
<ellipse cx="1300.3" cy="914.9" rx="4.0" ry="6.1" stroke-width="2"/>
<ellipse cx="1301.2" cy="937.9" rx="2.5" ry="4.6" stroke-width="2"/>
<ellipse cx="1294.2" cy="957.9" rx="2.1" ry="3.7" stroke-width="2"/>
<ellipse cx="1344.8" cy="960.3" rx="3.1" ry="4.0" stroke-width="2"/>
<ellipse cx="1279.4" cy="993.2" rx="2.5" ry="3.7" stroke-width="2"/>
<ellipse cx="1309.5" cy="1019.3" rx="4.6" ry="1.8" stroke-width="2"/>
<ellipse cx="1054.7" cy="990.1" rx="5.2" ry="2.1" stroke-width="2"/>
<ellipse cx="1024.0" cy="980.9" rx="3.1" ry="1.8" stroke-width="2"/>
<ellipse cx="1076.2" cy="991.6" rx="2.5" ry="3.7" stroke-width="2"/>
<ellipse cx="1275.7" cy="840.7" rx="3.1" ry="2.5" stroke-width="2"/>
<ellipse cx="1246.6" cy="833.6" rx="3.1" ry="1.8" stroke-width="2"/>
<ellipse cx="1185.2" cy="820.4" rx="4.6" ry="1.2" stroke-width="2"/>
<ellipse cx="1180.6" cy="802.0" rx="3.7" ry="1.2" stroke-width="2"/>
<ellipse cx="1237.4" cy="810.6" rx="2.1" ry="1.5" stroke-width="2"/>
<ellipse cx="1277.3" cy="824.4" rx="1.8" ry="1.8" stroke-width="2"/>
<ellipse cx="678.6" cy="771.6" rx="4.6" ry="1.2" stroke-width="2"/>
<ellipse cx="1263.5" cy="851.4" rx="1.5" ry="1.8" stroke-width="2"/>
<path d="M190.5 568.2 L158.3 563.6 L130.6 552.8 L118.3 526.7 L93.8 496.0" stroke-width="0.9"/>
<path d="M340.9 918.0 L344.0 901.1 L356.3 872.0 L396.2 871.4 L396.2 861.2 L365.5 835.1 L379.3 835.1 L379.3 817.6 L436.1 817.6 L436.1 876.6 L443.8 876.6" stroke-width="0.9"/>
<path d="M436.1 817.6 L462.2 796.8 L468.3 798.3" stroke-width="0.9"/>
<path d="M436.1 876.6 L430.0 921.1 L406.9 942.5" stroke-width="0.9"/>
<path d="M430.0 921.1 L456.1 935.5 L479.1 953.3" stroke-width="0.9"/>
<path d="M453.0 882.7 L436.1 901.1 L430.0 921.1" stroke-width="0.9"/>
<path d="M489.8 967.1 L511.3 956.4 L529.7 936.4 L563.5 916.5 L620.3 904.2" stroke-width="0.9"/>
<path d="M542.0 1025.4 L572.7 1025.4 L604.9 1030.0" stroke-width="0.9"/>
<path d="M628.0 1117.5 L629.5 1088.3 L637.2 1069.9" stroke-width="0.9"/>
<path d="M798.4 1099.1 L803.0 1120.5 L781.5 1143.5" stroke-width="0.9"/>
<path d="M964.1 1010.1 L947.3 1023.9 L931.9 1066.8 L950.3 1106.7 L953.4 1137.4 L1020.9 1151.2 L1042.4 1177.3 L1100.8 1172.7 L1091.5 1201.9 L1091.5 1235.6 L1106.9 1260.2 L1091.5 1278.6 L1116.1 1327.7 L1119.2 1327.7" stroke-width="0.9"/>
<path d="M1116.1 1327.7 L1030.1 1312.3 L1051.6 1346.1 L1022.5 1347.6 L1022.5 1370.6" stroke-width="0.9"/>
<path d="M750.8 1323.1 L787.6 1340.0 L830.6 1352.2 L861.3 1367.6" stroke-width="0.9"/>
<path d="M1331.0 1103.7 L1309.5 1131.3 L1295.7 1158.9 L1288.0 1181.9 L1309.5 1204.9 L1312.6 1214.1 L1300.3 1226.4 L1248.1 1241.8 L1242.0 1254.0 L1202.1 1238.7 L1189.8 1244.8 L1208.2 1287.8 L1226.6 1297.0 L1162.1 1343.0 L1119.2 1327.7" stroke-width="0.9"/>
<path d="M1309.5 1204.9 L1332.5 1209.5 L1344.8 1243.3 L1332.5 1287.8 L1367.8 1327.7 L1413.9 1304.7 L1438.5 1304.7 L1455.3 1287.8 L1496.8 1292.4 L1515.2 1297.0 L1549.0 1297.0 L1587.3 1235.6" stroke-width="0.9"/>
<path d="M1418.5 1181.9 L1413.9 1211.1 L1390.9 1241.8 L1413.9 1263.2 L1413.9 1304.7" stroke-width="0.9"/>
<path d="M1515.2 1186.5 L1501.4 1211.1 L1515.2 1254.0 L1496.8 1292.4" stroke-width="0.9"/>
<path d="M970.3 812.1 L964.1 793.7 L970.3 789.1 L970.3 760.0" stroke-width="0.9"/>
</g>
<g clip-path="url(#cp)">
<text x="471.7" y="190.7" font-size="20.8" textLength="32.7" lengthAdjust="spacingAndGlyphs" transform="rotate(15 488.0 183.4)">-20</text>
<text x="564.2" y="190.7" font-size="20.8" textLength="32.7" lengthAdjust="spacingAndGlyphs" transform="rotate(18 580.5 183.4)">-22</text>
<text x="1014.7" y="219.3" font-size="20.8" textLength="32.7" lengthAdjust="spacingAndGlyphs" transform="rotate(-8 1031.0 212.0)">-24</text>
<text x="1100.0" y="296.2" font-size="20.8" textLength="32.7" lengthAdjust="spacingAndGlyphs" transform="rotate(-15 1116.3 288.9)">-16</text>
<text x="670.3" y="345.1" font-size="20.8" textLength="32.7" lengthAdjust="spacingAndGlyphs" transform="rotate(0 686.6 337.8)">-14</text>
<text x="1007.6" y="370.3" font-size="20.8" textLength="32.7" lengthAdjust="spacingAndGlyphs" transform="rotate(-6 1023.9 363.0)">-12</text>
<text x="885.2" y="410.7" font-size="20.8" textLength="32.7" lengthAdjust="spacingAndGlyphs" transform="rotate(0 901.5 403.4)">-10</text>
<text x="1060.7" y="425.8" font-size="20.8" textLength="19.9" lengthAdjust="spacingAndGlyphs" transform="rotate(-8 1070.7 418.5)">-8</text>
<text x="983.9" y="463.3" font-size="20.8" textLength="19.9" lengthAdjust="spacingAndGlyphs" transform="rotate(-3 993.9 456.0)">-6</text>
<text x="1045.0" y="499.3" font-size="20.8" textLength="19.9" lengthAdjust="spacingAndGlyphs" transform="rotate(0 1055.0 492.0)">-4</text>
<text x="1208.7" y="237.6" font-size="20.8" textLength="32.7" lengthAdjust="spacingAndGlyphs" transform="rotate(-25 1225.0 230.3)">-18</text>
<text x="1523.0" y="606.6" font-size="20.8" textLength="19.9" lengthAdjust="spacingAndGlyphs" transform="rotate(15 1533.0 599.3)">-2</text>
<text x="649.6" y="576.1" font-size="20.8" textLength="12.7" lengthAdjust="spacingAndGlyphs" transform="rotate(0 656.0 568.8)">0</text>
<text x="1008.3" y="667.3" font-size="20.8" textLength="12.7" lengthAdjust="spacingAndGlyphs" transform="rotate(38 1014.7 660.0)">4</text>
<text x="664.6" y="703.7" font-size="20.8" textLength="12.7" lengthAdjust="spacingAndGlyphs" transform="rotate(0 671.0 696.4)">6</text>
<text x="671.9" y="757.1" font-size="20.8" textLength="12.7" lengthAdjust="spacingAndGlyphs" transform="rotate(0 678.3 749.8)">8</text>
<text x="735.1" y="873.0" font-size="20.8" textLength="25.5" lengthAdjust="spacingAndGlyphs" transform="rotate(12 747.8 865.7)">10</text>
<text x="934.3" y="828.7" font-size="20.8" textLength="25.5" lengthAdjust="spacingAndGlyphs" transform="rotate(6 947.0 821.4)">10</text>
<text x="1056.6" y="803.3" font-size="20.8" textLength="12.7" lengthAdjust="spacingAndGlyphs" transform="rotate(25 1063.0 796.0)">4</text>
<text x="128.0" y="588.2" font-size="20.8" textLength="12.7" lengthAdjust="spacingAndGlyphs" transform="rotate(0 134.4 580.9)">8</text>
<text x="108.9" y="606.5" font-size="20.8" textLength="12.7" lengthAdjust="spacingAndGlyphs" transform="rotate(-90 115.3 599.2)">8</text>
<text x="111.9" y="638.6" font-size="20.8" textLength="12.7" lengthAdjust="spacingAndGlyphs" transform="rotate(30 118.3 631.3)">8</text>
<text x="160.0" y="636.3" font-size="20.8" textLength="12.7" lengthAdjust="spacingAndGlyphs" transform="rotate(-20 166.4 629.0)">8</text>
<text x="128.0" y="664.6" font-size="20.8" textLength="12.7" lengthAdjust="spacingAndGlyphs" transform="rotate(0 134.4 657.3)">6</text>
<text x="121.7" y="738.6" font-size="20.8" textLength="25.5" lengthAdjust="spacingAndGlyphs" transform="rotate(40 134.4 731.3)">10</text>
<text x="203.6" y="757.7" font-size="20.8" textLength="12.7" lengthAdjust="spacingAndGlyphs" transform="rotate(-5 210.0 750.4)">8</text>
<text x="111.9" y="773.0" font-size="20.8" textLength="12.7" lengthAdjust="spacingAndGlyphs" transform="rotate(45 118.3 765.7)">8</text>
<text x="162.3" y="805.1" font-size="20.8" textLength="12.7" lengthAdjust="spacingAndGlyphs" transform="rotate(-50 168.7 797.8)">8</text>
<text x="166.9" y="864.6" font-size="20.8" textLength="12.7" lengthAdjust="spacingAndGlyphs" transform="rotate(25 173.3 857.3)">6</text>
<text x="342.6" y="861.6" font-size="20.8" textLength="12.7" lengthAdjust="spacingAndGlyphs" transform="rotate(-10 349.0 854.3)">4</text>
<text x="327.3" y="791.3" font-size="20.8" textLength="12.7" lengthAdjust="spacingAndGlyphs" transform="rotate(0 333.7 784.0)">8</text>
<text x="357.8" y="886.0" font-size="20.8" textLength="12.7" lengthAdjust="spacingAndGlyphs" transform="rotate(0 364.2 878.7)">6</text>
<text x="404.5" y="917.3" font-size="20.8" textLength="12.7" lengthAdjust="spacingAndGlyphs" transform="rotate(-5 410.9 910.0)">4</text>
<text x="542.8" y="1225.8" font-size="20.8" textLength="12.7" lengthAdjust="spacingAndGlyphs" transform="rotate(0 549.2 1218.5)">4</text>
<text x="910.6" y="895.1" font-size="20.8" textLength="12.7" lengthAdjust="spacingAndGlyphs" transform="rotate(0 917.0 887.8)">8</text>
<text x="866.4" y="987.6" font-size="20.8" textLength="12.7" lengthAdjust="spacingAndGlyphs" transform="rotate(40 872.8 980.3)">8</text>
<text x="887.2" y="1037.0" font-size="20.8" textLength="12.7" lengthAdjust="spacingAndGlyphs" transform="rotate(45 893.6 1029.7)">6</text>
<text x="922.4" y="1189.3" font-size="20.8" textLength="12.7" lengthAdjust="spacingAndGlyphs" transform="rotate(-60 928.8 1182.0)">8</text>
<text x="912.0" y="1233.7" font-size="20.8" textLength="12.7" lengthAdjust="spacingAndGlyphs" transform="rotate(-15 918.4 1226.4)">6</text>
<text x="811.6" y="1235.0" font-size="20.8" textLength="12.7" lengthAdjust="spacingAndGlyphs" transform="rotate(-35 818.0 1227.7)">4</text>
<text x="1188.6" y="1022.7" font-size="20.8" textLength="12.7" lengthAdjust="spacingAndGlyphs" transform="rotate(-30 1195.0 1015.4)">8</text>
<text x="1200.4" y="1081.3" font-size="20.8" textLength="12.7" lengthAdjust="spacingAndGlyphs" transform="rotate(180 1206.8 1074.0)">6</text>
<text x="1294.2" y="1130.8" font-size="20.8" textLength="12.7" lengthAdjust="spacingAndGlyphs" transform="rotate(0 1300.6 1123.5)">6</text>
<text x="1309.8" y="1188.1" font-size="20.8" textLength="12.7" lengthAdjust="spacingAndGlyphs" transform="rotate(0 1316.2 1180.8)">4</text>
<text x="1441.3" y="1202.3" font-size="20.8" textLength="12.7" lengthAdjust="spacingAndGlyphs" transform="rotate(-10 1447.7 1195.0)">6</text>
<text x="1467.4" y="1216.7" font-size="20.8" textLength="12.7" lengthAdjust="spacingAndGlyphs" transform="rotate(-15 1473.8 1209.4)">6</text>
<text x="1309.8" y="1225.8" font-size="20.8" textLength="12.7" lengthAdjust="spacingAndGlyphs" transform="rotate(0 1316.2 1218.5)">6</text>
<text x="1309.6" y="1283.5" font-size="20.8" textLength="12.7" lengthAdjust="spacingAndGlyphs" transform="rotate(0 1316.0 1276.2)">8</text>
<text x="1245.8" y="1331.6" font-size="20.8" textLength="12.7" lengthAdjust="spacingAndGlyphs" transform="rotate(-20 1252.2 1324.3)">8</text>
<text x="1300.5" y="1356.3" font-size="20.8" textLength="12.7" lengthAdjust="spacingAndGlyphs" transform="rotate(-30 1306.9 1349.0)">8</text>
<text x="1438.3" y="1279.6" font-size="20.8" textLength="12.7" lengthAdjust="spacingAndGlyphs" transform="rotate(120 1444.7 1272.3)">8</text>
<text x="1585.2" y="1278.3" font-size="20.8" textLength="12.7" lengthAdjust="spacingAndGlyphs" transform="rotate(30 1591.6 1271.0)">6</text>
<text x="797.2" y="1264.0" font-size="20.8" textLength="12.7" lengthAdjust="spacingAndGlyphs" transform="rotate(-30 803.6 1256.7)">4</text>
<text x="832.3" y="1323.8" font-size="20.8" textLength="12.7" lengthAdjust="spacingAndGlyphs" transform="rotate(-30 838.7 1316.5)">6</text>
<text x="773.0" y="1342.0" font-size="20.8" textLength="12.7" lengthAdjust="spacingAndGlyphs" transform="rotate(0 779.4 1334.7)">6</text>
<text x="434.3" y="1346.2" font-size="20.8" textLength="12.7" lengthAdjust="spacingAndGlyphs" transform="rotate(-20 440.7 1338.9)">2</text>
<text x="1125.6" y="1038.3" font-size="20.8" textLength="12.7" lengthAdjust="spacingAndGlyphs" transform="rotate(-10 1132.0 1031.0)">8</text>
</g>
<rect x="103.0" y="137.0" width="1535.0" height="1227.5" fill="none" stroke="#000" stroke-width="2"/>
<text x="42.39" y="1220.26" font-size="26.12" textLength="47.11" lengthAdjust="spacingAndGlyphs">5°N</text>
<text x="26.48" y="1066.83" font-size="26.12" textLength="63.02" lengthAdjust="spacingAndGlyphs">10°N</text>
<text x="26.48" y="913.39" font-size="26.12" textLength="63.02" lengthAdjust="spacingAndGlyphs">15°N</text>
<text x="26.48" y="759.95" font-size="26.12" textLength="63.02" lengthAdjust="spacingAndGlyphs">20°N</text>
<text x="26.48" y="606.51" font-size="26.12" textLength="63.02" lengthAdjust="spacingAndGlyphs">25°N</text>
<text x="26.48" y="453.07" font-size="26.12" textLength="63.02" lengthAdjust="spacingAndGlyphs">30°N</text>
<text x="26.48" y="299.64" font-size="26.12" textLength="63.02" lengthAdjust="spacingAndGlyphs">35°N</text>
<text x="375.48" y="1397.30" font-size="26.12" textLength="69.03" lengthAdjust="spacingAndGlyphs">90°W</text>
<text x="682.48" y="1397.30" font-size="26.12" textLength="69.03" lengthAdjust="spacingAndGlyphs">80°W</text>
<text x="989.48" y="1397.30" font-size="26.12" textLength="69.03" lengthAdjust="spacingAndGlyphs">70°W</text>
<text x="1296.48" y="1397.30" font-size="26.12" textLength="69.03" lengthAdjust="spacingAndGlyphs">60°W</text>
<rect x="1675.0" y="1284.70" width="60.0" height="59.30" fill="#5e4fa2"/>
<rect x="1675.0" y="1225.40" width="60.0" height="59.80" fill="#486cb0"/>
<rect x="1675.0" y="1166.10" width="60.0" height="59.80" fill="#3389bd"/>
<rect x="1675.0" y="1106.80" width="60.0" height="59.80" fill="#50a9af"/>
<rect x="1675.0" y="1047.50" width="60.0" height="59.80" fill="#6bc4a5"/>
<rect x="1675.0" y="988.20" width="60.0" height="59.80" fill="#91d3a4"/>
<rect x="1675.0" y="928.90" width="60.0" height="59.80" fill="#b3e0a2"/>
<rect x="1675.0" y="869.60" width="60.0" height="59.80" fill="#d1ed9c"/>
<rect x="1675.0" y="810.30" width="60.0" height="59.80" fill="#ebf7a0"/>
<rect x="1675.0" y="751.00" width="60.0" height="59.80" fill="#f8fcb4"/>
<rect x="1675.0" y="691.70" width="60.0" height="59.80" fill="#fff7b2"/>
<rect x="1675.0" y="632.40" width="60.0" height="59.80" fill="#fee797"/>
<rect x="1675.0" y="573.10" width="60.0" height="59.80" fill="#fed07e"/>
<rect x="1675.0" y="513.80" width="60.0" height="59.80" fill="#fdb768"/>
<rect x="1675.0" y="454.50" width="60.0" height="59.80" fill="#fa9857"/>
<rect x="1675.0" y="395.20" width="60.0" height="59.80" fill="#f57547"/>
<rect x="1675.0" y="335.90" width="60.0" height="59.80" fill="#e85b48"/>
<rect x="1675.0" y="276.60" width="60.0" height="59.80" fill="#d7414e"/>
<rect x="1675.0" y="217.30" width="60.0" height="59.80" fill="#bc2249"/>
<rect x="1675.0" y="158.00" width="60.0" height="59.80" fill="#9e0142"/>
<rect x="1675.0" y="158.0" width="60.0" height="1186.0" fill="none" stroke="#000" stroke-width="2"/>
<line x1="1735.0" y1="1344.00" x2="1744.5" y2="1344.00" stroke="#000" stroke-width="2"/>
<text x="1752.50" y="1353.20" font-size="26.12" textLength="52.76" lengthAdjust="spacingAndGlyphs">−24</text>
<line x1="1735.0" y1="1284.70" x2="1744.5" y2="1284.70" stroke="#000" stroke-width="2"/>
<text x="1752.50" y="1293.90" font-size="26.12" textLength="52.76" lengthAdjust="spacingAndGlyphs">−22</text>
<line x1="1735.0" y1="1225.40" x2="1744.5" y2="1225.40" stroke="#000" stroke-width="2"/>
<text x="1752.50" y="1234.60" font-size="26.12" textLength="52.76" lengthAdjust="spacingAndGlyphs">−20</text>
<line x1="1735.0" y1="1166.10" x2="1744.5" y2="1166.10" stroke="#000" stroke-width="2"/>
<text x="1752.50" y="1175.30" font-size="26.12" textLength="52.76" lengthAdjust="spacingAndGlyphs">−18</text>
<line x1="1735.0" y1="1106.80" x2="1744.5" y2="1106.80" stroke="#000" stroke-width="2"/>
<text x="1752.50" y="1116.00" font-size="26.12" textLength="52.76" lengthAdjust="spacingAndGlyphs">−16</text>
<line x1="1735.0" y1="1047.50" x2="1744.5" y2="1047.50" stroke="#000" stroke-width="2"/>
<text x="1752.50" y="1056.70" font-size="26.12" textLength="52.76" lengthAdjust="spacingAndGlyphs">−14</text>
<line x1="1735.0" y1="988.20" x2="1744.5" y2="988.20" stroke="#000" stroke-width="2"/>
<text x="1752.50" y="997.40" font-size="26.12" textLength="52.76" lengthAdjust="spacingAndGlyphs">−12</text>
<line x1="1735.0" y1="928.90" x2="1744.5" y2="928.90" stroke="#000" stroke-width="2"/>
<text x="1752.50" y="938.10" font-size="26.12" textLength="52.76" lengthAdjust="spacingAndGlyphs">−10</text>
<line x1="1735.0" y1="869.60" x2="1744.5" y2="869.60" stroke="#000" stroke-width="2"/>
<text x="1752.50" y="878.80" font-size="26.12" textLength="36.86" lengthAdjust="spacingAndGlyphs">−8</text>
<line x1="1735.0" y1="810.30" x2="1744.5" y2="810.30" stroke="#000" stroke-width="2"/>
<text x="1752.50" y="819.50" font-size="26.12" textLength="36.86" lengthAdjust="spacingAndGlyphs">−6</text>
<line x1="1735.0" y1="751.00" x2="1744.5" y2="751.00" stroke="#000" stroke-width="2"/>
<text x="1752.50" y="760.20" font-size="26.12" textLength="36.86" lengthAdjust="spacingAndGlyphs">−4</text>
<line x1="1735.0" y1="691.70" x2="1744.5" y2="691.70" stroke="#000" stroke-width="2"/>
<text x="1752.50" y="700.90" font-size="26.12" textLength="36.86" lengthAdjust="spacingAndGlyphs">−2</text>
<line x1="1735.0" y1="632.40" x2="1744.5" y2="632.40" stroke="#000" stroke-width="2"/>
<text x="1752.50" y="641.60" font-size="26.12" textLength="15.91" lengthAdjust="spacingAndGlyphs">0</text>
<line x1="1735.0" y1="573.10" x2="1744.5" y2="573.10" stroke="#000" stroke-width="2"/>
<text x="1752.50" y="582.30" font-size="26.12" textLength="15.91" lengthAdjust="spacingAndGlyphs">2</text>
<line x1="1735.0" y1="513.80" x2="1744.5" y2="513.80" stroke="#000" stroke-width="2"/>
<text x="1752.50" y="523.00" font-size="26.12" textLength="15.91" lengthAdjust="spacingAndGlyphs">4</text>
<line x1="1735.0" y1="454.50" x2="1744.5" y2="454.50" stroke="#000" stroke-width="2"/>
<text x="1752.50" y="463.70" font-size="26.12" textLength="15.91" lengthAdjust="spacingAndGlyphs">6</text>
<line x1="1735.0" y1="395.20" x2="1744.5" y2="395.20" stroke="#000" stroke-width="2"/>
<text x="1752.50" y="404.40" font-size="26.12" textLength="15.91" lengthAdjust="spacingAndGlyphs">8</text>
<line x1="1735.0" y1="335.90" x2="1744.5" y2="335.90" stroke="#000" stroke-width="2"/>
<text x="1752.50" y="345.10" font-size="26.12" textLength="31.81" lengthAdjust="spacingAndGlyphs">10</text>
<line x1="1735.0" y1="276.60" x2="1744.5" y2="276.60" stroke="#000" stroke-width="2"/>
<text x="1752.50" y="285.80" font-size="26.12" textLength="31.81" lengthAdjust="spacingAndGlyphs">12</text>
<line x1="1735.0" y1="217.30" x2="1744.5" y2="217.30" stroke="#000" stroke-width="2"/>
<text x="1752.50" y="226.50" font-size="26.12" textLength="31.81" lengthAdjust="spacingAndGlyphs">14</text>
<line x1="1735.0" y1="158.00" x2="1744.5" y2="158.00" stroke="#000" stroke-width="2"/>
<text x="1752.50" y="167.20" font-size="26.12" textLength="31.81" lengthAdjust="spacingAndGlyphs">16</text>
<text x="1834.00" y="1101.79" font-size="26.12" textLength="117.12" lengthAdjust="spacingAndGlyphs" transform="rotate(-90 1834.00 1101.79)">Anomalía</text>
<text x="1959.07" y="1101.79" font-size="26.12" textLength="31.25" lengthAdjust="spacingAndGlyphs" transform="rotate(-90 1834.00 1101.79)">de</text>
<text x="1998.27" y="1101.79" font-size="26.12" textLength="30.68" lengthAdjust="spacingAndGlyphs" transform="rotate(-90 1834.00 1101.79)">θe</text>
<text x="2036.89" y="1101.79" font-size="26.12" textLength="31.25" lengthAdjust="spacingAndGlyphs" transform="rotate(-90 1834.00 1101.79)">de</text>
<text x="2076.09" y="1101.79" font-size="26.12" textLength="131.42" lengthAdjust="spacingAndGlyphs" transform="rotate(-90 1834.00 1101.79)">saturación</text>
<text x="2215.46" y="1101.79" font-size="26.12" textLength="77.87" lengthAdjust="spacingAndGlyphs" transform="rotate(-90 1834.00 1101.79)">media</text>
<text x="2301.27" y="1101.79" font-size="26.12" textLength="123.84" lengthAdjust="spacingAndGlyphs" transform="rotate(-90 1834.00 1101.79)">1000–200</text>
<text x="2433.06" y="1101.79" font-size="26.12" textLength="45.12" lengthAdjust="spacingAndGlyphs" transform="rotate(-90 1834.00 1101.79)">hPa</text>
<text x="2486.12" y="1101.79" font-size="26.12" textLength="49.46" lengthAdjust="spacingAndGlyphs" transform="rotate(-90 1834.00 1101.79)">[°C]</text>
</svg></body></html>
